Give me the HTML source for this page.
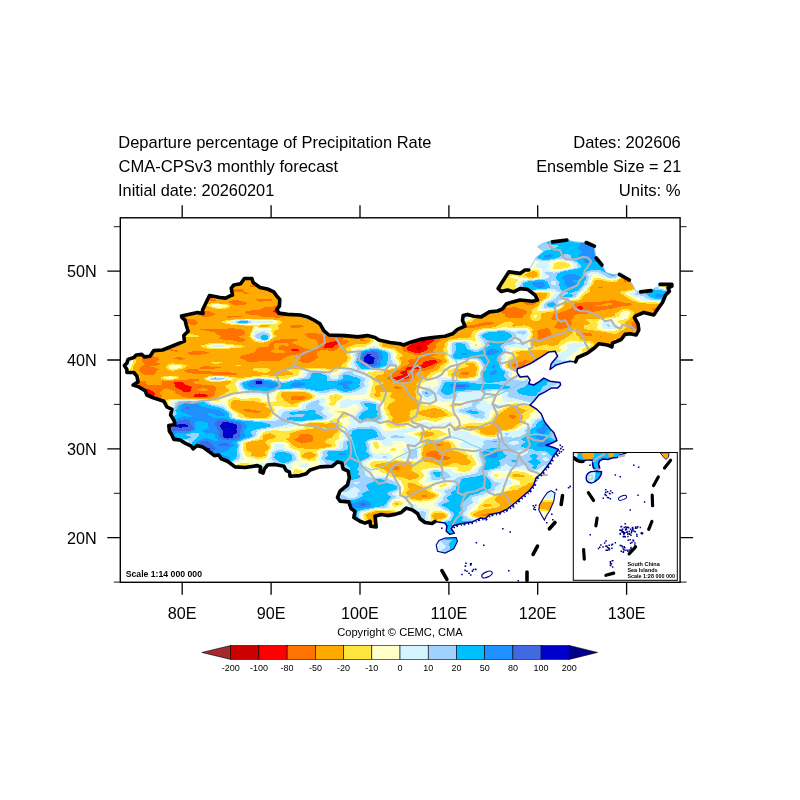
<!DOCTYPE html>
<html><head><meta charset="utf-8"><title>Departure percentage of Precipitation Rate</title>
<style>
html,body{margin:0;padding:0;background:#fff;}
svg{display:block;}
text{font-family:"Liberation Sans",sans-serif;fill:#000;}
.t{font-size:16.2px;}
.ax{font-size:16.2px;}
.cb{font-size:9px;}
.sm{font-size:8.7px;font-weight:bold;}
</style></head><body>
<svg width="800" height="800" viewBox="0 0 800 800">
<rect width="800" height="800" fill="#fff"/>
<text class="t" x="118.3" y="148" textLength="313.2" lengthAdjust="spacingAndGlyphs">Departure percentage of Precipitation Rate</text>
<text class="t" x="118.6" y="171.7" textLength="219.6" lengthAdjust="spacingAndGlyphs">CMA-CPSv3 monthly forecast</text>
<text class="t" x="118.0" y="195.5" textLength="156.3" lengthAdjust="spacingAndGlyphs">Initial date: 20260201</text>
<text class="t" x="573.2" y="148" textLength="107.6" lengthAdjust="spacingAndGlyphs">Dates: 202606</text>
<text class="t" x="536.2" y="171.7" textLength="145.0" lengthAdjust="spacingAndGlyphs">Ensemble Size = 21</text>
<text class="t" x="618.7" y="195.5" textLength="62.0" lengthAdjust="spacingAndGlyphs">Units: %</text>
<defs><clipPath id="cn"><path d="M435.0 521.5 432.0 523.5 425.0 522.5 420.0 518.8 417.5 513.5 412.5 510.0 406.2 508.1 401.2 512.5 395.0 514.4 387.5 515.6 381.2 514.4 375.0 516.2 375.6 521.2 376.2 526.9 370.6 526.2 370.0 521.2 365.0 523.1 360.0 521.2 353.8 517.5 355.0 511.2 351.2 508.8 348.8 501.9 340.0 501.2 337.5 497.5 340.0 491.2 347.5 485.0 349.4 477.5 348.1 471.2 343.1 468.8 341.9 463.1 337.5 461.9 332.5 466.2 320.0 466.9 310.0 470.0 306.2 473.8 300.0 475.6 290.0 476.2 289.4 471.9 286.2 470.6 283.8 466.2 275.0 464.4 267.5 465.0 264.4 468.8 263.1 473.1 260.0 471.9 260.6 466.9 257.5 465.6 245.0 467.5 235.0 466.9 227.5 461.2 221.2 458.8 218.8 455.0 214.4 455.6 209.4 451.9 202.5 446.9 196.9 445.6 193.1 448.8 191.2 446.2 185.0 443.1 180.0 440.0 173.8 439.4 171.9 435.0 169.4 431.2 168.8 425.6 175.0 424.4 173.8 420.0 170.6 415.0 171.9 409.4 166.9 406.9 163.8 401.2 152.5 397.5 146.9 395.0 145.0 390.6 138.8 386.9 133.1 385.0 138.1 381.9 136.9 376.2 133.8 372.5 126.9 372.5 126.9 369.4 124.4 365.6 126.9 363.1 128.1 359.4 133.8 357.5 136.2 355.0 141.9 354.4 144.4 356.9 150.0 356.2 153.8 350.6 162.5 350.0 175.0 345.0 184.4 341.2 183.8 335.6 188.1 331.2 186.2 325.0 185.0 320.0 182.0 317.5 181.5 316.0 197.5 312.5 203.0 313.5 202.5 310.0 209.5 295.5 220.0 297.5 225.6 298.1 230.6 295.6 232.5 295.0 231.2 288.1 233.8 285.0 240.6 283.8 244.4 278.5 251.9 278.5 253.1 282.5 260.0 287.5 267.5 289.0 273.8 291.9 276.9 296.2 279.8 299.4 279.4 306.2 276.9 309.4 278.8 313.1 287.5 314.4 300.0 315.0 307.5 316.9 313.8 320.0 320.0 323.8 323.8 330.6 328.8 335.0 345.0 335.6 357.5 336.9 367.5 335.6 375.0 337.5 378.8 340.0 390.0 342.5 400.0 343.8 403.8 345.0 411.2 341.9 420.0 339.4 432.5 337.5 445.0 336.2 452.5 333.8 457.5 329.4 465.0 326.2 462.5 320.5 463.1 315.6 467.5 314.4 473.8 316.2 481.2 316.9 489.4 311.9 497.5 311.0 502.5 308.8 506.2 304.0 512.5 301.9 520.0 300.0 532.5 301.2 537.5 300.0 535.0 295.0 527.5 289.4 520.0 288.6 513.8 291.9 507.5 290.0 501.2 291.5 498.1 288.5 508.8 271.9 520.0 273.4 525.0 270.0 528.8 270.0 536.2 257.5 543.8 251.2 537.5 246.9 541.9 243.8 551.2 240.6 566.9 240.0 575.0 241.9 585.0 242.5 594.4 246.2 595.0 252.5 596.2 258.0 601.9 265.0 606.2 272.5 612.5 274.4 619.4 274.4 629.4 280.0 631.2 282.5 636.2 291.2 640.6 291.9 651.2 290.6 655.0 288.0 660.0 286.0 660.0 284.4 671.9 284.4 671.9 286.2 668.0 288.0 669.4 291.2 665.6 295.0 662.5 302.5 658.8 307.5 653.8 315.0 643.8 312.5 636.2 315.6 634.4 317.5 638.0 323.8 638.8 330.0 636.2 335.0 630.0 333.8 625.0 334.4 621.2 339.5 612.5 343.1 611.9 346.9 607.5 345.0 598.8 343.8 595.0 347.5 587.5 353.1 577.5 357.5 575.6 361.9 570.0 361.2 562.5 363.1 556.2 365.0 550.0 369.4 551.2 363.8 557.5 356.2 555.0 351.2 548.8 351.9 542.5 356.2 536.2 360.0 530.0 363.8 520.0 368.1 517.5 368.5 517.0 372.0 518.5 375.0 520.0 376.9 527.5 376.2 530.0 380.0 528.8 383.8 533.8 385.0 540.0 381.2 543.8 378.1 550.0 381.2 560.0 382.5 560.6 385.0 557.5 388.1 551.2 388.1 545.0 391.9 538.8 395.0 533.8 401.2 530.0 405.0 536.2 408.8 541.2 413.8 543.8 420.0 545.0 422.5 550.0 428.8 553.8 432.5 557.0 440.5 551.0 443.5 546.0 445.3 553.0 447.3 558.5 449.5 553.5 456.0 550.0 462.5 546.2 467.5 541.2 473.8 536.2 477.5 533.8 485.0 528.8 491.2 521.2 497.5 515.0 503.0 507.5 508.8 500.0 512.5 490.0 514.4 485.0 518.8 480.0 518.1 472.5 521.9 461.2 523.8 453.8 525.6 451.2 528.8 454.4 533.1 450.0 534.4 446.2 531.2 446.9 526.2 445.0 523.1 Z M436.2 545.0 439.0 540.5 445.0 538.0 456.2 537.5 457.5 541.2 453.8 548.8 445.0 553.1 437.5 551.2 Z M551.2 490.6 555.0 493.1 553.8 501.2 550.0 510.0 546.2 516.2 544.4 520.0 542.5 516.9 538.8 510.0 539.4 505.0 543.8 497.5 547.5 492.5 Z"/></clipPath></defs>
<g clip-path="url(#cn)" shape-rendering="crispEdges" fill-rule="evenodd">
<rect x="120" y="220" width="560" height="360" fill="#ffffc8"/>
<path fill="#d4f5ff" d="M400.1 223.1 403.6 220.6 437.4 220.6 430.9 223.1 428 225.6 427.4 226.9 427.7 228.1 429.6 229.4 438.1 230.7 440.7 231.9 441.2 234.4 439.5 238.1 439.3 240.6 437.1 243.1 436.7 244.4 440.6 249.6 447.2 251.9 452.5 258.1 459.4 261.2 460.5 263.1 458.9 265.6 459.1 266.9 461.3 269.4 470.1 271.9 471.4 273.1 470.9 275.6 472.3 278.1 468.7 285.6 469.7 288.1 468.4 293.1 469.9 295.6 475.3 300.6 474.8 301.9 472.3 304.4 470.3 308.1 470.6 311.4 473 314.4 471.3 316.9 466.9 319.2 463.1 319.9 448.1 318.5 444.4 317.7 442.2 315.6 441.4 311.9 435.1 308.1 434.8 305.6 429.4 299.4 425.8 296.9 422.7 290.6 420.6 289.3 411.9 287.9 409.7 286.9 403 281.9 405.6 279.4 405.9 278.1 404.6 276.9 400.6 274.9 394.7 273.1 396.9 271.9 405.5 270.6 406.4 269.4 400.6 266.9 408.7 263.1 400.6 258.9 396.4 253.1 395.6 250.6 392.4 248.1 391.3 244.4 399.2 236.9 399.9 235.6 398 233.1 404.3 230.6 398.2 226.9 398.2 225.6ZM463.5 223.1 464.4 220.6 649.4 220.6 649.6 221.9 648.5 226.9 642.7 230.6 636.9 237.7 632.4 240.6 628.3 246.9 621.9 250.5 620.5 251.9 619.9 256.9 618.2 261.9 619.3 265.6 618.8 269.4 619.6 275.6 618.1 277.8 614.4 279.3 609.4 279.2 601.1 276.9 596.9 273.9 594.4 273.5 591.9 274.1 591.7 276.9 589 284.4 584.8 288.1 583.7 290.6 580.5 293.1 576.9 298.0 561.9 300.8 559.6 303.1 560 305.6 559.4 306.9 556.9 308.6 553.1 309.4 545.6 309.8 541.9 309.4 540.9 308.1 542.8 303.1 544.4 301.7 550.6 298.6 552.8 295.6 555.9 293.1 553.5 291.9 548.1 290.7 535.6 291.0 533.1 291.8 531.3 293.1 528.7 298.1 524.4 299.4 519.4 298.1 519 296.9 519.4 294.4 518 290.6 518.5 283.1 520.6 281.1 524.4 279.8 536.9 279.0 541 278.1 542.8 276.9 541.5 271.9 542.6 269.4 534.8 266.9 536.4 264.4 538.1 263.1 538.4 261.9 533.1 260.6 521.9 262.0 515.1 261.9 517.8 255.6 515.9 253.1 518.7 250.6 518.1 250.2 513.1 249.8 507.3 250.6 504.4 251.7 501.9 251.7 500.2 250.6 499.6 248.1 496.9 244.3 493.1 243.5 485.6 244.0 483.1 243.4 480.2 240.6 481.9 238.1 482 235.6 487.4 233.1 488.4 231.9 487.3 230.6 465.3 225.6 463.6 224.4ZM547.2 269.4 551.9 270.7 556.9 270.7 571.4 268.1 574.1 266.9 574.3 265.6 573.1 263.1 568.1 261.2 561.9 260.2 554.4 260.6 549.9 261.9 548.9 263.1 549.4 265.6 547.2 268.1ZM372.2 229.4 373.1 228.1 375.6 227.2 383.1 227.3 389.4 228.5 394.5 231.9 391.4 233.1 383.1 233.0 375.6 231.6 373.1 230.6ZM654.4 251.3 656.9 250.9 659.8 251.9 660.8 253.1 661.4 256.9 661.2 258.1 656.3 261.9 655.1 264.4 653 265.6 652.1 266.9 652.9 268.1 653 270.6 659.7 274.4 658.5 276.9 659.1 278.1 662.2 280.6 661.6 281.9 657.6 284.4 657 285.6 658 286.9 663.1 288.6 679.4 289.5 679.4 310.8 672.9 309.4 670.3 304.4 666.9 301.7 643.1 300.6 638.1 297.6 629.4 294.4 629.4 293.1 639.4 290.3 641.2 288.1 640.8 285.6 645.1 281.9 641.8 278.1 643.9 273.1 643.5 269.4 651 265.6 650.2 264.4 649.8 260.6 651.9 256.9 651.8 253.1ZM326.7 266.9 326.9 265.6 329.4 265.0 335.4 265.6 331.8 268.1 332.5 269.4 331.9 269.6 327.8 269.4 328 268.1ZM376.4 274.4 377.4 273.1 380.6 271.8 390.6 271.9 388 273.1 379.4 275.1 376.9 275.1ZM229.9 321.9 234.5 320.6 244.4 319.8 254.4 320.5 270.6 320.6 274.6 321.9 270.6 323.2 255.6 323.2 244.4 324.3 235.6 323.7ZM601.1 323.1 601.9 321.9 603.1 321.3 608.1 320.9 616.5 324.4 618.5 325.6 619.1 326.9 617.7 328.1 613.1 329.3 604.1 329.4 601.8 328.1 601.9 325.6ZM419.5 393.1 419.6 391.9 426.2 385.6 429.5 385.6 431.7 386.9 431.6 388.1 433.1 388.4 438.1 384.5 438.3 381.9 435.4 379.4 435.6 378.1 436.9 377.5 444.4 377.0 455.6 379.4 468.1 380.0 473.1 379.7 478.1 377.3 479.7 375.6 479.4 371.9 481.3 369.4 481.3 368.1 478.6 361.9 475.6 360.3 471.9 359.9 464.4 360.3 455.6 362.0 453.1 361.6 448.8 356.9 450.1 353.1 450 343.1 451.9 341.8 455.6 340.9 466.9 340.7 470.6 342.7 471.4 346.9 472.7 348.1 476.9 348.5 480.3 346.9 481.5 345.6 480.2 340.6 477.2 336.9 477.3 334.4 478.7 333.1 481.9 331.3 485.6 330.4 503.1 329.1 514.4 330.0 524.4 329.0 526.9 329.6 528.1 330.6 528.6 334.4 525.9 340.6 528 343.1 528.1 346.9 527.6 348.1 521.9 348.7 517.9 348.1 514.4 346.6 510.6 346.9 509.9 348.1 510.4 349.4 505.3 355.6 505.4 358.1 503.1 361.9 503.1 366.9 504.4 368.4 512.5 371.9 511.6 374.4 511.7 375.6 513.1 377.2 518.1 379.0 525.6 380.0 531.9 379.5 536.4 378.1 537.8 376.9 540.1 373.1 548.1 369.8 549.4 368.5 549.7 366.9 549.1 364.4 550 361.9 549.4 359.4 549.8 358.1 563.1 352.1 567.4 349.4 568 348.1 566.4 346.9 567.2 345.6 569.4 344.3 574.4 342.8 580.4 343.1 585.2 344.4 584.8 345.6 578.5 348.1 575.7 351.9 573.2 353.1 570.6 355.6 565.4 358.1 567 359.4 576.9 362.2 585.6 362.5 591.9 365.2 592.5 366.9 587.5 371.9 598.4 373.1 599.2 374.4 597.8 376.9 597.9 378.1 601.6 381.9 603.8 388.1 603.8 389.4 600.6 390.2 595.6 390.2 590.6 389.2 587.9 388.1 587.1 386.9 591.6 384.4 590.6 383.1 578 379.4 573.7 376.9 569.4 376.8 567 378.1 566.3 380.6 554.3 389.4 544.4 392.9 542.7 394.4 544.4 396.4 546.9 397.5 558.1 395.9 561.9 396.7 561.9 398.1 555.6 399.5 546.9 398.7 545.8 399.4 546.8 401.9 543.1 403.1 528.1 403.4 515.6 401.3 504.4 402.6 502.1 398.1 501.5 394.4 500.6 393.1 496.9 391.8 493 391.9 490.3 393.1 487.7 395.6 478.8 398.1 485.2 400.6 488.2 404.4 501.9 403.5 502.8 404.4 501.2 406.9 499.4 408.4 496.9 409.4 489.6 410.6 489.3 416.9 488.1 418.7 485.6 420.0 480.6 420.6 475.6 420.2 467.1 415.6 458.1 413.5 455 411.9 454.5 410.6 455.1 409.4 463.1 406.4 466.3 404.4 466.6 403.1 465.6 400.5 456.9 400.7 444.4 402.5 433.1 399.5 428.1 401.8 426.9 401.7 422.2 398.1ZM254.4 331.5 265.6 329.9 268.1 331.0 271.1 335.6 270.9 336.9 269.2 339.4 266.9 340.8 261.9 341.0 256.9 339.5 253.1 337.0 252.8 335.6ZM211.8 345.6 218.1 344.7 225.4 345.6 223.4 346.9 218.1 347.2 214.3 346.9ZM397 363.1 395.6 365.5 393.1 366.9 378.1 369.9 363.1 371.7 360.2 373.1 366.9 376.0 369.4 379.4 368 383.1 369 385.6 368.6 386.9 366 389.4 367.4 391.9 366.6 393.1 363.1 394.5 346.9 395.1 334.4 392.5 325.6 395.1 320.6 395.5 311.6 391.9 305.6 390.4 285.6 390.0 276.9 391.2 275.2 391.9 271.9 394.8 268.1 395.8 246.9 394.5 244.4 393.5 244.1 391.9 240.3 389.4 237.6 384.4 237.7 383.1 239 381.9 241.9 380.5 258.1 377.7 265.6 377.9 280.6 380.6 285.8 380.6 300.4 376.9 302.8 375.6 303.2 373.1 304.9 371.9 313.1 369.9 322.1 370.6 333.1 375.2 335.6 375.2 341.9 370.5 352.5 368.1 350.8 364.4 351.3 361.9 353.7 358.1 352.3 354.4 353.1 352.8 358.1 349.6 366.9 348.1 373.1 345.4 375.6 345.8 380.6 348.2 390.6 350.8 392 351.9 393.4 354.4 392.7 358.1 396.5 361.9ZM120.6 350.9 123.1 351.3 125.6 352.5 131.3 360.6 129 366.9 124.7 370.6 131.9 373.9 134.2 375.6 134 376.9 131.4 378.1 125.7 379.4 120.6 379.7ZM208.3 378.1 213.1 376.9 223.3 376.9 229.3 378.1 228.9 379.4 216.9 380.7 208.4 379.4ZM605.6 398.1 608.6 395.6 608.7 391.9 614.4 391.6 618 393.1 616.2 398.1 614.4 399.2 610.6 399.3ZM325.5 399.4 326 400.6 325.5 401.9 322.7 404.4 324.3 405.6 330.1 408.1 327.3 410.6 327.3 411.9 334.4 414.4 328.1 419.8 324.4 420.9 313.1 421.2 301.9 422.7 298.1 423.7 294.4 426.1 288.1 427.6 263.1 430.3 260.2 431.9 258.1 436.4 256.9 437.6 241.9 441.9 240.8 443.1 241.7 445.6 240.7 449.4 242.9 456.9 244.6 459.4 234.2 463.1 233.3 464.4 232 469.4 230.6 470.6 224.8 473.1 218 483.1 214.4 486.1 210.7 494.4 211.6 498.1 211.1 499.4 203.2 501.9 202.4 503.1 201.4 506.9 202 509.4 200.6 518.6 199.4 519.9 193.5 521.9 191.8 523.1 191.3 524.4 192.4 529.4 189.7 536.9 188.1 538.8 182.1 541.9 181.4 543.1 183.4 548.1 181.4 554.4 180.9 558.1 178.7 560.6 173.1 562.9 171.8 565.6 172.4 568.1 171.7 570.6 171.6 575.6 172.2 576.9 175.2 579.4 143.7 579.4 137.7 578.1 141.9 576.9 151.9 577.3 154.4 576.6 155.4 575.6 154.4 573.8 151.2 571.9 151 570.6 155.6 567.3 157.6 563.1 159.9 560.6 160.6 558.4 164.7 556.9 165.5 555.6 165 553.1 162.6 550.6 166.5 543.1 165.5 540.6 165.2 535.6 166.1 533.1 165.6 531.5 164.6 530.6 175.4 528.1 177 526.9 176.5 524.4 178.3 520.6 178.2 519.4 175.4 513.1 175.7 510.6 172.8 506.9 173.1 505.6 174.5 504.4 181.7 500.6 182.7 499.4 181.1 498.1 181 496.9 183.1 495.2 184.9 491.9 185.2 488.1 184.6 486.9 182.3 485.6 181.3 484.4 184.6 481.9 185 479.4 183.6 475.6 187.4 473.1 188.6 470.6 188.1 469.4 184.7 466.9 184.5 465.6 185.2 464.4 184.6 463.1 182.6 461.9 183.2 460.6 186.1 458.1 186.1 454.4 188 450.6 186.9 449.2 184.4 448.9 175.3 451.9 174.3 453.1 173.3 456.9 170.5 460.6 165.6 463.4 165.2 464.4 166.4 466.9 159 471.9 157.9 474.4 155.4 476.9 154.8 479.4 153.1 480.8 150.3 481.9 150.8 483.1 163.6 484.4 163.4 485.6 148.1 488.0 148 489.4 149.2 490.6 149.2 491.9 146.9 493.3 140.6 495.1 135.6 497.5 130.9 501.9 126.9 502.6 120.6 502.4 120.6 439.9 124.4 439.6 128.1 438.3 129.6 436.9 131.1 433.1 133.1 431.8 144.4 429.8 146.9 428.7 149.5 421.9 151.9 419.7 155.6 418.7 165.6 418.0 168.9 416.9 170.9 414.4 170.4 410.6 172.5 406.9 171.4 403.1 171.8 401.9 175.4 400.6 183.1 400.0 207.3 400.6 214.4 403.3 224.4 404.7 225.6 405.6 227 408.1 234.3 414.4 234.4 416.9 236.3 418.1 245.2 419.4 265.6 420.2 270.6 419.8 273.1 418.8 275.9 415.6 278.1 411.6 280.6 409.6 283.1 409.0 298.1 408.8 300.4 408.1 302.3 404.4 304.2 403.1 315.6 398.9 321.9 397.7ZM456.1 423.1 448.1 423.5 443.1 426.9 420.6 428.6 412.9 431.9 403.3 433.1 405.1 434.4 416.9 438.1 418.4 439.4 419.3 443.1 416.9 446.9 419.2 450.6 418.7 453.1 419.4 456.9 418.1 458.7 415.6 460.0 404.9 459.4 398.8 458.1 402.5 455.6 404.4 453.6 404.6 451.9 402.4 449.4 403.1 448.3 408 446.9 409.2 445.6 403.1 441.2 400.6 440.6 393.4 440.6 391.7 441.9 393.1 444.4 391.9 445.5 386.9 446.7 384.4 446.4 383.2 445.6 381.2 441.9 378.6 440.6 373.1 440.5 370.3 441.9 372.1 451.9 373.1 452.6 376.9 453.7 383.1 452.4 386.9 452.7 391.9 455.2 393.4 456.9 393.7 458.1 386.9 459.8 375.6 458.5 371.9 459.2 365.3 463.1 367.2 468.1 371.5 470.6 372.4 471.9 371 474.4 372.1 475.6 384.4 476.1 397.2 480.6 401 485.6 401.6 489.4 400.5 490.6 396.9 493.1 397.1 494.4 400.8 496.9 401.1 498.1 399.4 499.1 394.4 500.1 391 501.9 389.9 504.4 390.3 508.1 389.4 508.6 385.6 509.3 374.4 509.3 364 511.9 361.5 513.1 360.9 514.4 361.8 519.4 362.9 521.9 362.6 525.6 363.9 528.1 360.7 535.6 360.8 539.4 363.7 541.9 363.8 543.1 362 545.6 362 546.9 365 550.6 358.7 555.6 359.8 559.4 360.3 565.6 362.1 569.4 359.7 574.4 360.6 579.4 271.2 579.4 267.5 575.6 267.1 573.1 267.6 571.9 275.4 566.9 275.6 563.1 279 558.1 277.3 554.4 278.1 553.2 280.6 551.3 286.9 548.4 288.2 546.9 288.4 545.6 287.5 543.1 288.4 540.6 287.4 534.4 287.9 533.1 298 528.1 299.2 523.1 298.8 520.6 300.9 518.1 305 515.6 306 511.9 305.5 510.6 303.1 509.0 298.1 506.9 296.8 505.6 306.6 503.1 308.8 500.6 314.4 498.1 314.3 496.9 303.1 496.5 300.2 495.6 303.9 491.9 303.4 490.6 298.9 488.1 298.5 486.9 308.7 483.1 308.6 481.9 309.5 480.6 314.4 479.2 316.9 477.2 317.8 475.6 316.9 473.5 310.4 470.6 311.1 469.4 317.1 466.9 320 464.4 320.1 461.9 319 458.1 320.7 454.4 319.5 451.9 320.6 450.6 323.1 449.9 335.6 448.5 338.9 446.9 339.5 445.6 339.1 443.1 339.6 441.9 344.1 439.4 344.4 438.5 341.9 435.6 343.9 433.1 344.9 429.4 351.8 423.1 349.4 420.6 349.3 419.4 354.4 414.4 355.6 411.7 359.7 408.1 358.1 405.8 354.4 403.8 345.6 407.9 343.1 408.2 340.6 407.7 339.5 406.9 340.2 401.9 341.5 400.6 346.9 399.1 355.6 400.2 365.6 399.1 375.6 401.2 380.2 403.1 381.2 404.4 381.3 408.1 382.9 411.9 382.8 414.4 385.3 416.9 385.3 418.1 381.4 421.9 380.1 425.6 382.1 429.4 385.6 431.1 399.4 430.3 414.2 426.9 417.9 423.1 423.1 421.8 426.9 422.0 435.6 424.9 449.4 421.8 454.4 421.8ZM679.4 449.8 679.4 497.9 669.4 497.7 659.4 499.1 654.4 499.1 645.5 498.1 638.1 496.3 624.4 495.9 618.1 496.3 611.9 498.5 605.6 499.2 591.9 498.2 576.9 496.0 558.1 498.3 546.9 498.6 544.4 498.1 543.3 494.4 543.4 493.1 545.4 491.9 554.4 490.2 564.4 490.7 565.6 489.4 553.1 487.3 551.9 485.6 552.1 484.4 550.9 480.6 544.4 478.1 545.2 476.9 547.9 475.6 551.9 469.7 554.3 468.1 553.1 467.0 548.1 467.6 543.1 469.0 539.6 470.6 536.9 473.2 534.4 473.0 520.6 469.1 511.9 469.5 504.4 471.1 495.6 470.7 491.9 471.7 490.9 475.6 494.4 478.6 496.9 479.3 503.1 478.2 506.9 478.7 510.7 480.6 512.5 483.1 511 484.4 502.6 486.9 501.9 488.1 502.2 489.4 500.6 490.6 492.6 493.1 485.6 496.4 479.3 498.1 477.7 499.4 479.4 501.9 478.5 503.1 472.2 506.9 471.3 509.4 466.9 513.1 466.6 514.4 470.6 517.8 478.7 520.6 478.9 524.4 481.1 529.4 479.3 533.1 480.6 537.8 483.1 539.3 489.2 540.6 491.2 541.9 490.4 544.4 491.4 548.1 490.5 553.1 491 554.4 493.6 556.9 494.7 559.4 499.9 561.9 502.2 566.9 503.1 567.8 509.4 570.0 512 571.9 513.7 574.4 513.6 578.1 514.1 579.4 393.5 579.4 391.9 577.3 388.7 575.6 388.9 574.4 392.6 570.6 393.8 566.9 395.4 565.6 399.4 565.0 406.9 565.8 408.5 565.6 409.6 564.4 403.1 561.1 395.6 559.7 393.9 558.1 393.9 556.9 396.9 555.0 403.1 552.5 411.9 552.4 414.4 551.9 415 550.6 410.6 549.7 404.4 550.4 402.5 549.4 402.3 548.1 404.4 543.1 401.5 540.6 401.1 539.4 402.3 536.9 402.1 535.6 399.3 531.9 399.1 530.6 402.2 523.1 400.2 520.6 400.4 519.4 404 515.6 403.8 511.9 400.6 509.4 400.7 508.1 409.4 503.8 411.9 503.7 416.1 504.4 417.4 505.6 416.8 506.9 418 508.1 426.9 508.8 428.7 509.4 430 510.6 427.9 515.6 429.1 520.6 427.1 524.4 427 528.1 421.9 530.9 417.3 535.6 417.8 540.6 418.6 541.9 423.1 543.3 429.4 543.3 435.6 541.3 438.1 539.9 439.4 538.1 439.3 534.4 440.7 529.4 439 525.6 439 523.1 440.6 521.7 446.9 519.3 449.6 516.9 449.7 514.4 447.5 511.9 433.9 505.6 433.9 503.1 438.1 500.3 442.3 494.4 440.6 492.9 435 490.6 436.9 489.3 446.9 487.9 452.3 484.4 453 483.1 450.6 481.6 445.6 480.9 434.4 482.3 424.4 481.9 427.3 478.1 428 475.6 427.4 471.9 429.4 470.2 433.1 469.1 450.6 469.4 454.4 472.5 456.9 473.4 465.6 473.6 473.1 471.6 474.5 470.6 476 468.1 479.6 465.6 480 464.4 475 453.1 478 450.6 477.6 449.4 474.4 448.6 463.1 447.9 461.2 446.9 459.6 444.4 460.3 443.1 463.6 441.9 464.3 440.6 460.6 439.4 453.1 439.2 447.3 438.1 448.1 436.9 454.2 434.4 449.6 431.9 450.4 430.6 458.1 430.2 468.6 431.9 472.1 434.4 478.1 436.1 481.9 438.4 495.6 438.2 499.6 436.9 501.8 433.1 505.6 431.7 516.9 431.2 521.9 428.2 526.1 426.9 527.8 424.4 530.7 421.9 530.3 420.6 530.9 419.4 538.6 416.9 541.1 415.6 541.5 414.4 543.1 413.4 550.6 413.2 558.1 411.1 569.4 410.3 580.6 407.7 608.1 408.5 611.4 409.4 610 411.9 617.3 413.1 615.4 415.6 615.9 416.9 618.4 418.1 624.4 419.5 634.4 419.9 638.1 421.4 639.5 423.1 639.4 424.4 641.5 426.9 641.2 428.1 639.9 429.4 640.6 430.4 652.6 431.9 653.9 433.1 653.9 434.4 667.9 441.9 670.7 446.9 672 448.1 675.6 449.5ZM587.1 428.1 595.6 428.3 598.1 427.9 599.6 426.9 595.2 425.6 591.6 425.6 587.3 426.9ZM560.8 430.6 564.4 431.8 568.1 432.0 577.1 430.6 580.2 429.4 577.2 428.1 569.4 426.7 561.7 429.4ZM601.3 490.6 605.6 491.9 609.1 490.6 607.2 489.4 603.1 489.6ZM654.6 489.4 659.5 489.4 656.9 488.7ZM575.8 490.6 579.4 491.0 581.2 490.6ZM423.1 560.6 423.1 561.9 429.4 563.0 433.1 562.9 434.9 561.9 434.7 560.6 433.1 560.0ZM621.1 411.9 624.1 410.6 626.9 410.3 631.3 410.6 633.8 411.9 626.9 413.2 623.1 412.9ZM253.9 465.6 256.9 464.3 268.8 461.9 268.1 459.4 270 455.6 270.1 451.9 275 448.1 273.8 445.6 273.9 444.4 275.6 443.9 283.3 444.4 284.7 445.6 283.3 448.1 290.6 450.3 295.6 452.5 297.4 454.4 298.1 458.0 299.9 460.6 293.1 462.9 290.8 464.4 290.8 465.6 292.2 466.9 290.2 473.1 290.5 474.4 292.6 476.9 290.9 478.1 288.1 478.6 281.7 478.1 279.1 476.9 278.2 475.6 278.7 473.1 282.1 468.1 281.9 466.9 280.3 465.6 273.1 464.1 263.1 467.2 258.1 468.0 254.4 467.1ZM308.6 464.4 306.9 466.9 303.1 467.3 298.5 466.9 299.3 465.6 305.6 463.3 307.3 463.1ZM254.4 470.0 258.1 469.4 265.6 471.0 270.1 473.1 270.3 475.6 273 478.1 273.1 479.4 269.7 484.4 266.9 486.9 268.7 490.6 267.3 494.4 270.4 496.9 265.6 498.7 256.9 499.2 249.8 493.1 249.5 491.9 253.5 488.1 249.8 485.6 249.9 484.4 253.1 479.1 255.4 476.9 250 474.4 249.3 473.1ZM253.6 500.6 255.6 499.5 258.1 499.5 269.6 501.9 270.1 503.1 269.5 504.4 270.4 506.9 270.3 508.1 264.9 510.6 263.9 511.9 264.4 513.1 270.1 516.9 269.9 518.1 266.4 519.4 255.6 521.2 249.1 516.9 248.7 515.6 251.4 509.4 250.7 506.9 251.1 505.6 254.1 503.1ZM159.7 515.6 158.1 516.6 153.1 517.4 147.6 519.4 141.9 520.3 133.1 519.4 127.9 518.1 126.8 516.9 128.9 515.6 131.9 515.1 143.1 515.8 145.6 515.3 146.9 514.4 150.6 514.0 157.7 514.4ZM635.4 518.1 636.6 516.9 645.6 515.8 649.4 516.3 650.5 516.9 651.9 518.8 659.6 520.6 657.8 521.9 657.5 523.1 664.4 524.7 670.6 527.8 679.4 528.0 679.4 532.6 665.6 532.5 661.9 531.9 648.1 525.4 640.6 523.8 637 520.6ZM543.7 524.4 545.6 520.2 546.9 519.0 549.4 518.4 558.1 521.6 563.1 522.6 568.1 523.0 576.9 521.4 581.9 521.5 589.9 523.1 593.1 524.7 597.2 525.6 595.6 526.4 589.4 525.6 564.4 526.9 546.9 525.4ZM251.6 526.9 253.1 525.0 254.4 524.6 255.6 525.1 258.1 528.1 259.9 529.4 260.2 530.6 255.6 532.8 253 533.1 251.3 531.9 252 530.6ZM565 534.4 566.9 533.7 574.4 533.6 581.9 532.2 586.9 532.1 590.7 533.1 591.4 534.4 590.9 535.6 593.9 538.1 590.6 538.9 586.9 538.8 584 538.1 583.4 536.9 581.9 535.9 579.4 535.1 574.4 534.6 566.9 535.8ZM658.5 535.6 660.6 535.2 663 535.6ZM560.3 540.6 563.1 539.0 565.6 538.5 572.5 540.6 574.3 541.9 569.4 542.4ZM546.5 541.9 547.1 540.6 550.6 540.4 555.2 540.6 558.5 541.9 551.9 542.8ZM127.3 541.9 138.1 540.6 141.9 541.8 142.4 543.1 139.4 544.4 133.1 544.7 127.7 543.1ZM626 543.1 626.4 541.9 629.4 541.3 634.4 541.8 638.4 543.1 637.2 544.4 630.6 545.1 628.1 544.5ZM670.7 546.9 673 545.6 679.4 545.3 679.4 548.4 674.3 548.1ZM619.6 550.6 616.9 552.0 612 553.1 596.9 553.5 593.1 556.3 589.4 557.4 574.4 557.0 569.9 555.6 568.6 554.4 584.4 550.5 589.4 550.2 595.6 551.1 604.4 548.8 618.8 549.4ZM642 550.6 648.1 549.4 654.6 550.6 652.4 551.9 645.6 551.9ZM676.9 557.6 679.4 556.7 679.4 559.5 676.9 558.3ZM617.7 561.9 620.3 560.6 639.6 561.9 633.1 563.4ZM120.6 566.3 120.6 563.4 126.9 563.4 129.5 564.4 125.7 565.6ZM533.8 564.4 535.9 564.4 539.4 566.0 550.6 567.3 553.1 568.1 546.9 569.9 537.1 569.4 534.3 568.1 534.9 566.9ZM564.4 568.1 581.9 563.3 585.6 563.8 590.6 565.5 599.4 566.9 601.6 568.1 595.6 570.6 594.2 573.1 581.9 574.3 576.9 574.1 573.1 573.2 570 571.9ZM120.6 569.2 126.9 572.3 129.1 574.4 126.9 576.4 121.4 578.1 125.7 579.4 120.6 579.4ZM521.8 579.4 524.4 578.8 527.3 579.4Z"/>
<path fill="#a0d2ff" d="M408.2 220.6 432 220.6 424.3 225.6 423.1 226.9 422.3 229.4 436.9 231.8 438.6 233.1 438.7 234.4 436.4 240.6 433.1 242.0 426.5 243.1 426 244.4 433.5 246.9 437.3 250.6 443 251.9 445.8 253.1 449.4 258.6 455.3 263.1 454.1 265.6 458.2 269.4 467.8 273.1 467.9 275.6 469.6 278.1 467.2 281.9 465.6 287.5 463.4 290.6 463.7 293.1 468.7 296.9 471.4 300.6 471 301.9 466.5 306.9 468 311.9 469.7 314.4 469.5 315.6 468.2 316.9 464.4 318.2 460.6 318.5 448.1 316.9 445.6 316.1 444.5 314.4 445.2 311.9 438.7 308.1 438.9 305.6 434.4 302.2 428.2 295.6 425.7 291.9 425.8 289.4 414.4 286.7 408.4 283.1 408.2 281.9 410.2 279.4 410 278.1 406.1 274.4 406.5 273.1 413.3 269.4 413.1 268.1 411 266.9 411.3 265.6 417.8 263.1 409.1 260.6 404.2 258.1 403 256.9 402.8 254.4 400 250.6 397.4 244.4 399.6 241.9 401.2 238.1 404.1 234.4 412.9 231.9 414.5 230.6 405.6 228.8 402 226.9 401.9 225.6ZM430.3 286.9 430.8 288.1 436.9 288.8 444.1 288.1 445.4 286.9 438.1 285.9ZM467.3 221.9 467.7 220.6 485.9 220.6 485.5 223.1 486.9 223.7 494.4 224.4 500.7 223.1 494.3 220.6 648.2 220.6 648.1 224.4 646.9 226.9 641.9 229.9 635.9 236.9 630.2 240.6 628.6 244.4 626.6 246.9 621.5 249.4 619 251.9 618.5 256.9 616.6 261.9 617.7 265.6 617.3 269.4 618.1 273.1 617.1 276.9 614.4 278.2 610.1 278.1 606.6 276.9 605.3 275.6 599.4 272.6 595.6 271.6 591.9 271.9 587.8 273.1 587.4 274.4 588.4 275.6 588.8 278.1 586.8 284.4 582.4 288.1 581.1 290.6 577.6 293.1 575.5 296.9 572.3 298.1 561.9 299.2 559.4 300.0 557.9 301.9 558.2 305.6 557.3 306.9 554.4 308.1 549.4 308.5 545.6 308.3 544.4 307.6 543.9 305.6 544.8 303.1 553.4 299.4 555.3 298.1 555.9 296.9 560.5 294.4 561.4 293.1 560.1 291.9 554.4 289.0 534.4 290.3 531.9 291.2 529.5 293.1 526.9 297.5 525.6 298.2 523.1 298.2 521.4 296.9 521.3 294.4 519.7 290.6 520.9 283.1 522.2 281.9 525.6 280.7 548.1 278.3 549.4 276.9 549 275.6 544.8 273.1 545.6 271.9 554.4 272.6 575.9 268.1 577.7 266.9 576.4 263.1 574.4 261.8 564.4 258.7 555.6 259.4 544.4 261.5 534.4 259.1 524.4 258.8 523.4 258.1 523.5 256.9 521.5 253.1 526.1 249.4 525.5 248.1 521.9 247.1 508.1 248.7 503.1 248.1 501.6 246.9 500.8 244.4 499.3 243.1 489.4 241.0 487.4 239.4 488.7 235.6 493.3 233.1 493.7 231.9 488.1 229.1 470.6 225.3 468.1 224.0ZM528.5 223.1 535.6 223.1 531.9 222.3ZM551.7 280.6 550.7 283.1 551.5 284.4 554.4 285.2 555.6 284.6 556.5 281.9 554.4 280.7ZM377 229.4 383.4 229.4 381.9 230.4ZM645.6 278.1 647.9 274.4 653.1 274.3 654.3 275.6 653.7 276.9 657 279.4 657.5 280.6 655.6 281.4 651.9 281.2 646.4 279.4ZM634 294.4 635 293.1 641.9 291.1 645.6 286.1 648.1 285.2 661.9 289.4 679.4 290.5 679.4 309.7 676.4 309.4 674.4 308.1 672.9 304.4 668.2 300.6 650.6 299.7 646.9 298.4 643.1 296.2ZM234.2 321.9 238.6 320.6 244.4 320.2 249 320.6 251.6 321.9 249.4 323.3 244.4 323.8 238.1 323.5ZM606.3 324.4 608.8 324.4 610.6 325.6 610.4 326.9 608.1 326.8ZM436.9 393.1 436.8 391.9 440.8 384.4 441.9 381.0 443.1 379.5 474.4 381.4 476.9 380.9 481.3 375.6 481 371.9 483.2 369.4 483.3 368.1 480.6 361.6 478.1 359.8 474.4 359.0 456.9 360.3 453.1 359.4 450.6 356.9 452.5 350.6 452 344.4 452.4 343.1 455.5 341.9 465.2 341.9 468.1 343.6 469 346.9 470.6 348.8 474.4 350.2 478.1 349.7 485.1 345.6 483.3 340.6 479.7 336.9 479.3 335.6 479.8 334.4 483.1 332.4 486.9 331.4 501.9 330.1 509.4 330.9 515.5 333.1 516.4 335.6 516.4 336.9 512.3 339.4 512.1 340.6 516.9 342.8 524 343.1 524.1 344.4 523.1 345.0 516.9 343.4 505.2 345.6 503.9 346.9 506.5 350.6 501.3 355.6 501.6 359.4 500.9 363.1 501.9 368.0 508.8 371.9 507.8 374.4 508 375.6 510.6 378.2 514.4 380.0 526.9 381.4 538.2 379.4 541.1 376.9 541.8 374.4 543 373.1 550.7 370.6 551.8 368.1 551.3 364.4 553.1 360.0 554.4 359.1 556.9 359.2 566.2 361.9 566.3 363.1 567.6 364.4 573.1 366.7 581.9 364.3 585.6 364.4 588.8 365.6 588.9 366.9 585.2 369.4 573.5 371.9 564.4 375.6 562.5 378.1 562.4 380.6 561 381.9 555.6 384.9 550.4 386.9 545.7 390.6 540.8 393.1 539.9 394.4 540.2 396.9 539.1 399.4 539.2 400.6 536.9 401.7 526.9 401.6 516.9 398.8 510.6 397.8 508.3 396.9 507.4 395.6 508.5 391.9 495.6 390.0 491.9 390.2 485.6 391.7 475.6 391.3 460.6 392.1 457.2 393.1 456.7 394.4 457.7 396.9 453.8 398.1 446.9 399.1 442.6 398.1ZM515.9 333.1 517 331.9 520.6 330.6 524.4 330.6 526 331.9 525.6 333.7 523.1 334.9ZM255 335.6 255.8 334.4 259.4 332.6 264.4 332.2 268.1 333.6 269.6 335.6 269.8 336.9 268.4 339.4 264.4 340.8 256.9 337.9 255.3 336.9ZM353.8 361.9 355.8 358.1 355.2 354.4 355.7 353.1 357.5 351.9 361.9 350.1 374.4 347.4 386.6 350.6 389.2 351.9 390.5 354.4 390.5 358.1 393 363.1 392.7 364.4 391 365.6 379.4 368.8 357.4 370.6 357.1 368.1 355.1 365.6ZM120.6 352.8 123.1 353.2 124.8 354.4 125 356.9 129.2 360.6 126.8 366.9 124.4 368.3 120.6 368.8ZM365.5 379.4 363.4 383.1 365 385.6 364.7 386.9 355.6 391.5 348.1 393.5 343.1 393.1 334.4 390.5 331.9 390.7 325.6 393.1 323.1 393.3 305.6 389.6 285.6 389.3 274.4 390.6 268.1 393.6 263.1 393.6 251.9 392.4 244.4 389.8 241.9 388.1 239.7 384.4 239.9 383.1 243.1 381.2 258.1 378.3 268.1 379.0 281.9 381.6 286.9 381.4 293.1 379.6 304.4 377.5 306.9 375.7 307.6 373.1 310 371.9 314.4 371.0 320.6 371.7 326.9 374.2 329.4 375.6 330.7 378.1 331.9 379.1 334.4 379.6 336.9 379.3 339.2 378.1 339.3 375.6 344.4 372.1 348.1 371.2 353.1 371.4 353.9 371.9 352.9 373.1 354.2 374.4 362.8 376.9ZM129.6 375.6 128.1 377.0 120.6 378.1 120.6 374.6 126.8 374.4ZM210.5 379.4 210.5 378.1 214.4 377.4 224.6 378.1 224.2 379.4 214.4 380.0ZM421.4 393.1 421.9 391.7 425.6 390.2 429.4 390.7 434.6 393.1 430.6 396.0 426.9 397.0 424.4 396.4ZM320.6 400.6 320.3 401.9 318.7 403.1 318.4 404.4 324.2 408.1 321.7 410.6 321.4 411.9 322.1 413.1 326.9 415.9 326.9 418.1 325.3 419.4 291.9 422.5 289.4 423.1 286.9 424.7 277.6 426.9 261.6 429.4 258 430.6 256.4 431.9 256.1 435.6 255 436.9 239.8 441.9 239 443.1 240.1 445.6 238.8 449.4 239.9 455.6 239.6 458.1 238.8 459.4 232.8 461.9 231 464.4 230.6 468.1 229.7 469.4 223.1 472.1 219.8 478.1 213.2 484.4 211.7 486.9 209.5 493.1 209.4 498.1 207.7 499.4 202.8 500.6 200.6 501.9 199.6 506.9 200.3 509.4 198.7 518.1 197.3 519.4 190.6 522.2 189.6 524.4 190.7 529.4 188.9 535.6 186.9 538.0 179.9 541.9 179.5 543.1 181.4 546.9 181.5 549.4 178.2 558.1 176.4 559.4 171.8 560.6 170.1 561.9 170.7 568.1 169.9 571.9 170 575.6 172.9 579.4 155.7 579.4 158.1 575.6 156.5 571.9 156.5 570.6 159.3 564.4 164.4 559.7 168.1 558.2 168.9 556.9 168.1 553.1 166 549.4 169.1 543.1 168.2 540.6 168.6 534.4 170.9 530.6 178.4 528.1 179.3 526.9 179 524.4 180.3 520.6 178.2 513.1 178.5 509.4 176.9 506.9 176.8 505.6 179.5 503.1 185.2 500.6 186.4 499.4 185.5 496.9 188 488.1 186.7 484.4 187.4 475.6 190.7 471.9 190.9 470.6 188.2 466.9 188.5 463.1 187.4 460.6 188.8 458.1 188.6 454.4 190.8 450.6 189.4 448.1 186 445.6 188.1 444.3 189.3 441.9 188.4 440.6 185.6 440.3 181.3 441.9 181.5 443.1 185.4 445.6 180.6 448.6 171.8 451.9 171.5 454.4 170.1 456.9 162.2 463.1 162.6 466.9 161.9 468.1 155 471.9 154.2 474.4 151.8 476.9 151.4 479.4 144.6 481.9 143.3 483.1 145.2 485.6 143.2 488.1 143 490.6 133.1 492.9 134.1 495.6 128.1 500.2 120.6 500.8 120.6 441.0 125.6 440.5 128.1 439.5 130.9 436.9 132.3 433.1 134.4 432.1 144.4 430.5 147.8 429.4 148.9 428.1 150 423.1 151.9 420.6 156.2 419.4 166.9 418.6 170.6 417.3 173.2 414.4 172.6 410.6 174.4 408.1 175.1 403.1 176.1 401.9 179.4 401.0 199.4 400.7 208.2 401.9 211.5 404.4 220.6 405.9 223.1 407.0 230.7 413.1 231.6 414.4 231.7 416.9 233.1 418.2 241.9 419.8 269.4 421.4 276 420.6 279.2 419.4 283.4 411.9 288.1 410.9 303.8 409.4 306.3 408.1 306.1 405.6 311.6 401.9 316.9 400.3ZM354.3 419.4 354.6 418.1 358.3 413.1 363.2 408.1 359.8 403.1 360.2 401.9 364.4 401.1 369.4 401.4 375.6 402.7 378.6 404.4 379.2 409.4 380.5 411.9 380 414.4 382.4 416.9 382.3 418.1 380.6 419.5 376.9 421.4 373.1 422.2 359.4 421.3 356.3 420.6ZM459.1 410.6 460.6 409.4 470.8 406.9 472.5 405.6 472.1 403.1 473.1 401.9 475.6 401.1 478.1 401.2 479.9 401.9 479.8 403.1 475.5 405.6 475.8 406.9 478 409.4 484.4 412.2 485.2 413.1 484.3 414.4 484.5 415.6 485.7 416.9 485 418.1 483.1 418.6 476.9 418.3 470.6 415.1 459.6 411.9ZM679.4 450.9 679.4 486.1 665.6 483.7 654.4 483.8 641.9 481.9 631.9 482.6 616.9 481.9 598.1 485.7 588.1 483.4 574.4 483.7 567.4 480.6 567.2 479.4 567.9 478.1 566.9 476.5 564.4 475.4 557.7 474.4 555.6 473.4 555.1 471.9 556 470.6 560.2 468.1 560.4 466.9 558.1 465.2 553.1 464.3 545.6 464.7 543.3 465.6 540.8 468.1 538.5 469.4 533.1 470.6 527.8 469.4 526.8 468.1 527.5 466.9 527.5 465.6 524.4 465.2 518.1 467.2 513.1 467.4 510.4 466.9 506.9 464.4 505.6 464.2 499.4 468.6 490.2 470.6 488.2 471.9 488.4 475.6 492.7 480.6 495.6 482.1 502.2 483.1 494.9 486.9 495.2 489.4 494 490.6 488.1 492.2 483.1 494.5 473.3 496.9 471.9 497.9 471.3 499.4 472.9 501.9 472.4 503.1 466.4 506.9 466.9 509.4 462.8 513.1 463 514.4 468.1 518.6 475.3 520.6 476.6 521.9 479.4 529.4 477.8 533.1 478.8 538.1 480.6 539.8 488.4 541.9 488.3 544.4 489.3 548.1 488.3 554.4 490.5 556.9 490.7 559.4 497.5 561.9 498.8 563.1 500.4 568.1 507.1 570.6 508.9 571.9 510.6 575.6 510.9 579.4 438.5 579.4 442 576.9 442.7 575.6 439.8 574.4 434.4 573.6 431.9 573.8 422.6 578.1 423.1 579.4 397.5 579.4 396 575.6 397.8 574.4 401.9 573.9 411.9 574.4 418.2 573.1 416.9 572.3 406.9 570.6 420.6 568.0 421.8 569.4 420.6 571.9 429.4 572.3 431.9 571.6 437.7 568.1 440.1 565.6 440.8 564.4 440.8 560.6 443.3 558.1 442.9 553.1 440.6 550.6 444.9 548.1 445.8 546.9 445.5 545.6 441.3 541.9 440.9 540.6 441.2 534.4 442.7 529.4 440.5 524.4 441.9 522.4 449.2 519.4 451.7 515.6 450.9 513.1 449.8 511.9 438 505.6 437.8 504.4 438.8 503.1 443 500.6 442.7 498.1 446.4 494.4 444.2 491.9 444.6 490.6 450.6 488.7 457.2 483.1 456.9 481.9 454.7 479.4 456 478.1 460.6 476.5 473.1 474.2 478.2 471.9 479 468.1 482.4 465.6 482.7 464.4 478.8 455.6 478.6 453.1 481.2 450.6 482.6 445.6 484.5 444.4 483 441.9 484.5 440.6 498.1 438.9 505.6 436.3 513.1 437.7 519.4 436.9 525.6 433.1 525.9 431.9 524.5 430.6 525.2 429.4 531.7 426.9 532 424.4 535 421.9 535.1 420.6 536.9 419.3 543.1 418.1 554.6 418.1 555.8 416.9 555.9 415.6 557.3 414.4 561.9 412.9 573.1 412.5 594.4 409.6 599.6 410.6 599.3 411.9 599.9 413.1 602 414.4 604 416.9 613.1 419.4 614.8 420.6 634.4 421.9 637.6 426.9 636.4 428.1 618.1 429.8 613.1 429.0 604.4 425.5 598.1 424.3 590.6 423.9 580.6 425.3 573.1 423.6 566.9 423.8 558.9 425.6 555.1 428.1 553.2 433.1 554.8 436.9 559.4 437.9 579.4 436.7 584.4 437.5 589.8 439.4 594.4 439.6 596.6 439.4 598.7 438.1 598.9 435.6 600.6 435.0 610.6 436.1 618.1 434.0 623.1 433.8 629.4 435.2 635.6 435.2 644.4 436.8 655.6 437.7 665.9 441.9 667.4 443.1 669.4 447.2 671.9 449.5 674.4 450.4ZM504.9 443.1 514.4 445.4 519.4 443.2 519.5 441.9 515.6 440.7 511.9 440.6 505.8 441.9ZM513 453.1 520.6 456.5 527.8 453.1 528.6 451.9 526.9 450.5 520.6 450.0 514.3 451.9ZM540.6 453.1 541.5 454.4 544.4 455.3 546 454.4 545.5 453.1 544.4 452.8ZM542.4 459.4 544.4 460.6 546.9 461.1 548.4 460.6 549 459.4 548.1 458.1 545.6 457.0 542.5 458.1ZM376.9 427.9 380.4 431.9 382.3 435.6 387 438.1 384.4 439.5 371.9 439.7 369.4 440.6 368 441.9 369.5 448.1 369.2 451.9 373.1 455.6 372.6 456.9 363.1 461.6 361.9 462.8 362.4 466.9 361.9 468.1 362.4 469.4 365.5 471.9 365.2 474.4 368.1 477.0 371.9 477.7 381.9 477.6 392.5 480.6 398.8 485.6 399.5 488.1 399.2 489.4 397.7 490.6 391.9 493.1 392.1 494.4 396.3 496.9 395.2 498.1 391.9 499.7 389.1 501.9 386.9 506.9 384.4 507.9 374.4 508.4 360.6 511.7 359 513.1 359.7 519.4 360.9 521.9 360.1 525.6 360.8 528.1 360.5 531.9 358.7 535.6 358.3 539.4 360.7 541.9 360.9 543.1 359.9 545.6 362.3 550.6 356.6 555.6 356.3 556.9 359.1 568.1 357.8 574.4 358.6 579.4 276.8 579.4 271.9 577.4 270.1 575.6 270.3 573.1 271.9 571.4 276.9 568.7 278.3 566.9 277.9 563.1 280.9 558.1 280.2 554.4 281.9 552.9 288.1 550.2 290.7 546.9 290 543.1 290.5 540.6 289.9 538.1 290.6 533.1 300.6 528.1 301 525.6 302.3 523.1 302.2 520.6 303.2 519.4 309 515.6 308.6 511.9 305.8 508.1 305.7 506.9 310.2 504.4 311.9 501.9 313.8 500.6 332.1 496.9 333.4 495.6 331.9 494.9 307 494.4 309.4 492.7 319.4 492.4 320.6 491.2 322 488.1 320.4 485.6 323.1 483.7 326.2 483.1 320.4 480.6 320.4 478.1 322.8 473.1 322.3 471.9 318.7 470.6 317.7 469.4 325.1 464.4 325.7 463.1 321.7 459.4 321.4 458.1 323.4 454.4 322.1 451.9 325.6 450.4 339.4 449.7 341.9 448.8 343 446.9 342.6 443.1 343.5 441.9 348.3 439.4 348.4 438.1 345.6 435.6 347.6 433.1 348.3 430.6 350.6 428.8 355.6 427.6 371.9 426.4 374.4 426.6ZM352.7 483.1 354.4 483.8 356.9 483.7 359.2 483.1 361 481.9 355.8 481.9ZM359.8 490.6 356.9 487.7 354.4 486.8 353.1 487.2 346.9 491.7 336.2 493.1 334.3 494.4 343.1 495.1 345.6 495.9 348.8 498.1 353.1 498.3 357 496.9 358.1 495.6 357.3 493.1ZM504.9 434.4 505.7 433.1 510.1 433.1 506.9 434.9ZM577.6 433.1 581.2 433.1 579.4 433.6ZM390.2 436.9 393.1 435.4 396.9 435.2 404.5 436.9 404.7 438.1 392.4 438.1ZM409.7 449.4 411.9 448.6 414.4 448.6 416.9 450.4 416.7 453.1 417.5 456.9 416.2 458.1 413.1 458.8 408.2 458.1 408.1 456.9 409.9 453.1ZM271.2 458.1 272.6 451.9 276.9 450.2 281.9 450.1 288.1 451.1 294.4 454.4 295.2 455.6 295.9 459.4 294.9 460.6 288.1 463.8 284.4 464.8 277.8 463.1 273.1 460.4ZM381.6 456.9 384.4 456.0 387.4 456.9 386.6 458.1 385.6 458.2 383.4 458.1ZM285.6 470.0 287.3 470.6 287.2 474.4 288 476.9 284.4 477.0 282.5 475.6 282.2 474.4 283.1 471.9ZM430.1 473.1 430.4 471.9 433.1 470.5 436.9 470.2 441.9 470.8 446.9 472.1 451.1 476.9 449.7 478.1 436.9 480.0 433.1 479.9 432 479.4 431.2 478.1ZM252.6 473.1 254.4 471.9 258.1 471.3 262.7 471.9 265.3 473.1 264.1 474.4 260.6 474.9 254.9 474.4ZM268 479.4 266 483.1 263.1 484.5 256.9 485.2 254.4 484.5 253.7 483.1 256 480.6 264.4 477.6 267.4 478.1ZM615.6 489.4 620.6 488.0 628.1 488.6 629.9 489.4 629 490.6 629.1 491.9 632.8 493.1 629.4 494.4 620.6 494.3 617.8 493.1 615.8 490.6ZM265.3 490.6 264.4 492.2 260.6 493.1 255.6 493.0 253.6 491.9 254.6 490.6 259.4 489.2 263.1 489.4ZM679.4 488.4 679.4 494.7 669.4 494.8 660.6 495.9 658.4 495.6 660.6 495.0 663.1 491.9 666.3 490.6ZM572.7 494.4 565.6 495.7 560 495.6 562.2 494.4 568.1 493.2 570.6 493.2ZM587.7 494.4 593.1 493.4 597.1 494.4 591.9 495.3ZM255.8 506.9 259.4 505.7 265.7 506.9 264.9 508.1 261.9 508.5 258.6 508.1ZM252.2 515.6 253.1 513.1 254.4 512.1 256.9 511.6 264.6 516.9 262.8 518.1 258.1 518.5 254.4 517.4ZM425.9 511.9 426.1 513.1 425.2 515.6 425.6 520.6 424.4 521.4 411.9 521.2 408.1 520.6 414.4 520.0 416.2 518.1 415.7 516.9 409.5 514.4 410.2 513.1 421.9 511.1ZM409.4 524.2 414.5 525.6 415.2 526.9 418.6 529.4 418.6 530.6 416.9 533.1 413.5 535.6 413.6 538.1 412.9 539.4 410.6 540.9 408.1 541.2 405.6 540.6 404.9 539.4 406.2 536.9 401.9 533.3 400.9 531.9 401 530.6 404.3 525.6ZM408.3 545.6 409.4 544.4 411.9 543.7 417.1 544.4 419.9 545.6 418.1 546.6 410.6 546.5ZM421.4 549.4 422.3 548.1 424.4 547.9 428.5 548.1 428.8 549.4 424.4 550.6ZM427.8 554.4 425.6 556.9 423.1 557.5 415.9 555.6 415.2 554.4 423.4 551.9 424.4 551.0 424.9 551.9 426.9 552.5ZM580.9 570.6 583.7 570.6 583.1 571.2Z"/>
<path fill="#00bfff" d="M406.4 226.9 407.1 225.6 409.9 224.4 412.5 221.9 414.4 221.0 427.2 220.6 424.9 223.1 417.3 225.6 416.6 226.9 414.4 228.0 410.3 228.1ZM470.8 221.9 471.4 220.6 479.1 220.6 479 223.1 478.1 224.0 475.6 224.5 471.9 223.5ZM514 235.6 518.4 234.4 519.8 233.1 515.3 229.4 516.6 228.1 526.8 225.6 540.6 225.1 542.9 225.6 538.2 229.4 538.1 230.6 539.4 232.3 541.9 233.6 551.9 230.2 561 228.1 560 226.9 556.9 225.5 546.9 224.0 545.6 223.4 544.5 221.9 537.5 220.6 646.8 220.6 647.1 221.9 645.6 225.9 640.6 229.2 638.1 233.1 628.1 240.6 626 245.6 617.9 250.6 617.1 253.1 616.9 257.3 614.5 261.9 615.6 265.9 615.5 269.4 616.3 273.1 615.1 275.6 613.1 276.4 611.9 276.1 599.4 269.5 593.1 269.7 585.6 271.8 583.2 273.1 583.6 274.4 585.6 276.2 586.4 278.1 586.2 279.4 584 281.9 584.1 284.4 580.6 287.4 578.2 290.6 570.6 292.8 568.1 292.7 563.1 290.9 560.8 289.4 559.1 285.6 559.6 281.9 555.7 278.1 557 274.4 558.4 273.1 561.5 271.9 580.4 268.1 581.2 266.9 580.8 265.6 578.1 262.1 572 259.4 571 255.6 568.1 254.3 564.4 254.5 557.2 258.1 548.1 259.9 543.1 259.8 537.6 258.1 536.5 256.9 539.4 251.9 550.6 249.5 557.1 246.9 558.7 245.6 549.4 244.6 541.9 241.1 530.6 240.2 514.4 236.9ZM544.7 236.9 543.1 235.2 540.6 234.2 536.4 235.6 535.5 236.9 540.6 238.1 543.1 237.8ZM492.5 228.1 494.4 227.4 506.9 226.0 512.3 226.9 513.5 228.1 509.5 229.4 501.9 230.0 496.9 229.6ZM436.2 234.4 434 239.4 430.6 240.4 424.4 240.4 416.9 237.9 407.1 238.1 408.4 235.6 410.7 234.4 421.9 231.7 431.7 231.9 435.6 233.0ZM493.6 238.1 495.6 237.9 500.6 239.2 511.9 240.4 517.7 241.9 518.2 243.1 511.6 246.9 505.6 246.9 504.4 245.6 504.6 244.4 503.5 243.1 493.8 239.4ZM401.5 244.4 404.4 242.5 409.4 242.4 415.6 244.1 425.6 249.4 422.9 250.6 421.9 253.2 418.9 253.1 414.4 251.2 405.6 250.9 403.5 249.4 403.3 248.1 401.5 245.6ZM438.4 258.1 443.1 257.7 444.5 259.4 443.1 260.1ZM452.3 269.4 451.9 270.5 445.6 270.2 440.5 271.9 426.4 274.4 423.5 275.6 422.9 276.9 423.3 278.1 421.9 279.1 418.1 279.2 415.6 278.5 410 274.4 410.5 273.1 413.1 271.8 431.9 266.9 444.4 267.3 450.3 268.1ZM466.3 278.1 465.5 279.4 461.9 280.6 461.8 281.9 463.1 283.1 462.9 284.4 459.4 285.9 455.6 285.8 445.6 283.6 419.4 285.7 414.4 284.6 412.4 283.1 415.6 281.3 421.2 280.6 423.1 279.6 434.4 278.0 438.3 278.1 439 279.4 440.8 280.6 446.9 281.9 455.6 281.5 460.4 280.6 456.1 278.1 450.6 276.9 449.4 275.9 448.8 273.1 451.9 270.7 453.1 270.5 461.1 273.1 462.9 275.6ZM521.5 290.6 523.5 283.1 526.9 281.6 535.6 280.4 543.1 280.1 545.7 280.6 547.7 281.9 548.5 284.4 550.3 286.9 548.8 288.1 546.9 288.6 531.9 289.8 525.6 294.2 523.1 293.4ZM645.5 293.1 648.1 289.9 651.9 289.0 665.6 291.0 679.4 291.5 679.4 303.9 675.6 303.3 671.9 300.4 668.1 299.1 656.9 299.0 651.9 298.2 649.3 296.9ZM430.1 291.9 434.4 290.8 443.1 290.8 446.1 293.1 453.1 295.2 461 295.6 465.6 297.1 468.1 300.6 466.9 302.1 463.1 302.9 439.4 301.5 435.1 299.4 434.2 298.1 435 295.6ZM447.2 298.1 449.4 299.6 451.9 299.9 455.1 299.4 457.7 298.1 455.6 296.0 453.1 295.8 447.4 296.9ZM562.8 296.9 563.5 295.6 568.1 293.4 571.9 294.0 572.8 295.6 571 296.9 569.4 297.2ZM546.8 304.4 548.1 303.1 553.1 302.0 554.4 302.4 555.6 304.0 555.9 305.6 553.7 306.9 549.4 306.9 547 305.6ZM236.7 321.9 243.1 320.6 249.5 321.9 247.4 323.1 244.4 323.4 239 323.1ZM507.5 331.9 511.3 334.4 512.1 335.6 511.7 336.9 508.1 339.4 506.7 341.9 500.4 345.6 500 346.9 503.5 350.6 498.6 355.6 498.2 356.9 500.1 368.1 505.2 371.9 503.7 375.6 504.1 376.9 507.4 379.4 506.2 380.6 491.9 382.7 486.9 382.7 483.1 381.5 481.8 380.6 481.2 379.4 483.1 375.6 482.6 373.1 483 371.9 485.9 369.4 484.6 364.4 481.9 359.8 479.4 358.6 474.4 357.8 455.6 358.9 453.7 358.1 452.6 356.9 454 353.1 456.3 350.6 456.1 345.6 455.3 344.4 456.4 343.1 460.6 343.0 464.7 344.4 466.5 348.1 468.1 349.4 474.4 352.0 478.1 352.1 489.6 345.6 488.1 343.1 488 340.6 482.3 336.9 481.8 335.6 482.6 334.4 485.6 333.0 493.1 331.7 503.1 331.2ZM260.5 336.9 261.9 335.4 264.4 334.7 266.9 334.9 268.6 336.9 267.4 339.4 264.4 339.9 261.9 339.4ZM356.1 361.9 357.5 358.1 358.2 353.1 363.3 350.6 371.9 348.8 376.9 348.9 385.6 351.6 387.6 353.1 388.4 359.4 387.1 361.9 387.3 364.4 385.9 365.6 378.7 368.1 367.6 369.4 361.9 369.0 358.9 366.9ZM126.3 360.6 123.7 364.4 124.4 365.6 123.6 366.9 120.6 367.4 120.6 359.3 124.4 359.6ZM554.3 364.4 555.6 363.6 558.1 363.8 565.1 366.9 565.3 368.1 563.1 369.5 556.9 369.9 554.4 367.9ZM360.7 380.6 359.4 384.4 360.1 385.6 359.9 386.9 351.9 390.8 345.6 392.0 341.9 391.3 334.4 388.4 323.8 390.6 319.4 390.9 315.6 390.6 305.6 388.4 280.6 388.6 271.9 390.1 265.7 391.9 254.4 391.1 247.2 389.4 244.5 388.1 241.7 384.4 241.9 383.1 244.1 381.9 258.1 378.8 270.6 380.2 280.6 382.5 286.9 382.5 294.4 380.3 305.6 379.2 309.4 378.3 310.6 376.9 311 374.4 311.9 373.4 315.6 372.4 319.4 373.0 325.9 375.6 326.9 376.9 327.4 380.6 329.4 381.4 335.6 381.1 341.5 379.4 343 378.1 342.6 375.6 345.6 374.4 358.1 377.8 360.4 379.4ZM558.9 375.6 558.2 380.6 554.4 381.8 547.5 381.9 547.4 384.4 542.2 386.9 541.2 390.6 537.6 393.1 535.6 396.0 534.4 396.5 523.1 394.9 519.4 393.7 516.8 391.9 516.8 390.6 518.1 389.4 524.4 386.9 529.1 383.1 542.3 380.6 546.5 375.6 548.1 374.6 554.4 373.9 556.9 374.4ZM213.9 379.4 215.6 378.1 218.4 379.4ZM441 390.6 444.1 383.1 445.6 382.2 449.4 381.5 469.4 382.5 478.1 383.8 493.1 383.6 506.9 385.7 510.9 386.9 510.1 388.1 504.8 389.4 491.9 388.5 484.4 389.6 475.6 389.6 456.9 391.2 453.8 391.9 450.6 394.4 448.1 395.0 445.6 394.6 443.1 393.4 441.4 391.9ZM424.1 393.1 425.6 392.0 428.9 393.1 426.9 394.3ZM270.2 424.4 271.3 425.6 269.7 426.9 258.1 428.8 252.4 430.6 250.6 431.9 250.8 433.1 252.6 435.6 251.5 436.9 241.9 439.9 237.6 441.9 237.1 443.1 238.5 445.6 236.6 449.4 237.2 451.9 236.5 454.4 236.9 457.0 235.6 458.6 230.5 461.9 229 464.4 228.1 468.5 220.7 471.9 218.9 476.9 212.6 481.9 209.8 486.9 207.5 494.4 207.6 496.9 207 498.1 200.6 500.1 198.3 501.9 197.6 506.9 198.5 509.4 197 516.9 195.6 518.5 190.6 520.3 188.3 521.9 187.6 524.4 188.9 529.4 186.9 536.2 185.6 537.3 180.3 539.4 177.4 541.9 177.3 543.1 179.2 545.6 180 549.4 178 554.4 175.6 556.9 173.1 557.0 171.1 555.6 169.9 551.9 168.2 549.4 171.6 543.1 170.7 540.6 170.4 535.6 173.3 531.9 179.4 529.1 181.5 526.9 181.3 524.4 182.5 520.6 180.4 513.1 181.4 509.4 179.4 505.6 180.1 504.4 182 503.1 188.6 500.6 189.2 499.4 188.1 496.9 190 488.1 189.1 480.6 189.4 477.2 190.6 474.4 193.1 471.9 193.3 470.6 190.9 466.9 191.3 463.1 190.1 460.6 191 458.1 190.6 454.4 193.3 450.6 190.7 445.6 192.2 441.9 199.2 435.6 199.4 434.2 198.1 433.0 195.6 432.5 186.1 434.4 187.4 435.6 190.6 436.9 191.3 438.1 184.4 439.0 180.6 440.3 178.6 441.9 181.3 445.6 180.7 446.9 178.1 448.4 170.1 450.6 169.2 451.9 169.3 454.4 168.5 455.6 163.1 458.9 159.9 463.1 160 466.9 159.3 468.1 152.4 471.9 151.8 474.4 149.2 476.9 148.3 479.4 141.4 481.9 140.5 483.1 141.2 485.6 139.9 489.4 138.1 490.3 131.3 491.9 130.1 493.1 131.4 495.6 130.7 496.9 128.1 498.5 120.6 499.6 120.6 442.4 125.6 441.9 129.4 440.3 132.3 436.9 132.6 434.4 134.4 432.8 145.6 431.2 149.4 429.5 150.2 428.1 150.6 424.0 151.7 421.9 153.6 420.6 165.6 419.7 171.9 418.1 176.6 414.4 176.7 413.1 175.1 410.6 176.9 408.1 177.2 405.6 178.4 403.1 179.8 401.9 186.9 401.4 203.8 401.9 208.1 404.8 219.4 407.5 224.1 409.4 228.6 413.1 229.5 414.4 229.4 416.9 231.9 418.8 236.9 420.1 261.9 422.3ZM358.3 418.1 361.9 412.4 368.1 409.4 368.6 408.1 365.1 405.6 364.2 404.4 364.5 403.1 370.6 403.0 375.6 404.5 376.4 405.6 375.5 408.1 375.9 409.4 378 411.9 376.9 414.4 379.8 416.9 379.6 418.1 375.6 420.0 368.1 420.2 359.3 419.4ZM323.4 416.9 323.3 418.1 320.6 419.1 301.9 420.9 290.6 420.4 286.9 419.4 286.7 418.1 289.4 417.3 302.9 416.9 305.6 414.4 301.9 413.9 291.9 414.8 290 414.4 288.8 413.1 290.6 412.3 313.1 410.0 315.8 410.6 315.3 413.1 316.9 414.2ZM465.9 411.9 467.3 410.6 471.9 410.4 478.4 411.9 479.8 413.1 475.6 414.3 469.3 413.1ZM520.7 439.4 530.3 433.1 530.5 431.9 530 430.6 530.6 429.4 535.6 426.9 536 424.4 540.6 420.5 544.4 419.7 558.1 420.2 560.4 419.4 563 415.6 565.6 414.8 584.4 412.7 593.1 412.6 598.1 415.6 600.6 420.6 596.9 421.8 584.4 418.5 578.1 417.9 575.6 418.4 572.8 420.6 555.6 424.3 552 426.9 550.2 433.1 551.4 436.9 552.4 438.1 556.9 439.3 578.1 438.4 581.9 439.0 586.9 440.9 593.1 441.4 599.4 441.0 609.4 438.7 618.1 437.7 625.6 438.5 651.9 439.4 663 441.9 665.5 443.1 668.2 448.1 672.5 451.9 671.3 453.1 667.7 454.4 666.2 455.6 667.2 456.9 671.9 457.3 679.4 455.4 679.4 479.3 666.9 481.1 660.6 481.4 651.9 481.0 640.6 479.2 628.1 478.8 619.4 479.2 603.1 481.2 590.6 479.9 580.6 480.9 575.6 480.5 572.8 479.4 572 476.9 568.1 473.1 563.1 471.8 562.1 470.6 563.8 469.4 564.4 468.1 563.9 465.6 556.5 461.9 554.2 458.1 550.6 455.6 548.1 452.3 544.4 451.0 535.6 450.9 532.6 449.4 521.4 446.9 520.8 445.6 525.5 441.9ZM619 456.9 620.3 458.1 620.6 459.7 621.9 460.5 629.4 460.9 632.9 460.6 633.6 459.4 638.1 456.9 632.2 455.6 625.6 455.4 620.8 455.6ZM614.5 425.6 620 423.1 626.9 422.8 629.4 423.1 631.3 426.9 620.6 428.1 615.9 426.9ZM376.7 431.9 378.1 436.9 369.4 439.1 365.2 441.9 366.9 448.1 366.1 451.9 369.4 454.4 370 455.6 369.1 456.9 360.6 461.0 358.7 463.1 359 465.6 357.2 469.4 359.5 471.9 357.7 474.4 359.7 475.6 360.3 476.9 359.2 478.1 353.1 479.9 349.4 480.1 346.2 479.4 346.3 478.1 350.1 475.6 350.6 474.4 346.6 473.1 345.1 471.9 350.1 469.4 350.4 468.1 346.9 465.5 341.9 464.9 340.6 465.5 338.8 468.1 334.4 469.3 325.6 470.0 322.3 469.4 322.7 468.1 325.6 466.8 338.1 463.1 337.2 461.9 325.3 459.4 324.7 458.1 327.6 455.6 327.7 454.4 326.2 451.9 330.6 451.1 343.1 450.9 347.7 449.4 348.6 446.9 346.7 443.1 347.8 441.9 351.9 439.4 352.1 438.1 350.1 435.6 352.2 433.1 352.5 430.6 356.9 429.0 369.4 428.8 373.1 429.4ZM491.1 441.9 495.6 440.8 497.9 441.9 494.4 442.5ZM503.1 449.4 502.9 451.9 503.5 453.1 506.8 455.6 506.3 456.9 498.8 460.6 500.3 464.4 499.6 465.6 495.8 468.1 484.4 470.5 481.6 469.4 481.8 468.1 485 465.6 485.4 464.4 483.7 459.4 481.2 455.6 481.1 453.1 482.4 451.9 486.9 449.1 493.1 447.8 498.1 447.8ZM274.2 456.9 275.6 452.9 279.4 451.9 284.4 452.0 291 454.4 292.2 455.6 292.2 459.4 291.2 460.6 288.1 462.2 283.1 463.1 279.7 461.9 274.5 458.1ZM533.1 454.2 535.6 454.4 538.5 455.6 538.3 456.9 536.2 458.1 536.9 459.4 540.8 461.9 540.5 463.1 536.9 465.6 537.5 466.9 537 468.1 534.4 468.9 531.1 468.1 534.1 465.6 528.1 461.9 529.3 460.6 532 459.4 532.5 458.1 529.8 456.9 529.5 455.6ZM511.2 460.6 513.1 459.9 517.6 460.6 518.7 461.9 515.6 462.8 512.8 461.9ZM432.8 473.1 434.4 471.7 438.1 471.5 442.8 473.1 442.9 474.4 442.1 475.6 440.6 476.4 436.9 476.9 434.4 475.3ZM463.1 478.3 475.6 476.7 483.1 474.8 488.2 478.1 491.4 483.1 491.7 484.4 490.3 488.1 488.9 489.4 483.1 490.9 479.1 493.1 470.6 495.4 468.1 496.9 459.8 505.6 462.2 509.4 458.6 513.1 458.8 514.4 463 516.9 463.2 518.1 461.8 519.4 462.4 520.6 469.4 521.1 473.1 522.2 477.3 529.4 475.9 533.1 476.9 536.9 476.1 539.4 476.3 540.6 483.4 541.9 485.8 543.1 487.1 548.1 486 551.9 484.2 554.4 487.3 556.9 487.3 559.4 489.4 560.9 493.8 561.9 496.4 563.1 497.2 568.1 505.6 572.2 508.1 575.6 508.3 579.4 473.8 579.4 473.5 578.1 474.8 575.6 468.1 574.2 463.1 572.3 458.1 572.0 446.9 574.0 441.3 573.1 438.5 571.9 439.4 570.4 446.9 566.2 451.9 566.1 463.1 568.7 466.9 568.0 470 565.6 469.3 564.4 465.6 562.0 461.9 561.0 455.6 560.9 449.4 562.5 446.5 561.9 447.3 560.6 451.3 559.4 453.1 558.1 453.4 556.9 452.5 554.4 449.8 550.6 450.1 546.9 448.8 544.4 449.4 542.7 453.1 540.6 444.4 539.4 443.1 535.6 445.5 529.4 442.5 525.6 442.2 524.4 444.4 522.6 451 520.6 454.2 514.4 453.6 513.1 447.5 508.1 441.7 505.6 441.5 504.4 448.6 501.9 449.1 500.6 446.9 498.1 447.7 496.9 452.5 494.4 451 493.1 451.1 491.9 456 489.4 456 486.9 460.4 483.1 461.1 479.4ZM466.7 545.6 470.5 545.6 469.4 545.2ZM396.9 486.8 397.2 488.1 396.5 489.4 388.6 491.9 387.2 493.1 387.9 494.4 391.2 496.9 390.9 498.1 387.1 501.9 384.4 505.6 360.6 510.1 358.1 511.1 356.4 513.1 357.6 516.9 357.3 519.4 358.8 521.9 357.6 525.6 358.7 531.9 355 538.1 355 539.4 358 541.9 357.8 545.6 360.1 550.6 353.9 555.6 353.1 556.9 353.3 561.9 355.8 564.4 356.6 566.9 355.6 568.9 353.2 570.6 355.1 573.1 355.2 575.6 356.2 578.1 355.9 579.4 297.4 579.4 295.7 578.1 293.1 577.6 276.9 577.5 274.4 576.9 272.8 575.6 273.6 573.1 278.1 570.5 280.4 568.1 280.9 566.9 279.9 563.1 280.2 561.9 282.5 559.4 282.9 558.1 282.4 555.6 283.1 554.4 290.4 551.9 293.5 546.9 292.4 543.1 292.7 540.6 292 538.1 293.1 535.6 293.2 533.1 303.8 528.1 305.6 524.9 309.2 523.1 309 521.9 307.8 520.6 307.8 519.4 312.8 515.6 309 508.1 309.9 506.9 315.6 504.4 318.4 501.9 328.6 499.4 339.4 498.5 350.6 500.3 354.4 499.8 361.6 496.9 362.7 495.6 361.9 493.1 368.8 490.6 367.8 489.4 367.4 486.9 365.6 485.6 366.8 484.4 373.9 481.9 374.1 480.6 375.4 479.4 382 479.4 384.8 480.6 385.1 481.9 387.1 483.1 394.4 484.8ZM334.5 544.4 338.1 545.2 343 544.4 342.2 543.1 339.4 542.8ZM309.4 554.4 309.3 555.6 316.9 556.4 320.7 555.6 320.3 554.4 316.9 553.7ZM326.9 560.6 327.5 561.9 333.1 562.6 337.7 561.9 338.1 560.6 333.1 559.7ZM333.1 489.4 334 488.1 333.5 486.9 335.5 485.6 344.4 484.5 346.9 485.6 345.2 488.1 343.4 489.4 338.1 489.8ZM402.8 531.9 404.4 530.0 408.1 529.3 415 530.6 415.2 531.9 411.9 533.8 408.1 534.3 404.4 533.5ZM163.1 563.3 165.6 562.8 166.9 563.1 167.9 564.4 169.1 568.1 168.3 571.9 168.4 575.6 171.1 579.4 158.4 579.4 160.2 575.6 159.2 571.9 159.6 568.1 161.7 564.4ZM402.5 579.4 404.4 577.3 406.9 576.9 411.9 577.5 416.2 579.4ZM444.4 579.4 447 578.1 450.6 577.6 454.3 578.1 456.4 579.4Z"/>
<path fill="#1e90ff" d="M550.3 234.4 555.6 233.3 570.6 234.6 575.6 234.2 577 233.1 577.4 231.9 576.4 228.1 568.8 225.6 566.3 224.4 565.5 223.1 566.9 222.4 575.5 221.9 577.3 220.6 643.6 220.6 643.8 221.9 643.1 223.1 640.6 223.9 634.4 223.8 626.9 221.9 624.4 222.1 622.1 223.1 624.6 224.4 630.6 225.4 634.4 227.4 636.1 229.4 635.9 231.9 633.1 233.3 620.9 234.4 619.6 235.6 621.9 238.5 622.5 240.6 620.6 243.1 621.1 245.6 620.2 246.9 613.3 250.6 612.3 256.9 609.4 258.4 598.3 259.4 599.6 260.6 598.8 261.9 586 263.1 584 261.9 584.5 260.6 583.9 259.4 579.4 257.7 578.6 255.6 583.1 251.9 578.4 249.4 577.4 248.1 581.7 243.1 580.6 241.7 575.6 240.0 565.6 240.3 560.6 239.6 553.1 237.3 550.5 235.6ZM591.2 239.4 593.6 241.9 595.6 242.0 600 240.6 600.3 239.4 599.6 238.1 596.9 237.9 594 238.1ZM552.9 255.6 552.3 256.9 548.1 258.0 545.6 257.9 543.4 256.9 544.4 255.5 548.1 254.4 550.6 254.4ZM561.9 276.9 565.6 274.7 571.9 273.8 578.1 275.4 580.8 276.9 581.4 278.1 578.1 279.9 572.6 280.6 573.4 281.9 576.4 283.1 577.4 284.4 574.4 286.6 570.6 287.1 566.9 286.4 563.8 284.4 565.5 280.6 561.6 278.1ZM532 283.1 535.6 281.5 541.9 281.5 544.2 283.1 545.4 286.9 540.6 288.1 536.9 287.5 533.1 285.6 532.1 284.4ZM655.1 295.6 655.9 294.4 658.1 293.7 661.5 294.4 663.7 295.6 662.2 296.9 659.4 297.1 656.8 296.9ZM499 335.6 503.1 335.2 505.5 335.6 501.9 336.3ZM485.2 354.4 487.9 350.6 490.6 349.4 495.6 349.2 498.6 350.6 498.6 351.9 497.2 353.1 493.1 355.0 489.4 355.3ZM361.4 353.1 364.4 351.5 370.6 350.3 376.9 350.3 380.6 351.7 382.3 353.1 382.3 355.6 383.8 358.1 380.6 361.3 381.1 364.4 379.4 365.9 374.4 367.4 365.6 367.4 362.3 365.6 359.4 361.9 360.4 355.6ZM461.1 354.4 461.4 353.1 463.1 352.6 467.4 353.1 465.6 354.6 463.1 354.9ZM491.9 365.3 493.1 364.7 494.8 365.6 495.3 366.9 494.4 369.0 491.1 366.9ZM497.6 371.9 496.9 373.1 493.1 375.1 490.6 375.2 489.9 374.4 490 373.1 494.4 369.9 495.6 370.0ZM246.3 384.4 247 383.1 255.6 379.8 259.4 379.3 275.2 383.1 278.3 384.4 278.5 385.6 276.9 386.9 271.9 387.6 261.9 387.4 253.1 388.2 249.6 386.9ZM305.1 384.4 303 385.6 296.9 387.2 291.9 387.0 289.4 385.6 292.1 383.1 296.9 381.9 304.9 383.1ZM337.8 384.4 338.4 383.1 344.4 381.2 349.4 380.8 353.2 381.9 352 383.1 346.8 385.6 350.1 386.9 350.8 388.1 347.7 389.4 344.4 389.2 343.1 388.1 343.4 386.9 342.2 385.6ZM449.3 385.6 449.6 384.4 455.6 383.4 466.9 383.9 470.4 385.6 470.2 386.9 468.1 388.3 460.6 389.1 453.1 388.2ZM247.7 426.9 244.4 429.8 243.5 431.9 243.7 433.1 245.6 435.6 245.3 436.9 239.4 439.6 232.1 441.9 232.3 443.1 234.9 445.6 229.6 448.1 227.9 450.6 219.7 453.1 220.1 454.4 228.7 456.9 230 458.1 223.5 465.6 223.1 466.9 216.9 470.6 216.2 471.9 215.6 475.7 214.4 476.9 210.1 478.1 208.6 479.4 208.4 481.9 207.5 484.4 205.6 486.9 205 490.6 203.4 493.1 202.3 496.9 199.4 498.2 195.6 498.8 193.4 498.1 192.4 496.9 192.5 493.1 194.8 486.9 194.4 484.4 192.5 480.6 192.7 479.4 195 474.4 201 471.9 198.2 468.1 199.6 464.4 195.2 460.6 195.8 458.1 194.2 455.6 194.4 454.4 197 451.9 197.4 450.6 196.3 446.9 196.2 443.1 197 441.9 199.4 440.4 205.6 438.1 208.1 438.4 214.4 441.2 218.2 440.6 217.8 439.4 214.6 436.9 214.5 434.4 213.1 433.2 206.9 433.6 203.5 431.9 203.1 430.6 209.1 428.1 207.6 425.6 207.7 423.1 205.6 421.8 199.4 421.1 195.6 421.9 194 423.1 195.6 426.9 195.2 429.4 194 430.6 188.1 432.5 179.4 432.7 172.6 434.4 172.9 435.6 176.9 436.8 178.1 438.1 176.7 439.4 171.9 441.0 161.2 443.1 158.4 444.4 161 445.6 161.8 446.9 156.4 449.4 163.1 452.3 164.3 453.1 163.8 454.4 155 456.9 154.4 458.1 157.3 460.6 155.3 463.1 154.4 466.2 150.6 468.2 149.4 469.8 147.7 474.4 144.4 475.8 130.6 478.9 124.5 479.4 135.6 480.2 136.2 481.9 135.8 486.9 134.6 488.1 126.2 491.9 125.7 493.1 127.5 495.6 126.4 496.9 120.6 497.8 120.6 472.4 124.3 471.9 120.6 471.2 120.6 465.4 123.2 464.4 120.6 464.1 120.6 448.2 124.1 448.1 120.6 448.0 120.6 444.3 130.6 443.8 134.9 443.1 137.5 441.9 135.6 440.9 135.1 439.4 135.9 436.9 135.7 434.4 139.4 433.1 146.9 432.6 150.6 431.5 152.6 429.4 152.1 425.6 153 423.1 155.6 421.3 173.1 419.9 183.1 416.3 192 416.9 191.1 415.6 181.9 412.1 180.3 410.6 181.6 405.6 183.9 403.1 188.1 402.6 195.6 403.0 201.9 406.5 220.5 410.6 224.7 414.4 223.1 416.1 216.9 415.8 209.4 412.9 207.7 413.1 207.3 414.4 208.7 415.6 214.2 418.1 223.1 417.6 230.6 419.9 242.3 421.9 244.7 423.1ZM139.4 441.9 140.6 442.7 143.5 441.9ZM135.1 465.6 138.1 467.0 146.9 466.9 144 464.4 141.9 463.8 135.9 464.4ZM545.6 423.6 547 424.4 546.3 426.9 547.6 429.4 547.4 430.6 543.6 434.4 547.5 439.4 551.2 441.9 551.4 443.1 545.6 446.9 538.7 446.9 535.8 445.6 540.6 441.9 540.5 440.6 535.4 436.9 540.6 434.4 536 430.6 536.7 429.4 542 426.9 543.1 424.4ZM559.3 443.1 561.4 441.9 568.1 441.4 588.1 444.2 618.1 441.0 655.4 443.1 658.4 444.4 644.4 448.1 646.8 450.6 644.1 451.9 639.4 451.6 634.4 448.4 628.1 447.9 623.1 448.8 615.6 451.4 598.1 453.9 592.6 453.1 591.9 452.2 593.3 450.6 597.8 448.1 593.9 446.9 588.1 445.7 584.4 445.8 570.6 449.2 569.4 449.1 568.4 448.1 568.2 446.9 566.5 445.6ZM166.1 445.6 169.4 444.0 171.9 443.6 175.5 444.4 176.5 445.6 174.9 446.9 171.9 447.2 167.2 446.9ZM486.1 453.1 489.4 451.6 494.4 451.4 496.9 452.3 497.8 453.1 498 454.4 496.9 456.9 494.4 458.0 491.9 458.1 487.8 456.9 485.9 454.4ZM554.5 451.9 558.1 450.8 563.1 451.4 570.4 454.4 574.2 456.9 573.1 457.6 570.6 457.5 564.4 455.4 557.4 454.4 554.7 453.1ZM337.9 453.1 344.5 453.1 346.5 454.4 340.6 454.9 338.1 454.4ZM650.1 455.6 651.9 455.0 655.9 455.6 655.8 456.9 651.9 457.0ZM596 460.6 596.2 459.4 598.1 459.2 599.7 459.4 600.8 460.6 598.1 461.1ZM673.3 463.1 676.1 461.9 679.4 461.4 679.4 465.2 675.1 464.4ZM597.2 466.9 595.9 468.1 579.4 469.8 575.6 469.4 574.1 468.1 575.6 466.8 583.1 464.7 588.1 464.1 594.4 464.6 596.4 465.6ZM655.4 470.6 660.6 469.2 668.2 469.4 674.4 471.5 679.4 472.1 679.4 475.6 670.6 476.3 665.6 475.9 655.9 471.9ZM371.5 504.4 371.3 505.6 369 506.9 363.1 507.7 351.9 507.7 349.1 506.9 348.4 505.6 352.4 503.1 363.1 500.2 368.1 501.1ZM315.6 509.4 318.5 509.4 316.9 509.8ZM193.1 512.9 191.9 514.5 189.4 515.6 186.9 515.1 185.7 513.1 190.6 511.4 192.5 511.9ZM322.3 519.4 324.1 518.1 331.9 516.2 348.3 516.9 346.4 518.1 341 519.4 328.1 521.2 323.1 520.8ZM448 525.6 450.6 524.8 457.4 526.9 453.1 527.3ZM346 533.1 346.5 531.9 349.4 531.1 351.9 531.0 353.9 531.9 353.2 533.1 350.6 533.9ZM175.3 535.6 177 534.4 181.9 533.6 183.1 534.4 183 535.6 179.4 536.7 176.9 536.6ZM467.3 535.6 469.4 535.0 471.9 535.6 469.4 536.4ZM317.9 540.6 320.6 539.1 325.6 537.6 329.4 537.8 331.8 539.4 331.4 540.6 329.2 541.9 325.6 542.6 318.5 541.9ZM174.4 546.8 175.6 547.2 176.7 549.4 174.4 550.7 172 549.4 173.1 547.4ZM346.4 549.4 346.7 548.1 351.9 547.1 354.4 547.9 355.5 549.4 354.7 550.6 351.9 551.3ZM284.3 563.1 285.6 561.8 293.1 561.3 298 559.4 301.9 558.8 310.6 558.8 313.5 559.4 314.2 560.6 310.2 564.4 305.6 565.3 286.9 565.0 285.1 564.4ZM478.4 569.4 480.6 567.7 484.4 567.5 485.6 568.1 486.9 570.6 493.1 573.7 500.1 575.6 501.3 576.9 500.6 579.4 480.8 579.4 481.3 578.1 485.9 575.6 485.4 574.4 478.7 571.9ZM311.8 573.1 315.9 573.1 314.4 574.1ZM162.2 579.4 164.4 577.7 165.6 577.8 167.8 579.4Z"/>
<path fill="#4169e1" d="M582.7 220.6 595.2 220.6 590.4 223.1 591.4 224.4 591.4 225.6 589.2 226.9 588.7 228.1 593.6 230.6 595.1 234.4 592.7 235.6 586.9 236.9 583.1 236.8 581.2 235.6 581.7 233.1 581.4 230.6 582.7 228.1 579.4 225.6 580.1 224.4 583.5 223.1ZM604.8 221.9 605.3 220.6 617.7 220.6 615.6 222.0 610.6 223.1 608.1 223.0ZM618.4 226.9 624.5 226.9 626.1 228.1 621.8 228.1ZM592.9 245.6 600.6 244.0 606.9 243.5 614.4 245.4 615.7 246.9 606.8 250.6 606.8 251.9 606 253.1 603.1 253.4 599.4 251.9 599.1 250.6 597.1 248.1ZM584.6 255.6 590.4 255.6 588.1 256.7ZM362.8 354.4 363.8 353.1 368.1 351.7 373.1 351.4 376.9 352.1 378.2 353.1 378.3 355.6 379.8 358.1 377.3 360.6 376.9 361.9 377.5 364.4 375 365.6 370.6 366.1 366.9 365.7 364.4 364.5 361.9 362.3 361.3 360.6ZM253.1 383.1 253.8 381.9 255.6 380.6 259.4 379.9 262.5 380.6 265 383.1 263.1 384.6 259.4 385.4 255.6 384.9ZM454.5 385.6 459.4 384.7 465.5 385.6 465.2 386.9 460.6 387.6 456.1 386.9ZM186.3 406.9 188.1 406.4 189.4 406.9 189.5 408.1 188.1 409.4 185.8 409.4ZM192.7 429.4 191.2 430.6 188.1 431.3 168.1 431.1 156.9 429.9 154.4 427.4 153.8 425.6 155.1 423.1 158.1 422.0 174.4 421.3 185.6 419.2 190.3 420.6 190.3 423.1 193 426.9ZM215.3 421.9 217.3 420.6 224.4 419.7 239.8 423.1 241 424.4 241.7 426.9 239.7 434.4 240 436.9 239.1 438.1 236 439.4 229.4 440.4 224.4 440.2 220.6 438.4 219 436.9 219.4 433.1 218.8 430.6 215.2 425.6ZM200.4 441.9 204.4 440.5 206.9 440.8 209.1 441.9 215.9 448.1 212.9 453.1 214 454.4 216.9 456.3 224.7 458.1 225.3 459.4 221.9 461.7 215.6 463.4 209 463.1 201.4 460.6 200.1 458.1 197.5 455.6 197.7 454.4 200.1 451.9 199.6 448.1 200.4 445.6 199.8 443.1ZM210.4 460.6 213.1 461.2 215.4 460.6 214.4 459.6ZM218.1 444.4 220.3 443.1 224.4 442.5 229.4 444.4 229.3 445.6 224.4 446.3 219.5 445.6ZM635.5 444.4 642.6 444.4 639.4 445.2ZM120.6 458.1 120.6 449.8 128.1 450.5 130.6 451.9 127.5 454.4 125.6 457.3ZM127 460.6 130.6 459.4 138.1 460.6 131.9 461.5ZM135.2 470.6 138.1 469.8 141.9 470.0 143.9 470.6 144.2 471.9 143.1 473.2 139.4 473.2 136.9 472.2ZM360.3 504.4 361.7 503.1 363.1 503.0 364.7 503.1 366 504.4 364.5 505.6 361.9 505.6Z"/>
<path fill="#0000cd" d="M367.2 354.4 370.6 354.3 370.2 355.6 374.6 358.1 373.9 363.1 373.1 363.9 369.4 364.3 364.4 361.9 363.6 360.6 363.9 358.1ZM255.6 381.9 258.1 380.6 259.7 380.6 262.4 381.9 262.5 383.1 260.6 384.2 258.1 384.3 255.6 383.1ZM222.9 421.9 226.9 421.9 235.9 424.4 236.8 425.6 237 428.1 236.4 429.4 237.2 431.9 236.7 433.1 232.7 435.6 232.5 438.1 226.9 438.6 222.6 436.9 222.9 430.6 220.6 427.3 220.3 425.6ZM157.1 425.6 157.7 424.4 159.4 423.8 163.6 424.4 161.2 426.9 158.9 426.9ZM174.7 425.6 178.3 424.4 184.4 423.8 188.3 425.6 188.4 426.9 180.6 427.7 175.6 426.9ZM203.1 448.0 205.6 447.0 209.4 448.1 210.1 449.4 207.9 451.9 207.7 453.1 210.6 455.6 209.9 456.9 205.6 457.6 203.1 457.0 201.2 455.6 201.4 454.4 204.2 451.9 202.6 449.4ZM120.6 452.8 120.6 451.3 123.8 451.9Z"/>
<path fill="#00008b" d="M368.5 360.6 370.6 359.6 371.9 360.0 372.6 361.9 371.9 363.2 369.7 363.1 368.4 361.9Z"/>
<path fill="#ffe63c" d="M120.6 220.6 373.9 220.6 376.9 223.1 370.6 227.5 369.3 229.4 369.8 230.6 373.5 233.1 371.3 235.6 371.3 236.9 374.4 238.4 382.2 240.6 380.6 241.5 373.6 241.9 371 243.1 374.4 244.8 381.9 244.9 383.4 245.6 384 246.9 375.1 249.4 374.4 250.6 382.1 253.1 375.6 254.5 373.8 255.6 374.5 256.9 378.1 258.3 392.6 260.6 395.7 263.1 377.5 265.6 377 266.9 379.7 268.1 378.8 269.4 374.4 272.3 372.2 275.6 374.4 279.4 376.9 281.5 379.4 282.4 393.1 282.0 398.1 282.9 404.2 285.6 404.3 286.9 403.3 288.1 404.4 290.3 413.1 289.3 419.4 290.2 422.3 293.1 423.5 296.9 428.6 300.6 432 304.4 433.1 308.6 439.4 312.5 440.2 315.6 441.9 318.2 445.6 319.5 463.1 321.5 469.4 320.1 477.2 314.4 473.9 311.9 472.8 309.4 476.1 304.4 480.3 300.6 479.5 299.4 474.1 296.9 471.6 294.4 471.8 291.9 473.8 289.4 473.7 288.1 471.2 285.6 473.1 281.1 476.1 278.1 474.8 275.6 478.4 271.9 483 270.6 483.3 269.4 479.5 269.4 475.6 271.0 465.6 269.5 462.8 268.1 462.1 266.9 462.6 265.6 465.9 263.1 465.4 259.4 455.6 256.9 449.4 251.2 442.5 248.1 440.4 244.4 441.8 240.6 441.7 238.1 445.6 232.5 454.4 231.2 461.9 228.7 466.9 228.1 478.9 230.6 481.5 231.9 470.9 234.4 468 239.4 468 240.6 477.1 243.1 478.1 244.4 476.9 246.6 474.4 247.7 464.4 248.1 463.9 249.4 480.6 249.6 490.6 246.3 493.1 246.1 495.2 246.9 496.1 248.1 495.1 249.4 488.8 251.9 487.5 253.1 489.6 255.6 493.1 256.6 500.6 255.6 506.9 255.6 510.7 256.9 509 258.1 501.7 259.4 498.6 260.6 500.1 264.4 500.4 266.9 497.4 269.4 497.5 270.6 499.7 271.9 504.4 272.4 516.9 270.1 524.4 270.8 535.6 269.5 538.8 270.6 540.4 275.6 540 276.9 537.4 278.1 533.1 278.7 528.1 278.5 513.1 275.4 510.9 275.6 510.3 276.9 511.9 278.1 518.2 279.4 517.8 280.6 514.8 283.1 516 285.6 515.8 289.4 517.4 294.4 516.1 298.1 518.8 299.4 524.4 300.1 528.9 299.4 530.6 298.1 533.3 293.1 535.7 291.9 545.6 291.5 550.4 293.1 550.4 294.4 548.5 298.1 542 301.9 540 305.6 537 309.4 537.1 310.6 538.1 311.2 540.6 311.3 556.9 309.7 559.4 308.6 561.2 306.9 561.7 305.6 561.5 303.1 562.7 301.9 566.9 300.6 578.1 299.2 582 294.4 586.6 290.6 587.2 288.1 591.1 284.4 592.1 280.6 594.4 278.2 598.1 277.9 611.9 280.6 615.6 280.2 619.7 278.1 620.9 276.9 621.2 275.6 620.1 269.4 620.8 265.6 619.6 261.9 621.3 256.9 621.3 253.1 623.1 251.0 629.4 247.3 633.3 241.9 638.1 238.2 643.1 231.9 649.9 226.9 650.9 223.1 650.6 220.6 679.4 220.6 679.4 226.2 669.4 226.3 666.6 226.9 666.3 228.1 669.4 229.1 679.4 227.2 679.4 234.0 674.4 234.4 679.4 234.7 679.4 255.1 669.4 256.4 665.6 255.8 664.3 254.4 663.6 251.9 659.4 247.4 658.3 244.4 656.9 243.1 654.4 242.9 651.3 244.4 651.9 245.6 654.2 248.1 653.8 249.4 649.8 253.1 649.7 256.9 648.9 258.1 644.7 261.9 645.1 265.6 641.1 269.4 641.5 273.1 639.3 276.9 639.2 278.1 641.5 281.9 637.4 285.6 638.1 288.4 637.5 289.4 635.6 290.2 626.7 291.9 624.8 293.1 625.9 294.4 637.1 300.6 640.6 301.7 665.6 302.9 667.7 304.4 670.6 309.4 674.4 311.2 679.4 311.8 679.4 448.9 675.6 448.5 672.4 446.9 670.5 443.1 668.1 440.1 660 435.6 656.9 431.3 646.4 428.1 643.3 424.4 642.6 421.9 638.1 419.0 634.4 417.8 623.1 416.9 623.5 415.6 635.4 413.1 638 411.9 638.1 410.5 625.6 407.5 610.6 406.0 605.6 405.9 600.8 406.9 596.7 406.9 596.8 405.6 605.6 405.3 609.1 404.4 605.8 403.1 592 400.6 593.1 400.1 607.5 400.6 616.7 401.9 619.7 403.1 624.4 403.9 629.4 403.1 631 401.9 620.9 399.4 619.7 398.1 619.5 396.9 621 393.1 620 391.9 610.9 389.4 609 388.1 607.7 383.1 602.6 376.9 603.4 373.1 597.3 370.6 595.7 369.4 596.1 365.6 591.7 361.9 592.5 360.6 596.7 358.1 595.8 356.9 585.6 355.0 582.1 353.1 581.6 351.9 582.2 349.4 583.9 348.1 590.3 345.6 590.9 344.4 589.4 343.2 574.4 340.9 570.6 341.0 566.9 342.1 559.2 346.9 558.6 348.1 560.9 349.4 561 350.6 559 351.9 551.9 354.0 550.3 355.6 545.6 358.1 547.6 360.6 546.7 364.4 547.6 366.9 546.9 368.3 540.6 371.1 534.4 375.9 530.2 378.1 525.6 378.6 520.6 378.1 517.5 376.9 516.9 375.6 517.4 373.1 516.9 371.9 506.3 368.1 505.1 366.9 505 363.1 512.3 355.6 510.9 353.1 513.1 350.9 516.9 350.0 526.9 349.8 531.5 348.1 530.2 345.6 530.2 343.1 528.9 340.6 530.9 334.4 529.9 329.4 525.6 327.7 513.1 328.5 504.4 327.1 496.9 328.6 483.7 329.4 479.2 330.6 474.5 334.4 474.6 338.1 476.5 340.6 475.6 341.4 468.1 339.5 459.4 339.6 451.9 340.7 449.4 341.7 447.8 343.1 447.2 349.4 448.3 353.1 448.2 354.4 446.7 356.9 449.5 360.6 449.4 363.2 444 366.9 443.6 368.1 445.2 370.6 434.4 374.0 430.1 378.1 428.8 380.6 421.5 383.1 420.8 386.9 417.6 391.9 419.3 398.1 423.1 404.6 425.6 405.6 434.4 405.2 446.9 409.6 455.6 415.6 443.5 418.1 436.9 421.7 434.4 421.9 426.9 420.1 423.1 420.2 409.9 423.1 407 424.4 404.7 426.9 395.6 428.1 389.4 427.4 386.2 424.4 385.7 423.1 386.6 420.6 388.8 418.1 388.5 416.9 386.3 414.4 385.8 411.9 383.7 408.1 384.3 404.4 383.8 403.1 378.1 399.8 371.9 398.0 368.9 395.6 371.3 391.9 370.8 389.4 373.3 383.1 370.8 375.6 366.7 373.1 368.9 371.9 378.1 371.0 394.4 367.8 398.1 365.7 399.5 363.1 398.2 360.6 395.4 358.1 395.8 356.9 397.3 355.6 397.5 354.4 394 350.6 391 349.4 383.1 348.1 380.1 346.9 378.9 345.6 379.1 341.9 380 340.6 390.2 335.6 389.3 334.4 381.1 331.9 385.3 329.4 385.1 328.1 381.9 327.8 376.9 329.0 375.1 330.6 372.4 338.1 373.6 340.6 373.5 341.9 364.4 347.2 354.4 347.5 351.4 348.1 351.2 349.4 351.9 350.6 349.6 353.1 349.5 354.4 351.3 358.1 346.8 364.4 347 366.9 339.8 369.4 335.6 372.3 333.1 372.7 328.9 370.6 324.4 369.7 311.9 368.9 299.4 370.8 298.4 371.9 299.4 374.4 298.4 375.6 290.6 377.1 285.6 379.4 279.4 379.4 264.4 376.8 255.6 377.2 244.4 378.8 238.1 380.5 235 383.1 234.6 384.4 236.8 386.9 237.9 391.9 234.4 393.6 221.2 396.9 220.2 398.1 220.3 399.4 218.1 401.0 215.6 401.2 204.4 399.8 174.4 399.7 169.6 400.6 167.6 401.9 167.8 403.1 170.3 406.9 168.3 410.6 168.8 413.1 168.1 415.6 165.6 416.9 155.6 417.9 150.6 419.3 148.9 420.6 145.6 428.3 142.8 429.4 135.6 430.5 131.9 431.7 129.9 433.1 128.3 436.9 126.9 437.9 120.6 439.0 120.6 380.9 132.4 379.4 136.4 378.1 137.6 376.9 136.9 375.3 130.2 370.6 129.7 369.4 133.3 361.9 133.4 360.6 130.6 356.9 126.6 349.4 123.7 348.1 120.6 347.9ZM339.2 224.4 343.1 226.6 348.1 227.2 353.1 225.7 355.3 223.1 353.1 221.5 346.9 220.8 340.1 223.1ZM344.7 234.4 346.9 235.5 354.4 236.5 356.9 235.9 357.8 234.4 356.9 232.8 353.1 231.7 345.6 233.1ZM350.6 238.5 349.4 237.5 345.6 236.6 343.1 237.3 337 241.9 338.1 244.4 335.6 246.9 337.4 248.1 340.6 248.5 344.4 248.3 348.1 246.9 350.8 243.1 351.2 240.6ZM347.7 256.9 344.6 254.4 344.4 253.1 341.9 252.0 333.1 252.3 325.6 253.8 321.9 255.6 320.7 256.9 321.9 259.1 326.1 261.9 322.6 264.4 321.1 268.1 313 270.6 310.7 271.9 310.5 273.1 314.4 275.8 318.1 276.8 321.9 275.8 324.9 273.1 336.9 271.4 338.3 270.6 338.4 268.1 341.8 265.6 336.9 263.3 329.5 261.9 329.6 260.6 333.1 259.4 345.6 257.8ZM305.3 281.9 308.1 283.0 316.9 283.7 321.9 285.2 325.6 285.5 328.1 285.0 331.6 283.1 332.7 281.9 332.9 280.6 330.6 278.9 319.4 278.1 318.1 277.2 316.6 278.1 306.9 280.6ZM489.5 280.6 489.8 281.9 490.6 282.0 502.7 281.9 498.1 281.5 494.4 280.4ZM302.1 289.4 302.7 290.6 306.6 293.1 306.4 295.6 308.1 296.7 322.4 294.4 325.6 292.0 325.8 290.6 324.4 287.8 315.6 286.2 306.9 286.9 303.4 288.1ZM406.7 293.1 405.6 291.4 403.1 290.3 394.4 292.2 392.4 293.1 392.1 294.4 395.6 296.0 401.9 296.1 405.6 295.0 406.5 294.4ZM376.9 296.9 384 298.1 389.7 298.1 389.1 296.9 379.4 296.0ZM210.9 305.6 213.1 306.9 219.4 307.8 226.8 306.9 227.1 305.6 221.9 304.4 216.9 304.1 212.4 304.4ZM396.5 304.4 393.1 303.5 378.1 305.6 379.7 308.1 378.3 309.4 378 310.6 381.9 311.2 386.9 310.6 390 309.4 388.1 308.1 389.1 306.9 394.4 306.2 395.8 305.6ZM306.5 308.1 311.9 308.6 313.5 308.1 314.5 306.9 313.1 305.8 311.9 305.7 307.5 306.9ZM311.9 313.1 315.4 313.1 315.1 311.9 314.4 311.8 312.5 311.9ZM630.7 313.1 629.9 311.9 628.1 311.1 624.4 310.8 619.7 313.1 619.8 315.6 618.1 317.2 603.1 319.4 598.5 320.6 597.3 321.9 598 325.6 596.6 328.1 598.2 329.4 604.4 330.7 613.1 331.1 618.1 330.1 621.9 328.1 623.1 326.9 622.8 325.6 617.6 321.9 619 320.6 625.6 319.2 627.1 318.1ZM376.3 318.1 376.7 319.4 378.1 319.6 379.1 319.4 379.5 316.9 392.7 315.6 391.7 314.4 389.4 313.8 381.9 313.5 379.6 314.4 377.9 316.9ZM533.4 315.6 533.4 316.9 534.4 317.7 535.6 318.0 537.2 316.9 536.9 315.4 535.6 314.8ZM225.7 321.9 228.8 323.1 234.4 324.2 246.9 325.0 274.4 324.0 277.4 323.1 278.4 321.9 276.5 320.6 271.9 320.0 246.9 319.4 231.9 320.2ZM383 324.4 387.7 324.4 386.9 323.4 383.3 323.1ZM251 335.6 251.1 336.9 252.3 338.1 256.9 340.9 263.1 341.7 266.9 341.3 270.2 339.4 272.5 336.9 272.8 335.6 270.9 330.6 272.1 329.4 270.8 328.1 259.4 328.5 256.9 326.5 255.6 326.3 253.9 328.1ZM206.2 345.6 207 346.9 215.6 348.4 223.1 348.3 234.9 346.9 233.8 345.6 220.6 343.8 211.9 344.1ZM168.8 366.9 170.6 368.6 173.1 369.1 179.4 368.2 182.5 366.9 181.9 365.6 174.4 364.8 169.6 365.6ZM163.2 378.1 170.6 379.3 176.3 378.1 175.6 376.9 170.6 376.4 165.1 376.9ZM206.3 378.1 206.5 379.4 208.1 380.2 213.1 381.2 221.9 381.0 233.1 379.4 232.7 378.1 223.1 376.4 211.9 376.5ZM430.9 226.9 431.9 224.4 433.9 223.1 444.4 220.6 460.4 220.6 457.8 224.4 457.1 226.9 454.4 228.4 444.4 229.8 431.9 228.1ZM661.1 260.6 666.9 258.3 679.4 258.7 679.4 288.2 665.6 287.7 661.9 286.9 660.8 285.6 663.1 283.9 669.4 282.8 671 281.9 670.5 280.6 662.5 278.1 662 276.9 664.4 274.4 664.2 273.1 658.4 270.6 657.4 269.4 657.4 266.9 659.2 264.4 659.8 261.9ZM552.1 268.1 554.3 265.6 553.9 263.1 556.9 262.0 563.1 261.9 568.9 263.1 570.4 265.6 570.2 266.9 566.4 268.1 555.6 269.4 553.1 268.9ZM526 265.6 521.9 266.6 519.5 265.6 524.4 264.3 525.8 264.4ZM389.9 278.1 391.8 276.9 393.1 276.8 394.9 276.9 397.2 278.1 393.1 278.8ZM474.7 345.6 475.6 343.9 477.2 344.4 477.5 345.6 475.6 346.3ZM574 358.1 581.9 356.5 584.4 357.0 585.8 358.1 582.9 359.4 579.4 359.6 575.7 359.4ZM479.4 368.1 479.4 369.4 477.7 371.9 478 375.6 474.4 377.8 468.1 378.8 458.1 378.6 450.6 376.9 448.1 375.6 448 373.1 446.9 370.8 446.2 370.6 458.1 366.9 458.7 365.6 458.1 364.4 459.3 363.1 462.5 361.9 468.1 361.0 473.1 361.1 475.9 361.9 477.3 363.1ZM562.2 404.4 566.9 400.8 567.8 399.4 567.4 396.9 568 395.6 578.2 394.4 577.6 393.1 570.2 390.6 570.7 388.1 565 385.6 565.3 384.4 568.1 382.8 573.1 382.2 580.6 383.4 582.2 384.4 581.1 386.9 582.1 388.1 595.4 394.4 595.7 395.6 593.1 397.7 585.6 398.9 581.4 400.6 571.9 402.7 569.4 404.7 565.6 405.0ZM315.4 396.9 311.6 399.4 300.2 403.1 296.9 406.9 295.6 407.3 291.9 407.5 278.1 405.9 274.4 406.1 272 406.9 275.2 409.4 275.3 410.6 271.4 416.9 269.4 418.4 265.6 419.2 254.4 419.2 240.6 418.0 238.3 416.9 238.1 414.4 229 408.1 227.7 403.1 228.1 400.6 229.2 399.4 233.1 397.4 235.6 397.1 243.3 399.4 253.1 397.8 257.8 398.1 261.2 399.4 260.5 400.6 263.1 402.0 274.4 401.6 277.1 400.6 275.8 398.1 278.1 392.4 280.6 391.3 284.4 390.7 306.9 391.5 311.6 393.1 314.9 395.6ZM547.4 394.4 548.7 393.1 554.4 391.7 558.1 391.4 562 391.9 561.6 393.1 551.9 394.6ZM343.3 396.9 336.1 401.9 335.6 404.4 334.4 405.3 331.7 405.6 328.6 404.4 330.8 401.9 328.2 396.9 329.3 395.6 335.6 394.1 339.4 394.9ZM491.4 398.1 492.6 396.9 494.4 396.2 496.2 396.9 496.1 398.1 494.4 399.0ZM538.5 406.9 535.1 410.6 530.5 413.1 529.6 414.4 530.5 415.6 530 416.9 526.2 419.4 526.3 421.9 514.4 429.9 501.9 431.3 495.6 436.9 490.6 437.4 486.9 436.9 479.3 434.4 473.1 430.5 451.7 428.1 451.8 426.9 468.1 423.5 486.9 422.3 490.6 419.6 492.7 416.9 493.7 414.4 496.1 411.9 502 409.4 508.1 405.3 513.1 403.5 518.1 403.3 525.6 405.5 536.9 405.6ZM449.1 405.6 450.4 404.4 454.4 403.4 458.1 403.4 460.5 404.4 459.4 405.6 454.4 407.1 450.6 407.0ZM549.7 406.9 550.3 405.6 553.1 405.0 556.9 404.8 559.7 405.6 558.8 406.9 555.6 407.8ZM349.4 413.1 349.7 414.4 346.9 416.9 340.6 418.4 339.1 419.4 339.4 420.6 342 423.1 342.4 426.9 341.1 429.4 341.2 431.9 338.3 435.6 339.7 438.1 338.3 439.4 335.3 440.6 334.3 441.9 336.1 444.4 336.2 445.6 333.1 447.4 321.9 449.1 317.4 450.6 316.8 451.9 318.4 454.4 318.2 455.6 316.4 458.1 315.6 460.9 313.1 461.3 308.1 460.7 301.9 458.9 300 456.9 300 451.9 299.4 451.1 290.7 448.1 287.7 443.1 284.4 441.9 274.4 442.0 270.7 443.1 270.3 444.4 271.5 448.1 267.9 451.9 267.9 455.6 265.6 457.6 261.9 459.0 256.9 458.8 247.6 456.9 245.8 455.6 242.8 449.4 243.6 445.6 243.1 442.9 244.4 441.9 258.1 438.8 259.4 438.1 261.9 433.9 264.4 431.7 269.2 430.6 275.6 430.2 285.6 431.0 290.4 430.6 305.1 428.1 304.8 426.9 302.3 425.6 302 424.4 304.7 423.1 313.1 421.8 324.4 422.1 329.4 421.4 335.6 418.4 339.4 417.7 341.9 415.6 342.3 414.4 341.4 413.1 335.1 411.9 333.6 410.6 340.6 410.6ZM439.4 430.3 447.4 434.4 439.7 436.9 437.8 438.1 439.2 439.4 449.4 440.6 452.9 441.9 457.2 448.1 465.6 450.6 465.3 451.9 466.2 453.1 471.8 455.6 475.2 460.6 476.3 464.4 475.1 465.6 472.5 466.9 471.2 469.4 469.6 470.6 465.6 471.7 461.9 471.7 458.4 470.6 458.1 468.0 456.9 467.0 454.4 466.6 444.4 467.5 431.9 467.6 423.2 469.4 420.4 470.6 424.3 474.4 424.5 475.6 422.7 478.1 418.5 480.6 417.8 481.9 423.1 485.5 432.2 486.9 432.5 488.1 430.9 489.4 430.7 490.6 438.9 494.4 438.9 495.6 434.4 499.4 425.6 501.3 419.4 501.7 413.1 500.9 406.9 498.6 401.7 494.4 401.1 493.1 404.4 489.4 403.5 485.6 400.6 480.2 398.1 478.9 390.5 476.9 386.9 474.2 381.9 472.6 378.1 470.2 372.4 468.1 370.1 465.6 369.8 464.4 370.6 463.1 374.2 460.6 384.4 461.2 398.1 460.0 415.6 461.7 418.1 461.2 421 456.9 420.4 453.1 421.2 450.6 420.1 446.9 421.7 444.4 422 439.4 421.2 438.1 413.9 434.4 415.3 433.1 423.1 430.3 433.1 429.7ZM373.6 441.9 376.9 441.8 378.1 443.1 379.2 446.9 378.1 448.5 375.6 448.5 374.4 447.2 372.9 443.1ZM396.1 449.4 395.6 450.6 393.1 451.1 391 450.6 389.7 449.4 393.1 448.1 394.4 448.2ZM248.5 463.1 249.4 464.2 249.3 465.6 250.9 469.4 246 473.1 245.8 474.4 247.9 475.6 248.6 476.9 247.3 478.1 249.7 480.6 249.4 481.9 246.9 483.9 241.8 485.6 248.8 488.1 249.2 489.4 245.6 491.9 245.5 493.1 247.7 495.6 249.5 499.4 249.4 503.1 247.1 505.6 247.5 509.4 246.9 513.1 245.6 514.9 243.1 516.4 234.4 516.9 244.4 517.5 248.5 519.4 250.2 521.9 246.7 526.9 246.6 528.1 247.7 529.4 247.3 530.6 241.9 533.1 250 535.6 250.7 545.6 244.8 549.4 244.1 550.6 255.6 549.0 256.8 548.1 256.8 546.9 257.9 545.6 262.1 543.1 263 541.9 262.4 539.4 264.4 538.8 266.2 539.4 267.5 541.9 270.7 543.1 281.9 543.9 285.4 545.6 284.4 547.3 275 551.9 271.6 554.4 276.7 558.1 276.2 559.4 271.9 563.0 268.7 564.4 267.7 565.6 270 566.9 269.3 568.1 261.9 571.0 257.2 571.9 255.4 573.1 261.9 574.8 265.6 576.9 267.7 579.4 180 579.4 174.4 577.1 173.4 575.6 174 573.1 173.7 570.6 174.5 568.1 173.9 565.6 175.6 564.0 183.6 563.1 185.9 561.9 183.7 560.6 184.2 556.9 183.4 554.4 186.5 546.9 184.1 544.4 183.7 543.1 189.4 539.9 190.9 538.1 193 531.9 194.6 529.4 194.8 528.1 193.1 524.4 194.1 523.1 201.9 520.6 203 519.4 202.7 514.4 203.9 510.6 203.5 506.9 205.9 503.1 215.2 500.6 215.2 499.4 213.1 496.6 212.4 494.4 215.1 490.6 215.7 488.1 218.1 485.9 222.2 484.4 222.9 483.1 222 481.9 221.9 480.6 227.7 474.4 233.7 470.6 235.5 468.1 236.9 464.7 241.9 463.0ZM228.3 551.9 231.9 553.0 235.6 551.9ZM228.4 574.4 231.9 575.0 235.8 574.4 234.4 573.3ZM267.4 469.4 267.6 468.1 273.1 466.1 276.9 466.3 278.2 466.9 279 468.1 278.1 470.6 275.6 471.9 271.9 471.5ZM167.2 471.9 169.4 470.4 179.4 468.7 184.4 469.4 185.6 470.6 185.3 471.9 183.3 473.1 179.4 473.7 170.6 473.6 168.6 473.1ZM312 475.6 310.9 476.9 301.9 479.0 301.3 483.1 299.4 484.4 291.4 486.9 299.7 490.6 300.4 491.9 298.1 493.8 293.1 495.3 276.9 495.4 271.9 494.4 271.3 493.1 271.9 487.8 275.6 483.8 280 480.6 290.6 479.6 297.5 478.1 299.6 476.9 294.4 474.8 293.1 473.2 294.3 470.6 295.6 469.4 300.6 469.6 302 470.6 303.1 473.4 304.4 474.6ZM469.6 514.4 470.6 512.9 477.1 509.4 478.3 508.1 478.4 505.6 484.2 501.9 484.2 500.6 485.6 499.6 489.4 498.1 494.7 494.4 508.9 489.4 509.7 486.9 520 484.4 520.6 483.0 519.4 481.1 509.4 477.4 507.3 475.6 507.5 474.4 509.4 472.7 515.6 471.1 524.4 472.2 531.9 475.6 534.4 478.2 545.6 480.4 548.1 481.8 548.5 483.1 547.8 485.6 549.1 488.1 548.7 489.4 540.6 491.7 539.2 493.1 539.3 498.1 541.1 499.4 544.4 500.2 554.4 500.5 574.4 497.5 588.1 499.6 608.1 500.4 614.4 499.8 620.6 497.6 625.6 497.1 631.9 497.6 640.6 500.8 644.4 501.4 670.6 500.2 679.4 500.5 679.4 513.5 661.9 511.2 648.1 511.6 634.4 510.6 630.9 513.1 628.1 513.7 609.4 513.5 603.5 514.4 602.4 515.6 602.9 516.9 602.7 519.4 599.6 520.6 580.4 519.4 579 518.1 591.9 518.4 595.6 517.7 597.3 515.6 595.6 513.1 597.5 511.9 597.9 510.6 594.4 509.8 586.9 510.0 579.4 512.1 570.6 512.8 561.9 514.6 560.2 514.4 558.1 513.0 552.6 511.9 534.4 509.9 529.4 510.5 533.4 513.1 533.3 514.4 526.9 518.1 526.6 519.4 525.3 520.6 519.3 524.4 519.2 525.6 524.1 528.1 521 530.6 520.6 533.1 526 535.6 524.6 538.1 525.3 539.4 525.1 540.6 520.8 543.1 519.5 544.4 519.7 545.6 523.1 547.0 534.4 546.7 538.1 547.2 540.9 549.4 540.6 550.6 538.7 551.9 538.7 553.1 543.1 554.4 544.7 555.6 543.4 556.9 540.6 557.5 533.1 557.7 531 556.9 528.1 553.7 526.9 553.3 519.8 555.6 524.4 558.1 529.4 559.3 532.1 560.6 526.9 563.1 526.4 564.4 527.7 566.9 527.4 569.4 529.4 570.2 540.7 571.9 540.6 573.3 534.4 576.3 530.3 575.6 526.9 572.5 524.4 571.4 516.9 571.1 505.2 566.9 502.3 561.9 499.6 559.4 499.2 558.1 501.9 557.1 513.3 555.6 508.1 554.2 496.9 555.1 494.4 554.3 493.1 553.2 493 551.9 494.2 548.1 492.7 544.4 494.5 541.9 493.1 540.5 484.4 538.6 481.9 537.1 480.7 533.1 483 529.4 480.6 524.4 481.4 520.6 480.6 519.4 472.2 516.9ZM494.2 475.6 495.6 474.1 496.9 474.1 498.7 475.6 496.9 476.7ZM181.1 479.4 180.6 480.7 176.9 481.9 166.9 481.9 161.8 480.6 164.4 479.6 176.9 478.1 179.4 478.3ZM439 485.6 444.4 483.3 445.6 483.3 447.4 484.4 446.2 485.6 443.1 486.6 440.6 486.6ZM156.4 489.4 160.1 488.1 173.1 488.0 179.4 489.9 180.2 490.6 180.4 491.9 177.6 494.4 173.1 494.8 165.6 491.2ZM120.6 504.7 129.9 505.6 131.4 508.1 133.1 508.4 142.2 508.1 143.9 506.9 143.4 505.6 137.2 503.1 139.2 499.4 141.9 498.0 149.4 497.4 152.1 498.1 150.9 500.6 153.1 501.9 163.9 504.4 161.9 505.8 151.4 508.1 152 509.4 155.6 510.1 164.4 509.9 168.1 510.6 167.8 511.9 155.6 511.2 133.1 512.6 120.6 515.2ZM299.1 499.4 298.7 500.6 297.1 501.9 289.8 505.6 289.6 506.9 299.5 509.4 302 510.6 302.5 511.9 300.6 513.8 295.8 516.9 296 518.1 294.8 520.6 295.9 523.1 295.3 528.1 284.1 533.1 283.5 534.4 285.4 539.4 284.7 540.6 283.1 541.0 280.6 540.6 273.5 538.1 264.4 536.2 260.8 534.4 261.1 533.1 269.5 530.6 268.2 529.4 263.1 528.2 261.1 526.9 260.1 524.4 260.4 523.1 262.1 521.9 276.9 518.1 276.2 516.9 268.2 513.1 267.8 511.9 273.8 508.1 273.8 504.4 275.2 501.9 271.7 499.4 275.6 498.3 285.6 498.9 294.4 498.1ZM170.2 501.9 171.1 500.6 173.1 500.1 177.2 500.6 173.1 502.3ZM391.8 504.4 391.9 503.1 393.1 502.0 395.6 501.1 399.4 501.2 401.4 501.9 402.7 503.1 402.4 504.4 400.4 505.6 395.6 507.0 393.1 506.3ZM373.1 510.5 378.1 509.9 394.4 510.3 398.1 511.5 400 513.1 399.9 515.6 397 519.4 396.8 520.6 398.7 523.1 398.8 524.4 396.9 529.4 397.5 531.9 399.9 535.6 398.2 539.4 398.6 540.6 401.4 543.1 401.2 544.4 398.1 548.6 394.3 550.6 393.5 551.9 393.1 554.4 390.7 556.9 393.4 563.1 390.8 566.9 390 569.4 386.5 571.9 383.5 575.6 389 579.4 362.6 579.4 361.4 575.6 362.1 573.1 366.2 569.4 362.2 565.6 362.3 559.4 360.7 555.6 361.9 554.3 367.8 551.9 369.1 550.6 365.1 548.1 364.3 546.9 365.6 545.0 369 543.1 368.8 541.9 363.6 539.4 363.1 534.7 365.6 530.8 370.4 528.1 365.6 525.0 365.4 521.9 364.2 519.4 363.2 514.4 364.6 513.1ZM446.9 513.3 448.4 515.6 448 516.9 445.6 518.7 437.4 521.9 436.5 523.1 438.6 529.4 437.4 534.4 437.8 536.9 436.9 538.7 433.1 540.2 426.9 540.9 423.1 540.6 421 539.4 419.9 536.9 420.5 534.4 423.1 532.4 429.4 529.7 430.5 528.1 430.7 524.4 431.9 521.9 430 515.6 431.9 512.8 434.4 511.2 436.9 510.8 443.1 511.6ZM165.7 519.4 168.1 517.8 171.9 517.1 174.7 518.1 175.7 519.4 175.7 520.6 173.1 522.6 170.6 523.1 166.9 521.5 165.8 520.6ZM632.6 525.6 630.6 527.2 625.6 528.2 614 526.9 610 525.6 611.9 524.1 623.2 523.1 626.3 521.9 622.1 519.4 622.7 518.1 628.1 518.0 630.6 519.4 631.4 520.6 630.6 523.1ZM669.2 520.6 673.1 519.4 679.4 520.4 671.9 521.4ZM149 524.4 150.1 523.1 153.1 522.6 155.8 523.1 156.9 524.4 153.1 525.3ZM173 526.9 165.6 527.5 162.5 526.9 161.9 525.6 169.4 524.1 171.9 524.9ZM673.2 525.6 674.4 524.3 679.4 523.8 679.4 526.6ZM566.8 529.4 583.1 527.6 588.5 528.1 589.2 529.4 571.9 531.1 566.9 530.6ZM140.5 530.6 141.1 529.4 144.4 528.8 147 529.4 146.9 530.6 145.6 530.9ZM643.2 529.4 648.1 528.9 650.2 529.4 651.8 530.6 650.6 531.9 646.9 532.3 643.5 530.6ZM598 533.1 598.5 531.9 609.4 530.2 615.6 531.1 617.3 531.9 617.7 533.1 613.1 535.6 606.9 536.1 600.7 535.6ZM539 534.4 541.9 532.8 546.9 532.5 556.9 533.8 559.6 535.6 559.3 536.9 556.8 538.1 549.4 538.6 541.9 537.2 539.6 535.6ZM140.2 536.9 136.6 538.1 129.5 539.4 120.6 539.7 120.6 536.5 134.4 535.6ZM631 538.1 634.4 536.1 640.6 534.9 644.4 535.1 651.9 538.1 656.9 538.7 668.1 537.9 675.6 535.5 679.4 535.1 679.4 538.9 676.9 539.3 675.6 540.3 675.6 542.1 671.9 543.0 644.4 542.0 633 539.4ZM148.3 539.4 150 538.1 156.9 537.0 159.4 537.5 160.8 539.4 159.4 540.9 155.6 541.3 149.4 540.6ZM594.4 541.9 601.9 540.6 609.4 540.7 614.7 541.9 622.4 545.6 621.3 546.9 619.4 547.4 611.9 547.4 595.6 544.4ZM120.6 557.5 120.6 544.3 130.6 546.6 144.4 546.1 156.9 547.2 158.6 548.1 156.9 549.5 148.9 551.9 146.8 554.4 130.6 557.9ZM546.4 545.6 559.4 545.5 569.4 547.0 579.4 546.1 583.1 546.9 581.9 548.1 569.4 551.7 561.9 552.6 559 551.9 558.2 550.6 558.2 549.4 556.9 548.5 550.6 547.3 548.1 545.8ZM639.3 546.9 645.5 546.9 641.9 547.3ZM634.6 551.9 633.6 553.1 628.5 554.4 626.9 555.4 626.9 556.9 608.1 559.8 601.9 559.3 599.1 558.1 598.2 556.9 599.4 555.6 601.9 555.0 618.1 553.9 628.1 550.7 632.1 550.6ZM669.6 550.6 679.4 550.2 679.4 551.5 673.1 551.5ZM629.5 558.1 645.6 554.5 657 554.4 659.1 555.6 659.4 557.0 665.7 559.4 663.1 560.7 656.9 561.2ZM553 558.1 553.6 556.9 555.6 555.6 558.1 555.1 561.9 555.3 572.1 559.4 570.7 561.9 572 563.1 569.4 564.4 563.7 564.4 563.6 563.1 561.9 562.3 553.7 560.6ZM156 560.6 155.1 561.9 152 563.1 153.1 565.7 144.4 568.7 143.3 570.6 143.9 573.1 143.1 573.7 140.6 574.2 136.9 573.9 133.1 572.4 130.9 570.6 130.5 569.4 130.9 568.1 138.1 565.9 141.9 563.9 148.1 562.5 149.4 560.6 153.1 559.8ZM679.4 565.6 679.4 575.8 668.1 574.3 664.4 573.1 664.7 571.9 665.6 571.1 674.4 569.1 676.6 568.1 676.9 566.8ZM651.1 568.1 655.6 567.6 657.2 568.1 657.3 569.4 651.9 569.5ZM605.4 575.6 606.5 574.4 609.4 573.7 614.2 574.4 616 575.6 608.1 577.2 606.4 576.9ZM563.7 579.4 533.3 579.4 535.6 577.3 543.1 577.0 549.4 575.4 554.4 574.8 560.6 575.7 562.7 576.9ZM584.7 579.4 586.9 577.7 590.6 576.9 597.2 578.1 600 579.4ZM656.1 579.4 659.4 577.7 664.4 577.2 668.1 577.6 673.8 579.4ZM607 579.4 611.9 578.9 617.7 579.4Z"/>
<path fill="#ffaa00" d="M120.6 438.2 120.6 395.8 122 395.6 120.6 395.0 120.6 382.6 126.9 382.0 136.9 379.7 140 378.1 140.6 376.9 132.7 369.4 133.7 365.6 136 361.9 135.9 360.6 130.2 353.1 130 350.6 130.5 349.4 129.9 348.1 120.6 346.6 120.6 239.6 122.2 239.4 120.6 239.2 120.6 230.0 129.7 229.4 127.1 228.1 120.6 227.0 120.6 224.6 126.7 223.1 126.9 221.9 124.3 220.6 311.7 220.6 315.6 222.4 320.6 223.0 323.1 222.6 325.4 220.6 339.5 220.6 334.3 224.4 341.3 228.1 342.3 229.4 342.3 230.6 336.4 236.9 330.4 239.4 329.9 240.6 330.5 244.4 328.7 246.9 329.5 248.1 328.9 249.4 319.2 251.9 316.9 256.9 317.6 259.4 317.2 264.4 318 266.9 316.7 268.1 309.4 270.4 307 271.9 307 273.1 311.3 276.9 310.3 278.1 303.1 280.4 300.9 281.9 300.6 283.1 301.8 284.4 302.1 285.6 297.4 289.4 297.7 290.6 301.3 293.1 301.2 298.1 298.9 300.6 298.6 301.9 303.1 304.4 302.9 305.6 300.3 308.1 302.4 310.6 302.7 314.4 300.4 316.9 301.9 318.2 314.4 319.9 319.4 319.4 320.5 318.1 320.5 315.6 321.9 314.7 329 313.1 323.1 311.0 320.4 309.4 319.8 305.6 317.8 303.1 319.3 301.9 323.3 300.6 322.6 299.4 320.4 298.1 322 296.9 325.6 295.9 327.9 294.4 331.6 286.9 337.7 281.9 339 278.1 337.2 274.4 338.3 273.1 342.7 270.6 342.3 269.4 342.8 268.1 353.1 265.6 353.7 264.4 350.6 263.4 343.1 263.1 339.9 261.9 339.1 260.6 341.9 259.9 350.6 259.6 353.5 258.1 353.1 256.9 350.7 254.4 350.7 251.9 349.4 249.4 355.1 243.1 354.9 240.6 355.6 240.0 364.4 236.9 366.9 237.3 371.2 239.4 370.7 240.6 366.2 243.1 370.8 246.9 369.9 250.6 371.4 253.1 370.2 255.6 373.1 259.4 371.8 261.9 372.1 266.9 373.2 269.4 370 275.6 371.1 279.4 374.4 283.6 375.6 284.3 391.9 284.3 394.9 285.6 390.6 289.0 386.9 290.1 376.9 288.5 374.4 288.5 372.1 289.4 371.6 290.6 372.9 294.4 372.4 296.9 373.7 303.1 373.2 305.6 373.9 308.1 372.5 310.6 373.5 313.1 373.2 314.4 371 318.1 375.9 325.6 375.6 326.9 371.5 330.6 369.9 338.1 370.7 340.6 370.4 341.9 365.6 344.0 355.6 344.4 347.6 346.9 345.6 348.1 347.1 350.6 345.7 353.1 348.3 358.1 345.5 361.9 341.9 364.4 340.7 366.9 334.4 369.1 313.1 367.6 303.1 368.7 288.5 369.4 286.9 370.6 293.4 373.1 293.5 374.4 276.9 376.7 265.6 374.9 239.4 378.1 225.6 375.9 211.9 375.9 206.9 376.6 204.2 378.1 204.5 379.4 208.1 381.4 215.6 381.8 229.4 381.2 232.3 381.9 225.6 385.6 224.8 386.9 228.6 389.4 228.7 390.6 225.8 393.1 218.1 396.8 215.9 399.4 214.4 399.7 174.4 398.6 169.4 399.1 164.5 400.6 163.1 401.9 163.5 403.1 166.9 405.3 168.1 406.9 165.8 410.6 166.3 413.1 165.6 414.9 164.4 415.7 153.1 417.5 149.4 418.8 147.5 420.6 146.9 422.9 143.5 428.1 134.4 429.9 130.6 431.3 128.7 433.1 126.9 436.9ZM324 225.6 320.6 224.2 309.4 225.6 304.5 226.9 305.7 228.1 313.1 230.1 318.1 230.5 320.6 229.7 321.1 228.1ZM192.7 235.6 199.4 237.1 203.1 236.7 205.1 235.6 204.1 234.4 198.1 233.9 193.1 234.4ZM288.2 236.9 298.1 237.4 301.4 236.9 303.2 235.6 299.4 234.9 289.8 235.6ZM272.1 244.4 277.9 244.4 275.6 243.8ZM297.5 260.6 298.8 263.1 300.6 264.4 309.4 264.7 311.9 264.4 313.8 263.1 311.7 261.9 299.4 259.6ZM207.1 304.4 207.4 305.6 209.4 306.9 216.9 308.9 225.6 308.5 230.3 306.9 230.1 305.6 225.6 303.7 211.9 303.3ZM220.3 321.9 223.2 323.1 233.1 325.0 251.9 325.9 253 326.9 249.1 336.9 254.4 341.6 258.1 342.5 263.1 342.6 268.1 341.5 275.4 336.9 276.3 335.6 274.4 334.5 273.1 331.9 274.4 330.7 278.3 329.4 278.8 328.1 278.1 325.6 281.4 323.1 281.9 321.9 280.6 320.6 275.6 319.6 246.9 318.5 226.9 320.0ZM183.2 334.4 183.3 335.6 188.1 337.1 195.6 337.4 199.4 336.9 198 335.6 193.1 334.3 186.9 333.7ZM200.8 345.6 201.1 346.9 205.6 348.3 215.6 349.4 239.4 347.9 245.5 346.9 241.9 345.4 219.4 342.9 208.1 343.5ZM209.7 363.1 215.6 363.8 222.6 363.1 221.2 361.9 215.6 361.6 211.9 361.9ZM165.8 366.9 168.1 369.9 173.1 370.9 183.1 368.4 186.2 366.9 187 365.6 181.9 364.1 171.9 363.3 168.1 364.2ZM236.4 365.6 239.4 366.2 241.8 365.6 236.9 364.5ZM252.6 369.4 253.1 370.6 264.4 372.8 268.1 372.4 270.5 370.6 270 369.4 268.1 368.6 261.9 367.6 255.6 367.8ZM160.3 378.1 164.4 379.6 171.9 379.9 178.1 378.5 179.2 376.9 175.6 376.0 168.1 375.8 163.1 376.3ZM358 220.6 370 220.6 371.2 223.1 371.2 224.4 365.2 229.4 365.7 230.6 368.6 233.1 367.7 234.4 365.6 235.4 364.4 235.4 363.1 234.5 361.4 229.4 358.4 225.6 359 221.9ZM676.9 221.9 676.4 223.1 665.6 225.1 663.1 226.5 662.9 228.1 664.4 230.6 662.7 233.1 662.8 234.4 664.3 236.9 666.9 237.5 679.4 236.6 679.4 251.9 673.1 251.6 669.8 250.6 668.9 249.4 672.1 246.9 663.1 246.0 659.4 241.9 654.4 241.4 649.7 243.1 648.7 244.4 651 248.1 650.9 249.4 648 253.1 647.6 256.9 641.9 261.3 642.5 265.6 639 269.4 639.6 273.1 636.4 276.9 636.5 278.1 638.6 280.6 638.9 281.9 633 285.6 634.4 288.1 632.8 289.4 618.7 291.9 629.3 299.4 636.9 302.3 643.1 303.4 663.1 304.3 665.6 305.9 670.6 311.3 674.4 312.8 679.4 313.7 679.4 364.0 675.6 364.4 671.9 365.6 668.9 368.1 669.9 369.4 671.9 369.4 679.4 367.9 679.4 428.8 669.5 429.4 669.5 430.6 674.4 432.5 679.4 433.0 679.4 447.7 675.6 447.3 673.1 445.6 669.8 438.1 664.4 436.0 661.9 434.4 661.2 433.1 661.5 430.6 651.8 428.1 650 426.9 648.2 424.4 648 421.9 641.2 418.1 635 415.6 635.8 414.4 641.1 411.9 642 410.6 642 409.4 639.4 407.9 633.1 406.9 632.1 405.6 637.6 403.1 638.9 401.9 636 400.6 623 398.1 622.2 396.9 623.9 393.1 623.4 391.9 620.6 390.4 613.1 388.3 611.9 387.3 611.2 384.4 609.8 381.9 609.9 379.4 607.2 376.9 606.9 375.6 607.9 373.1 607.1 371.9 601.3 369.4 600.2 365.6 597.8 363.1 597.9 361.9 600.6 358.1 600.3 356.9 595.6 353.2 589.4 351.9 587.2 350.6 587.4 349.4 594.3 345.6 594.4 343.8 590.6 341.2 583.1 340.4 580.1 339.4 579.2 336.9 576.1 334.4 575.4 333.1 577.8 330.6 575.9 329.4 574.2 329.4 571.9 330.4 573 333.1 568.5 335.6 565.8 338.1 560.5 340.6 558.2 344.4 554.4 345.9 549.4 345.6 546.9 344.4 536.9 346.9 533.1 346.0 532.3 344.4 532.5 343.1 531.3 340.6 533.1 334.4 532.2 331.9 532.8 329.4 532.1 328.1 528.1 326.1 524.4 325.4 513.1 326.7 511.5 325.6 513.5 324.4 513.8 323.1 509.4 321.4 504.4 322.1 494.4 327.3 484.4 328.0 474.1 330.6 471.7 333.1 470.5 336.9 469.4 337.5 453.1 338.8 449.4 339.8 445.1 343.1 444.6 344.4 444.8 346.9 443.4 349.4 443.4 350.6 446.1 353.1 446.1 354.4 443.5 356.9 446.4 359.4 447.2 360.6 446.8 361.9 440.8 365.6 438.1 369.9 430 373.1 426.6 376.9 417 383.1 416.3 384.4 417.1 385.6 415.2 391.9 416.4 395.6 415.9 398.1 418.6 401.9 419 406.9 416.9 408.4 411.1 410.6 409.9 411.9 409.4 416.2 411.1 419.4 409.2 420.6 396.9 424.0 392 423.1 390.9 421.9 393.3 418.1 390.2 414.4 389.4 411.9 387 408.1 389.4 403.9 395.2 400.6 394.6 399.4 389.8 396.9 389.8 395.6 392.2 393.1 389.4 391.7 383.1 391.6 381.1 391.9 379.2 393.1 381.4 395.6 380.6 396.4 376.9 396.9 373.5 395.6 373.8 394.4 376 393.1 376.7 391.9 375.1 389.4 374.9 386.9 376.9 385.4 384.3 383.1 376.8 380.6 375.1 378.1 375.6 376.8 378.1 374.9 383.6 374.4 384.3 373.1 383.9 371.9 385.7 370.6 396.9 368.4 401.4 364.4 401.5 361.9 398.9 358.1 403.1 355.6 402.4 354.4 398.4 351.9 395.6 348.6 383.1 346.9 381.7 345.6 383 341.9 384.4 340.5 386.9 339.2 395.8 336.9 397.2 335.6 397.2 334.4 395.6 333.4 389 331.9 389.3 330.6 393.3 328.1 393.7 326.9 397.3 323.1 395.1 319.4 397.9 315.6 396 313.1 396.1 311.9 400 305.6 400.3 304.4 399.1 300.6 399.7 299.4 407.7 295.6 410.6 291.2 415.6 290.4 419.4 291.9 421.2 294.4 421.7 296.9 430.2 304.4 430.9 305.6 430.8 308.1 431.6 309.4 437.7 313.1 438.7 316.9 440.6 319.5 443.1 320.4 451.9 321.3 461.9 323.3 471.2 321.9 478.1 316.8 482.8 314.4 482.2 313.1 476.6 310.6 476.3 309.4 479.9 304.4 485.6 301.3 499.4 301.6 514.4 300.0 525.6 301.1 531.3 299.4 536.2 293.1 540.6 292.4 546.4 293.1 547 294.4 545.6 298.0 540.6 301.2 538.1 305.6 532.2 309.4 532.2 313.1 529.8 315.6 530.4 318.1 531.9 320.1 534.4 321.0 538.1 320.9 540.5 319.4 541.3 314.4 542.5 313.1 555.6 311.1 559.4 310.0 563.4 306.9 563.9 305.6 563.8 303.1 566.1 301.9 578.1 300.8 581.5 299.4 582.7 296.9 584.4 295.0 590.5 291.9 589.4 289.4 589.8 288.1 593.5 284.4 594.7 280.6 595.6 280.0 599.4 279.6 606.9 281.6 613.1 282.2 616.9 281.5 622.9 276.9 623 275.6 621.5 270.6 622.3 265.6 621 261.9 622.7 256.9 622.9 253.1 629.4 248.9 639.4 238.6 644.8 231.9 651.4 226.9 652.2 223.1 652.1 220.6 675.7 220.6ZM633.9 311.9 629.4 309.5 623.1 309.1 615.5 313.1 614.8 315.6 611.9 316.6 598.1 318.9 586.4 319.4 586.4 320.6 590.3 323.1 588.4 324.4 584.1 325.6 583.8 328.1 586 329.4 608.1 332.6 613.1 333.8 616.9 333.5 623.1 330.0 626.5 326.9 626.7 325.6 624.7 323.1 625.6 321.9 630.9 318.1 634.2 313.1ZM613.6 339.4 615.6 339.8 617 339.4ZM640.6 390.6 642.5 391.9 648.1 391.8 650.5 390.6 645.6 389.5ZM436.2 225.6 436.3 224.4 443.1 223.6 445.9 224.4 440.6 225.9ZM679.4 229.2 679.4 232.0 676.9 231.7 674.6 230.6ZM444.5 238.1 446.9 236.6 451.9 236.1 460.6 236.4 462.1 236.9 462.7 238.1 461.9 239.4 459.4 240.7 448.1 242.4 445.6 240.6ZM444.2 245.6 444.5 244.4 445.6 243.6 448.1 243.3 457.2 246.9 455.6 248.4 453.1 249.2 446.9 247.9 445 246.9ZM453.4 251.9 454.4 250.1 468.1 252.9 468.7 253.1 468.5 254.4 465.6 255.2 458.1 254.7 454.4 253.3ZM660.4 266.9 662.9 261.9 664.9 260.6 669.4 259.9 679.4 259.9 679.4 270.8 664.4 270.7 661 269.4 660.3 268.1ZM495.9 265.6 494.8 266.9 490.6 267.5 479.4 267.2 470.6 267.7 467.6 266.9 476.9 263.9 485.6 262.8 493.1 263.4 495.2 264.4ZM525.4 275.6 525.5 274.4 530.6 271.7 534.4 271.2 536.9 272.4 538.3 275.6 536.9 277.1 533.1 277.7 528.1 277.0ZM669.5 276.9 670.3 275.6 672.1 274.4 679.4 273.2 679.4 278.7 674 278.1ZM494.5 275.6 500 275.6 502.1 276.9 496.9 276.9ZM474.5 285.6 474.7 284.4 475.6 283.7 479.4 282.9 499.6 285.6 502.6 286.9 500.6 288.5 489.4 288.7 489.1 289.4 489.7 290.6 487.4 293.1 491.5 295.6 491.8 296.9 489.4 298.8 486.9 299.1 476.9 295.6 476.3 294.4 477.5 291.9 488.8 288.1 478.1 286.9ZM501.7 289.4 503.1 288.9 510.6 289.3 512.8 290.6 514.8 294.4 514.1 295.6 511.9 296.2 506.7 295.6 505.2 294.4 505.4 293.1ZM258.8 325.6 264.4 325.1 270.9 325.6 267 326.9 260.6 327.2 259.6 326.9ZM551.1 351.9 547.6 353.1 545.6 355.6 537.1 358.1 544.4 360.4 544.8 361.9 540.5 364.4 543.1 365.6 543.4 366.9 539.4 368.3 536.5 371.9 533.1 373.8 526.9 374.9 524.4 374.6 519.2 370.6 509.4 368.2 507.6 366.9 507.3 364.4 507.8 363.1 518.8 355.6 518.2 354.4 516.1 353.1 516.4 351.9 535.6 349.7 550.6 350.8ZM477.1 368.1 477.3 369.4 475.7 371.9 475.8 375.6 472.8 376.9 466.9 377.6 459.4 377.5 452 375.6 451.4 374.4 452.9 371.9 455 370.6 463.1 367.8 468.2 366.9 469 365.6 465.7 364.4 466.5 363.1 470.6 362.7 473.5 363.1 474.7 364.4 474.8 365.6ZM280.8 393.1 282.5 391.9 285.6 391.5 303.4 391.9 308.4 393.1 311.9 395.6 312.4 396.9 311.5 398.1 309.1 399.4 300.6 401.5 291.9 404.8 290.1 404.4 289.8 403.1 284.3 400.6 280.8 395.6ZM333.7 396.9 335.6 396.5 336.7 396.9 335.6 397.6ZM231.5 401.9 233.1 400.3 235.6 399.9 243.1 400.9 253.1 401.0 267.4 404.4 265 406.9 271.6 409.4 272.4 410.6 268 416.9 264.8 418.1 254.4 418.3 244.7 416.9 244.4 415.6 242.8 414.4 233.1 409.8 231.1 408.1ZM527.2 410.6 522.5 413.1 521.9 414.3 523.4 416.9 522.1 419.4 521.8 421.9 517.3 424.4 513.7 428.1 509.3 429.4 500.6 430.1 499.2 430.6 495.6 434.2 493.1 435.2 486.9 435.0 480.7 433.1 479.8 430.6 478.1 429.2 465.7 428.1 463.3 426.9 471.9 425.5 485.6 426.6 489.4 426.2 493.2 423.1 500.2 413.1 509.4 407.2 513.1 405.6 516.3 405.6 519.4 408.1ZM416.5 413.1 417.5 411.9 419.4 411.1 434.4 407.8 440.5 409.4 447.7 414.4 446.7 415.6 434.4 418.3 430.6 417.8 418.2 414.4ZM285.7 439.4 289.8 436.9 290.3 433.1 300.6 430.4 315.6 428.1 307 425.6 306 424.4 308.7 423.1 318.1 422.6 325.6 423.8 334.4 422.8 336.9 423.5 338.8 425.6 338.9 426.9 337.3 429.4 337.8 431.9 333.8 434.4 333 436.9 327.1 439.4 324.5 441.9 324.6 443.1 331.2 444.4 332.2 445.6 329.7 446.9 313.1 449.5 298.1 447.8 293.1 445.9 289.9 441.9ZM315.7 428.1 324.4 429.5 325.9 429.4 327.3 428.1 323.1 427.4ZM419.1 434.4 420 433.1 421.9 432.3 426.9 431.4 431.7 431.9 433.7 433.1 434.2 434.4 432.3 435.6 426.9 437.3 421.9 436.1ZM275.6 435.6 275.8 436.9 274.4 438.1 269.3 439.4 265 441.9 265.5 443.1 268.1 445.2 269.1 446.9 268.3 449.4 264.7 451.9 264.7 453.1 265.8 454.4 265.5 455.6 264.4 456.2 258.1 457.3 250.7 455.6 250.6 454.4 252.3 453.1 247 450.6 245.6 449.4 246.3 445.6 245.8 443.1 251.9 441.2 261.9 440.1 262.8 439.4 263.2 435.6 265.6 433.8 270.6 433.3ZM425.3 441.9 426.9 440.2 429.4 439.9 448.1 441.9 450.2 443.1 450.8 444.4 451.1 449.4 453.1 450.5 458.1 451.7 466.9 455.6 467.5 456.9 466.9 458.1 470.6 460.6 471.3 461.9 470.9 463.1 468.1 464.7 464.4 465.4 459.4 464.4 456.9 462.9 454.4 462.7 446.9 465.6 441.9 465.9 438.1 465.3 433.1 463.1 423.1 461.4 422.1 460.6 421.8 459.4 422.7 456.9 422 453.1 423.3 450.6 423.3 446.9 425 444.4ZM302.2 455.6 303.1 453.7 306.9 452.2 311.9 452.3 315.6 454.4 315.5 455.6 314.4 456.8 310.6 458.8 304.4 458.3 302.4 456.9ZM374.4 465.6 376.9 464.1 394.4 461.4 409.2 461.9 412.1 463.1 412.5 464.4 411.5 466.9 412 469.4 411.4 470.6 418.3 474.4 419.4 475.6 418.9 476.9 417.2 478.1 410.6 479.8 408.1 479.5 403.1 477.4 395.6 476.8 392.5 475.6 390.4 473.1 383.1 469.2 375.8 466.9ZM246.8 469.4 245.8 470.6 242.6 471.9 239.4 472.3 238.1 471.9 240.6 468.5 243.1 467.2 245.6 467.8ZM511.9 475.6 513.1 474.1 516.9 473.8 524.4 475.5 525.9 476.9 521.9 477.5 513.9 476.9ZM225.1 480.6 228.1 478.6 230.6 478.2 244.4 480.0 246.4 480.6 246.7 481.9 241.9 483.5 233.1 483.6 225.7 481.9ZM472.6 514.4 474.4 512.9 485.6 509.0 494.4 508.2 498.9 506.9 500.3 505.6 499.8 504.4 494.9 500.6 494.8 499.4 496.2 496.9 498.7 494.4 506.9 491.5 518.5 489.4 519.3 488.1 525.5 485.6 528.3 483.1 536.9 481.6 543.1 481.9 544.4 483.1 541.8 485.6 544.4 488.1 542.4 489.4 534.4 490.9 525.6 490.5 527.8 491.9 528.1 493.1 526.6 494.4 526.5 495.6 531.9 496.8 535.3 499.4 545.6 502.4 558.1 502.5 574.4 500.7 595.6 501.9 616.9 501.0 623.1 499.1 626.9 498.7 630.6 499.3 638.1 502.3 641.9 503.0 669.4 502.1 679.4 502.7 679.4 510.1 666.9 508.6 650.6 509.2 635.6 508.5 626.2 509.4 626 511.9 621.9 512.7 611.7 511.9 611.1 510.6 617 509.4 611.2 508.1 588.1 508.6 576.9 509.9 566.9 509.2 554.4 510.6 528.1 507.3 524.4 507.6 521.9 509.4 522.2 510.6 524.9 513.1 524.6 514.4 516.2 518.1 517.9 519.4 517.1 520.6 513.1 520.9 505.6 519.5 492.5 519.4 491.9 520.3 493.4 521.9 492.3 524.4 493.8 525.6 501.2 526.9 504.3 528.1 499.7 530.6 494.9 534.4 495.6 535.6 498.1 536.6 501.9 536.7 514.4 535.2 516.8 535.6 518.2 536.9 519 540.6 516.9 541.9 500.6 544.7 498.4 544.4 501.9 542.4 503 539.4 499.4 538.4 488.1 538.1 483.7 536.9 482.7 535.6 482.3 533.1 486.1 529.4 483.4 526.9 482.6 523.1 485.4 520.6 485.8 519.4 473.2 515.6ZM407.3 484.4 408.1 483.2 409.4 482.8 414.4 483.5 424.4 488.4 429.4 492.2 434.9 494.4 435.8 495.6 433.1 497.7 429.4 498.9 418.1 499.8 411.9 498.8 409.4 497.3 405.8 493.1 406.2 491.9 409.8 489.4 407.8 486.9ZM214.6 494.4 215.6 493.0 219.5 490.6 220 488.1 221.9 486.9 226.9 486.0 233.1 486.3 244.5 489.4 239.7 491.9 239.8 493.1 241.2 494.4 241.9 496.9 245.4 499.4 245.7 500.6 245.1 501.9 243.1 502.7 228.1 502.6 226.1 501.9 225.3 500.6 223.2 499.4 216.9 497.1 215.1 495.6ZM275.7 489.4 277.4 488.1 281.9 487.4 294.4 490.2 296.8 491.9 295.3 493.1 291.9 493.7 279.4 493.5 276.4 493.1 275.3 491.9ZM279.8 504.4 280.8 503.1 284.4 502.0 286.9 502.1 288.2 503.1 281.9 505.5 280.6 505.4ZM394.8 503.1 396.9 502.7 398.5 503.1 398.2 504.4 396.9 504.7 394.9 504.4ZM482.3 505.6 484.1 504.4 488.1 503.8 491.3 504.4 491.6 505.6 486.9 507.5 484.4 507.1ZM207.1 506.9 210.6 506.0 219.4 505.7 239.4 507.4 241.5 508.1 242.4 509.4 242.5 513.1 238.1 514.3 226.2 513.1 224.8 510.6 220.6 510.1 209.4 511.1 206.9 508.1ZM285.4 509.4 280.4 510.6 279.7 513.1 278.1 513.8 273.1 513.2 272 511.9 278.1 509.4 280.6 506.8 283.1 507.4ZM288.5 510.6 291.9 510.1 296.2 510.6 295.8 511.9 293.1 512.1 291 511.9ZM375.6 511.2 390.6 511.5 393.2 511.9 395.7 513.1 395.5 516.9 392.9 520.6 395.8 524.4 393.8 529.4 397.3 534.4 397.5 535.6 396.7 536.9 392.6 539.4 398.1 542.9 398.3 544.4 396.5 546.9 394.5 548.1 385.7 550.6 389.4 553.2 389.7 554.4 387.4 556.9 389 559.4 390 563.1 386.9 568.8 382.9 571.9 380.5 575.6 383.9 579.4 365.2 579.4 363.8 576.9 363.8 574.4 365.6 572.4 371.1 569.4 371.2 568.1 366.6 566.9 364.6 565.6 364.4 563.9 366.8 560.6 362.9 555.6 364.4 554.4 375.2 551.9 376.7 550.6 369.8 548.1 369.9 546.9 381.8 545.6 380.5 544.4 375.7 543.1 373.2 540.6 368.1 538.7 366.4 535.6 367 533.1 368.3 531.9 378.2 528.1 377.8 526.9 370.1 524.4 365.6 515.6 366.9 514.0ZM188.1 543.1 191.3 541.9 192.7 540.6 193.3 536.9 195.4 531.9 198.1 529.9 201.9 529.2 209.4 530.8 210.4 531.9 210.5 533.1 213.1 533.5 215.3 533.1 211.4 530.6 212.8 528.1 209.4 527.1 200.6 527.8 198.1 527.1 195.8 525.6 195.6 524.4 198.1 523.1 210.6 522.7 214.6 521.9 213.1 520.6 209.2 519.4 209.3 518.1 205.8 515.6 205.6 513.8 208.1 512.0 217.6 514.4 216.1 515.6 211.5 516.9 210.8 518.1 215.6 520.3 226.9 519.2 240.6 519.7 245.3 520.6 246 521.9 243.1 524.5 234.4 525.1 229.4 526.9 228.2 528.1 237.8 530.6 234.5 534.4 230.8 536.9 230.1 538.1 236.9 539.9 244.4 540.5 246.6 541.9 245.8 544.4 244.4 544.7 236.9 542.7 227.5 543.1 226.7 544.4 228.1 546.1 230.6 547.3 235.8 548.1 231.9 548.6 218.1 547.5 217 546.9 216.5 544.4 213.1 543.5 200.6 543.5 191.9 544.8 188.6 544.4ZM432.1 515.6 434.4 513.4 438.1 512.7 443.1 513.2 446.4 515.6 446.1 516.9 444.1 518.1 435.6 520.0 433.1 518.8ZM265 524.4 266.9 523.0 274.4 522.5 281.8 524.4 288.1 524.8 292.2 526.9 291.9 528.1 286.6 530.6 280.6 531.3 278.2 530.6 273.1 527.6 265.7 525.6ZM434.6 530.6 434.5 534.4 435.5 536.9 434.8 538.1 428.1 539.5 425.6 539.3 423 538.1 422.4 535.6 423.5 534.4ZM548 535.6 550.6 535.0 554.5 535.6 553.5 536.9 551.9 537.0 549.7 536.9ZM275.4 546.9 273.1 549.4 259.7 554.4 257.8 555.6 256.9 558.1 258.1 559.9 259.9 560.6 259.4 561.0 246.1 563.1 242.7 564.4 242.4 565.6 244 566.9 257.2 568.1 257.4 569.4 252.5 570.6 245.6 570.6 240.6 568.5 231.9 567.8 223.1 564.9 213.1 565.6 205.9 564.4 206 563.1 204.7 561.9 201.4 560.6 199.9 559.4 206.9 557.4 211.9 554.0 214.4 553.5 220.6 553.6 231.9 556.4 236.9 556.6 244.4 553.5 261.5 549.4 261 546.9 262.4 545.6 264.4 545.0 268.1 545.0ZM227.7 560.6 228.1 561.4 229.4 561.6 232.8 560.6ZM191.4 549.4 194.9 548.1 209.4 548.2 211.9 549.4 208.9 551.9 204.4 552.4 194.4 551.1ZM506.3 561.9 506.7 560.6 508.1 560.4 518.9 561.9 521.2 563.1 522.1 565.6 521.2 566.9 519.4 567.6 513.1 567.6 508.5 565.6 507.2 564.4ZM176.1 575.6 179.1 573.1 177.5 571.9 177.2 570.6 180.1 568.1 177.9 566.9 178 565.6 179.4 565.4 200.2 565.6 193.2 568.1 194.9 569.4 208.2 573.1 207.3 574.4 199.4 575.1 194.4 577.1 189.4 577.9 179.4 577.5 177.1 576.9ZM217.3 571.9 218.9 570.6 220.6 570.4 227.2 570.6 227.2 571.9 219.4 572.5ZM239.2 576.9 242.4 575.6 245.6 575.3 250.2 575.6 251.2 576.9 243.1 578.1 240.6 577.9ZM219.1 578.1 220.6 577.5 224.4 577.4 229.6 578.1 231.3 579.4 219.2 579.4Z"/>
<path fill="#ff7300" d="M144.3 220.6 162 220.6 161.4 221.9 157 223.1 149.4 224.0 145.7 223.1ZM295.7 220.6 303.5 220.6 301.9 222.1 299.4 222.4 296.8 221.9ZM658.1 222.8 658.4 224.4 656.9 225.5 656.3 224.4 656.7 223.1ZM173.8 225.6 176.9 224.5 186 225.6 184.4 227.5 180.6 227.9 176.9 227.6ZM248.1 228.1 251.9 226.9 256.9 226.7 264.4 227.1 267.9 228.1 264.4 230.0 260.6 230.4 249.7 229.4ZM275.2 226.9 279.4 226.2 283.4 226.9 279.4 227.5ZM659.4 229.3 659.4 230.6 654.1 234.4 653.4 235.6 654.7 236.9 654.9 238.1 652.9 239.4 645.6 241.9 643.1 241.9 642.2 240.6 642.3 239.4 644 236.9 648.3 234.4 649 231.9 654.4 227.5 656.9 226.9ZM161.5 233.1 163 229.4 165.6 229.1 175.6 229.3 183.1 228.5 191.2 229.4 196.2 230.6 179.4 232.8 173.1 230.7 169.5 231.9 169.4 233.1 164.4 233.8ZM120.6 232.6 127.4 233.1 130.1 234.4 129.8 235.6 128.1 236.2 120.6 236.9ZM128.9 244.4 129.4 242.8 136.9 241.2 137.9 240.6 138.3 238.1 143.1 236.6 153.1 236.1 157.4 236.9 158.9 238.1 149.4 243.5 141.9 244.1 131.9 246.0ZM209.2 241.9 210.6 240.6 214.4 240.3 216.2 240.6 217.2 241.9 213.1 242.8ZM289.4 243.1 290 241.9 293.1 241.3 309.9 241.9 312.6 243.1 313.4 245.6 317.7 248.1 314.4 249.6 304 250.6 302.8 249.4 304.5 246.9 303.1 246.1 290.3 244.4ZM643.1 245.9 644.6 246.9 645.6 249.4 643.8 251.9 642.8 255.6 637.9 258.1 637.2 259.4 636.6 261.9 638.9 265.6 638.1 266.9 634.6 269.4 634.6 270.6 636 273.1 634.4 274.4 631.9 274.9 626.7 274.4 625.3 273.1 624.7 269.4 625.8 265.6 624 261.9 624.4 260.3 626.7 256.9 626.4 254.4 627.2 253.1 634.4 250.6 634.3 248.1 635.6 246.8 640.6 245.3ZM128.9 249.4 131.4 249.4 130.6 250.2 129.4 250.1ZM156.6 250.6 157 249.4 159.4 249.1 162.3 249.4 165.3 250.6 161.9 251.6ZM186.8 251.9 186.8 250.6 190.6 250.1 192 250.6 191.7 251.9 190.6 252.2ZM256.5 250.6 258.1 250.1 263.1 250.6 274 254.4 273.3 255.6 270.6 255.9 260.6 255.5 257.3 254.4ZM120.6 250.9 131.9 250.8 141.7 254.4 145.9 258.1 146.4 259.4 143.1 260.8 129.4 263.1 128.1 264.4 132.2 266.9 140.6 270.7 156.9 273.9 160.1 275.6 154.4 277.2 143.1 277.5 139.4 276.6 135.6 273.7 130.6 272.7 128.1 272.9 123.1 275.1 120.6 275.5 120.6 271.2 124.2 270.6 120.6 270.3ZM295.2 253.1 294.4 254.4 288.1 256.3 284.4 256.5 279.9 255.6 282.3 254.4 289.4 252.7 293.1 252.5ZM244.3 255.6 243.4 256.9 241.9 257.2 229 256.9 233.1 256.4 236.4 254.4 239.4 253.8 243.1 254.2ZM164.1 258.1 169.1 258.1 168.1 259.0 166.9 259.1ZM364.4 258.1 365.4 259.4 364.8 260.6 366 263.1 366.2 265.6 368.6 269.4 368.8 271.9 368.1 273.5 365.6 276.1 363.1 277.4 356.9 276.0 354.2 274.4 354.3 273.1 356.5 270.6 357.1 268.1 361.9 265.6 361.3 263.1 361.8 261.9 363.5 260.6ZM671.7 265.6 675.1 263.1 679.4 262.6 679.4 266.8 673.1 266.6ZM265.5 265.6 281.9 265.6 290.6 267.8 300.6 268.3 302.9 269.4 291.9 272.3 289.1 271.9 285.6 270.2 278.1 269.5ZM189.9 270.6 191.2 269.4 198.1 266.7 205.6 266.7 209.2 268.1 199.8 269.4 198.2 270.6 197.7 271.9 198.7 273.1 194.4 272.9ZM232.6 276.9 235.6 275.6 240.6 275.6 247.9 276.9 247.9 278.1 238.1 278.6 234.6 278.1ZM304.2 276.9 294.4 280.0 293.1 280.0 292.9 279.4 299.4 275.9 301.9 276.0ZM623.6 280.6 624.5 279.4 628.1 278.7 631.6 279.4 633.6 280.6 632.8 281.9 628.1 282.6 624.4 281.9ZM266.2 281.9 266.9 280.4 270.6 279.6 274.4 280.3 277.2 281.9 275.6 283.0 273.1 283.2ZM368.3 283.1 367.3 286.9 365.6 288.3 363.1 289.3 344.5 289.4 344.6 288.1 346.1 286.9 357.2 285.6 358.4 284.4 358.3 281.9 361.9 280.1 365.6 280.2 367.9 281.9ZM249.3 285.6 254.4 285.2 258 285.6 255.6 286.6 250.6 286.7ZM281 286.9 281.9 285.5 288.2 285.6 285 286.9ZM596.9 288.1 599.4 286.6 605 286.9 600.6 288.5ZM139.1 289.4 141.9 288.3 145.6 287.8 157.7 289.4 157.2 290.6 146.9 292.2 139.4 290.7ZM120.6 288.2 125.2 289.4 125.6 291.9 133 294.4 134.6 295.6 130.6 296.5 120.6 296.7ZM192.3 290.6 192.3 289.4 194.4 288.9 201.8 289.4 200.2 290.6 196.9 291.4ZM225.3 290.6 229.4 289.2 240.6 288.7 242.9 289.4 244.3 291.9 250.4 293.1 246.9 294.3 244.4 293.6 243.1 292.2 228.8 291.9ZM366.9 294.4 367.9 298.1 368.7 306.9 367.6 309.4 368.4 311.9 367.9 314.4 366.7 315.6 364.4 316.6 355.6 316.7 348.7 319.4 353.1 320.6 364.4 319.4 366.9 320.0 369.2 321.9 369.8 326.9 366.4 331.9 366.1 335.6 363.5 339.4 364.9 340.6 361.9 341.1 360.3 340.6 359.8 339.4 350.6 337.4 346.9 337.3 343.1 338.0 343 339.4 347.7 340.6 349.4 341.9 340.5 345.6 338.8 346.9 337.6 349.4 335.6 350.4 333.1 350.9 324.4 350.2 318.1 350.6 317 351.9 317.3 355.6 318.1 356.9 317.3 358.1 311.5 361.9 306.9 363.4 303.1 362.7 299.4 360.6 300.7 358.1 300.5 356.9 299.4 355.3 296.9 354.4 291.9 354.8 283.1 358.1 281.9 359.9 279.2 360.6 273.1 361.3 261.9 360.9 251.9 362.6 247.3 361.9 245.6 360.0 240.4 358.1 239.6 356.9 243.1 355.1 253.1 352.8 254.7 351.9 257.5 348.1 260 346.9 263.1 346.7 268.1 347.4 270.1 343.1 274.4 340.6 280.6 339.4 298.6 339.4 296.5 340.6 292.7 341.9 291.3 343.1 299.5 345.6 305.6 348.8 310.6 349.4 314.4 349.0 318.4 345.6 318.5 344.4 316.9 341.9 317.2 340.6 315.6 339.6 308.6 338.1 306.4 335.6 304 334.4 307.7 333.1 315.6 333.3 321.7 334.4 325.6 336.4 328.1 336.5 331.8 334.4 331.8 331.9 333.4 330.6 347.4 328.1 350.7 326.9 343.1 325.2 338.4 321.9 340.3 319.4 337.8 316.9 338.5 315.6 343.2 313.1 343.2 311.9 340.3 310.6 340.6 309.4 347.3 306.9 349.2 303.1 348.8 299.4 348.1 298.1 348.6 296.9 363.1 292.4 365.6 293.1ZM270.8 351.9 276.9 353.3 284.4 352.8 285.9 351.9 283.9 350.6 278.9 349.4 278.2 348.1 278.9 346.9 281.9 344.8 283.1 344.9 285.6 346.4 288.4 345.6 289.3 344.4 288.1 343.3 275.6 343.1 274.5 344.4 274.3 349.4 271.6 350.6ZM416.2 293.1 417.8 294.4 418.6 296.9 421.3 300.6 427 304.4 427.8 305.6 427.3 308.1 428 309.4 433.8 314.4 434.6 316.9 434.3 320.6 436.4 323.1 436.7 324.4 439.3 326.9 437.2 331.9 432.6 334.4 433.5 335.6 439.8 339.4 440.6 340.6 435.7 344.4 436.3 346.9 433 350.6 433.7 351.9 436.9 353.1 437.6 354.4 430.2 356.9 439.9 359.4 442.1 360.6 441.7 361.9 435.5 365.6 433.3 368.1 431 369.4 418.8 371.9 415.4 373.1 414.9 374.4 415.1 376.9 413.3 379.4 410.6 381.1 406.9 381.9 401.9 382.1 390.6 380.4 387.5 379.4 387.2 378.1 392.5 374.4 392.1 371.9 399.4 369.6 404.4 366.0 408.5 364.4 409.5 363.1 407.8 360.6 410.5 359.4 425 356.9 426.2 355.6 415.6 355.0 404.4 351.5 403.2 350.6 402.1 346.9 403.6 344.4 399.9 340.6 400.9 339.4 405 336.9 404.1 334.4 404.2 331.9 402.9 330.6 403 323.1 401.4 319.4 401.6 318.1 403.7 315.6 401.5 313.1 401.5 311.9 406.4 306.9 405.4 303.1 406 300.6 414.4 293.1ZM295.7 296.9 294.4 298.3 290.6 299.5 286.9 300.1 285.8 299.4 287.3 296.9 290.6 295.8 293.8 295.6ZM201.5 298.1 211.9 298.1 215 299.4 216.2 300.6 210.3 300.6 203.1 299.4ZM165 300.6 168.8 299.4 173.1 298.9 180.5 299.4 178.1 301.0 173.1 302.1 167.5 301.9ZM255.6 299.4 259.4 298.6 265.6 298.6 271.6 299.4 272.1 300.6 260.6 301.7 257 300.6ZM227.9 301.9 233.1 300.0 235.6 299.8 245.1 301.9 247.8 303.1 245.9 304.4 236.9 305.7 233.1 304.7ZM632.5 304.4 629.4 305.6 623.1 305.9 615.4 308.1 595.6 311.2 588.1 313.6 575.6 314.5 573.9 315.6 574 318.1 570.6 320.6 572.1 323.1 569.7 326.9 564.4 328.4 560.6 328.8 554.6 328.1 554.4 326.9 557.9 321.9 557.6 320.6 551.2 319.4 551.3 318.1 552.8 316.9 552.5 314.4 560.6 312.3 571.9 308.2 572.1 304.4 574.4 303.6 588.1 301.8 601.9 301.5 613.1 300.1 616.9 300.6 621.9 302.4 629.6 303.1ZM612.2 304.4 611.2 303.1 608.1 302.9 600.6 304.9 594.3 305.6 598.1 306.5 606.9 305.9ZM536 301.9 535.6 303.7 533.1 304.9 524.2 304.4 524.4 303.1 534.4 301.1ZM120.6 302.8 130.6 303.6 133.9 304.4 134.6 305.6 129.4 307.0 120.6 307.0ZM295.4 305.6 289 308.1 287.5 309.4 289.4 311.3 294.4 313.0 293.3 314.4 279.4 317.7 264.4 317.1 258.1 315.2 246.9 314.3 244.9 311.9 246.9 310.7 258.1 310.2 264.4 307.4 274.4 306.3 284.4 302.2 288.1 302.4 294.4 304.2ZM328 304.4 330.6 303.7 334.2 304.4ZM486.7 305.6 488.4 304.4 490.6 304.2 492.5 304.4 493.9 305.6 490.6 306.6 488.1 306.4ZM496.7 309.4 515.6 307.1 524.4 309.9 527.4 311.9 527.1 313.1 522.8 315.6 523.2 316.9 522.1 318.1 509.4 317.8 505.2 316.9 504.9 314.4 496.8 310.6ZM651.7 309.4 653.3 308.1 656.9 307.9 660.6 308.1 662.9 309.4 661.5 310.6 658.1 311.1 654.6 310.6ZM197.5 314.4 198.2 313.1 200.6 311.5 204.4 310.5 209.4 311.4 214.1 313.1 215.7 314.4 211.9 316.1 205.6 317.4 200.6 316.3ZM124.5 313.1 125.1 311.9 133.1 311.2 137.1 311.9 137 313.1 134.4 313.8ZM242.3 315.6 241.9 316.9 228.1 317.7 225.4 316.9 226.9 316.4 234.4 316.5ZM120.6 318.6 139.4 320.4 143.8 321.9 143.1 323.1 139.4 324.1 120.6 323.7ZM167.5 323.1 168.3 321.9 171.9 320.0 175.6 318.9 179.4 318.5 193.1 319.0 196.5 320.6 197.8 321.9 197.9 323.1 196.4 324.4 193.1 325.3 190.6 324.9 186.9 323.3 174.4 324.3ZM668.4 319.4 666.9 320.6 661.9 321.8 651.9 322.7 650.2 324.4 651.9 326.9 651.9 328.1 649.4 329.2 635.6 330.7 631.9 329.6 631 328.1 632 325.6 631.3 323.1 634.4 321.1 650.6 320.3 658.1 318.9ZM494.6 323.1 491.4 324.4 473.1 327.8 466.9 328.0 463.8 326.9 485.6 322.1 491.9 321.9ZM288.9 326.9 291.9 325.1 296.9 324.5 303 325.6 303.9 326.9 295.6 328.2 291.9 328.0ZM199.3 329.4 203.1 328.7 219.4 329.1 233.1 328.2 243.1 329.7 245.5 333.1 244.9 334.4 240.6 336.3 236.4 336.9 243.1 338.2 245.3 339.4 245.2 340.6 243.1 341.6 239.4 342.0 230.6 340.0 220.8 339.4 218.8 338.1 221.4 336.9 220.8 335.6 217 334.4 214.4 332.4ZM536.5 331.9 538.1 330.3 541.9 328.6 548.1 328.4 550.1 329.4 550.2 331.9 552.9 335.6 550.6 337.9 548.1 338.9 541.9 339.7 538.1 339.5 537.5 338.1 538.2 334.4ZM655.4 334.4 656.7 330.6 659.4 329.6 664.4 329.6 679.4 331.6 679.4 333.2 661.9 334.7ZM120.6 332.2 126.9 332.7 142.1 335.6 141.7 336.9 136.2 338.1 120.6 338.3ZM582.8 334.4 583.4 333.1 586.9 332.6 590.5 333.1 592.4 334.4 591.7 335.6 588.1 335.8 585.3 335.6ZM598.6 336.9 600.6 336.3 603.2 336.9ZM120.6 343.1 124.9 344.4 120.6 344.7ZM601.6 345.6 603.1 343.7 605.6 343.2 608.6 344.4 608.8 345.6 604.4 347.1 602.7 346.9ZM134.1 353.1 134.2 351.9 135.6 350.7 139.4 349.5 156.9 350.6 148.1 353.6 140.6 354.9 136.9 354.8ZM167.4 349.4 171.9 349.3 178.9 350.6 178.1 351.5 175.6 351.7 170 350.6ZM187 353.1 189.1 351.9 198.1 350.8 208.2 351.9 209.2 353.1 195.6 355.3 190.6 354.8ZM662.4 355.6 669.4 352.4 679.4 352.4 679.4 361.8 674.4 361.2 671.5 359.4 662.2 356.9ZM159.1 358.1 159.2 359.4 156 361.9 160.1 364.4 156.9 365.5 149.8 365.6 151.5 366.9 155.6 367.7 158.8 369.4 155.9 371.9 154.9 374.4 148.1 375.5 144.4 375.0 141.9 373.6 139.4 370.6 139.1 369.4 140.6 366.6 145.3 364.4 143.1 362.7 141.9 360.8 141.7 359.4 142.6 358.1 153.1 356.3 155.6 356.7ZM172.5 358.1 179.4 356.9 185.4 358.1 183.5 359.4 180.6 359.8 176.6 359.4ZM626.3 358.1 629.4 357.3 630.9 358.1ZM529.8 361.9 525.6 362.8 524 365.6 520.9 366.9 514.4 367.0 512.4 365.6 512.9 364.4 514.4 363.5 521.9 362.0 524.4 360.4 529.5 360.6ZM198.7 368.1 200.6 366.9 205.6 366.1 220.6 367.5 221.9 368.1 205.6 369.1 199.4 368.8ZM649.6 368.1 650.1 366.9 656.9 366.3 659.1 366.9 655.9 368.1ZM184.1 370.6 188.1 369.1 195.6 369.0 198 369.4 199.4 370.7 213.1 371.7 226.9 371.8 234.7 373.1 237.3 374.4 233.1 375.3 193.1 373.8 184.7 371.9ZM626.3 369.4 626.9 368.5 628.1 368.1 637.3 369.4 635.4 370.6 633.1 370.9 629.7 370.6ZM459.6 374.4 459.8 373.1 464.4 371.5 468.1 371.8 469.1 373.1 468.5 374.4 466.9 374.7ZM651.7 374.4 656.9 373.1 659.8 373.1 660.6 374.4 654.4 375.3ZM669.6 374.4 679.4 373.3 679.4 381.9 674.4 381.6 671.5 380.6 670.5 379.4 671.3 376.9 671 375.6ZM215.5 386.9 216 390.6 215.1 391.9 215.3 394.4 211.9 397.3 206.9 398.2 191.9 398.1 183.1 397.0 180.6 395.2 175.2 393.1 175.3 391.9 173.4 390.6 166.9 388.4 163.1 389.1 160.6 391.6 160.1 393.1 162.7 396.9 157.4 399.4 156.5 403.1 160.8 406.9 153.3 409.4 153.7 410.6 155.6 411.9 155.4 413.1 151.7 415.6 145.6 418.3 144.5 419.4 144.3 423.1 140.6 426.4 130.6 430.1 126.1 433.1 125.1 435.6 120.6 436.9 120.6 404.3 124.4 403.5 130.3 400.6 128.4 398.1 137.6 393.1 137.8 391.9 133.1 389.9 120.6 389.5 120.6 387.7 130.6 387.9 132.2 386.9 131.5 385.6 132.3 384.4 143.9 380.6 145.6 380.9 146.2 381.9 145.5 383.1 146.2 384.4 149.4 385.2 154.4 385.4 162.6 384.4 161.3 381.9 163.1 381.1 186.9 379.6 194.4 378.5 198.9 379.4 198.7 380.6 193.7 381.9 192.4 383.1 204.4 385.1 213.1 385.4ZM196.6 389.4 199.4 390.6 203.1 390.9 206.7 390.6 208.2 389.4 203.1 388.0ZM616.2 381.9 617 380.6 620.6 379.7 623.1 379.7 625.7 380.6 624.5 381.9 620.6 382.9 618.1 382.8ZM392 386.9 396.9 386.3 403.3 388.1 400.6 389.2 398.1 389.1 393.1 388.1ZM631.4 395.6 635.4 394.4 641.9 394.2 647.2 394.4 650.2 395.6 635.6 396.6ZM290.6 399.4 290.6 398.1 291.9 396.6 294.4 395.7 303.1 396.2 305.5 396.9 306.1 398.1 303.1 399.6 296.9 400.5 293.1 400.4ZM668.6 403.1 679.4 402.3 679.4 408.0 673.2 406.9 671.8 404.4ZM648.5 411.9 653.1 407.9 656.9 407.4 660.2 408.1 658.6 409.4 656.9 412.1 650.6 413.0 649.4 412.8ZM242.9 409.4 249.4 409.3 263.3 411.9 256.9 412.8 246.7 411.9 244.1 410.6ZM431.9 413.1 434.4 412.9 436.1 414.4 434.4 414.4ZM509 416.9 509.1 415.6 511.9 414.8 514.4 415.1 516.3 416.9 515.3 418.1 513.1 418.7 510.6 418.1ZM671.2 424.4 679.4 423.7 679.4 425.3ZM294.3 439.4 298.7 436.9 298.8 435.6 300.2 434.4 305.6 433.7 309.8 434.4 312.5 435.6 313.3 440.6 311.9 442.0 301.9 443.1 298.1 442.1 295.2 440.6ZM435.1 444.4 439.4 443.7 443.5 444.4 440.6 446.0 438.1 446.4 435.6 445.7ZM426.3 453.1 430.6 451.4 436.9 451.4 438.3 451.9 439.3 453.1 439 454.4 441.9 455.7 449.5 456.9 450.5 458.1 448.7 459.4 444.4 460.2 428.5 459.4 426.6 458.1ZM391.8 468.1 392.5 466.9 395.6 466.2 398.1 466.6 401.1 468.1 399.7 469.4 395.6 469.9 392.7 469.4ZM421.7 495.6 424.4 495.0 427.9 495.6 426 496.9 424.4 496.9 422.8 496.9ZM551 506.9 554.3 506.9 551.9 507.5ZM372.5 515.6 374.1 514.4 376.9 513.6 383.1 513.1 385.8 514.4 387 516.9 385 518.1 380.6 518.2 374.4 517.2ZM482.3 514.4 488.1 513.2 493.8 514.4 493.3 515.6 488.1 516.2 483.3 515.6ZM375.7 571.9 376 573.1 373.1 574.6 372.4 573.1ZM371.4 576.9 373.1 575.9 376 578.1 376.2 579.4 373.8 579.4Z"/>
<path fill="#ff0000" d="M360.3 273.1 363.1 271.2 364.4 271.4 365 273.1 363.3 274.4 361.9 274.5ZM412.1 299.4 413.1 298.0 415.6 297.9 416.4 299.4 416.1 300.6 417.1 301.9 423.7 305.6 421.9 306.7 415.6 305.8 412.2 304.4 411.1 303.1ZM577.4 306.9 579.4 305.7 580.6 305.8 582.4 306.9 582.8 308.1 581.9 309.5 579.4 309.8 577.5 308.1ZM406.7 311.9 408.4 310.6 413.1 309.0 421.9 308.7 425.5 310.6 429.5 314.4 430.2 315.6 430.1 316.9 426.9 318.9 419.4 319.6 411.9 321.9 407.3 319.4 408.2 318.1 410.7 316.9 410.9 315.6 407.1 313.1ZM273.1 311.9 273.8 310.6 276.9 310.0 280 310.6 281 311.9 279.4 313.1 276.9 313.3ZM353.6 313.1 353.7 311.9 358.1 310.7 361.9 310.8 364.6 311.9 364.1 313.1 361.9 313.9 356.9 314.0ZM365.8 323.1 364.4 324.6 361.9 325.0 350.5 323.1 363.1 321.7 364.6 321.9ZM411.9 321.9 422.3 324.4 423.1 325.6 422.2 328.1 420.2 329.4 420.6 330.6 425.4 331.9 425.7 334.4 434.1 339.4 434.8 340.6 427 345.6 428.2 348.1 424 351.9 419.4 352.8 414.4 352.6 408 350.6 407.2 349.4 407.5 346.9 411 344.4 410 339.4 412.1 336.9 411.4 334.4 414.7 331.9 414.1 330.6 410.6 329.4 409.1 328.1 409.1 326.9ZM636.5 326.9 638.1 324.5 640.6 324.1 644.4 325.2 645.9 326.9 639.4 328.0ZM357.9 329.4 359.5 328.1 363.1 327.0 365.1 328.1 361.9 329.9ZM120.6 333.7 125.8 334.4 128.2 335.6 120.6 336.9ZM339.2 343.1 334.5 345.6 331.9 348.2 324.8 348.1 323.6 346.9 326.6 343.1 331.9 341.6 336.9 341.4 338.5 341.9ZM290.3 349.4 293.1 348.6 295.6 348.7 297.7 349.4 298.6 350.6 293.1 350.8ZM674.3 356.9 679.4 355.8 679.4 357.5ZM437.4 361.9 436 363.1 424.8 368.1 406.3 370.6 406.9 371.0 407.6 374.4 409.4 375.6 409.4 376.9 406.1 379.4 396.9 379.6 395 379.4 392.9 378.1 394.9 376.9 401.1 375.6 403 374.4 400.4 373.1 400.5 371.9 405.3 370.6 406.1 368.1 408.1 367.2 420.6 365.1 422.2 364.4 423.5 361.9 427 360.6 434.4 360.3 436.1 360.6ZM173.2 383.1 174.5 381.9 181.3 381.9 184.1 383.1 185.2 384.4 192.3 386.9 191.2 388.1 190.9 390.6 189.4 391.8 184.4 392.0 174.9 386.9 175 384.4ZM154.4 392.3 155.5 394.4 154.4 395.6 150.6 397.0 149.8 398.1 149.7 400.6 146.9 401.8 140.3 401.9 139.4 405.6 137.1 406.9 144.4 408.6 149.4 411.9 149.8 413.1 146.9 415.3 141.1 416.9 139.4 418.1 142.2 421.9 141.9 423.1 139.4 424.9 121.9 433.1 121.6 434.4 120.6 434.8 120.6 423.8 121.7 423.1 122.2 421.9 120.6 421.5 120.6 409.9 125.6 409.6 131.6 408.1 132.7 406.9 130.6 405.9 129.4 404.4 131.9 402.7 138.1 401.7 138.8 400.6 135.7 398.1 136.5 396.9 144.6 393.1 145.4 391.9 145.1 390.6 146.3 389.4 149.4 389.5ZM193.5 395.6 195.6 394.0 199.4 393.4 205.6 394.2 208.3 395.6 206.1 396.9 200.6 397.1 194.9 396.9ZM144.3 406.9 144.7 405.6 146.9 405.2 152.6 405.6 150.6 406.9 145.6 407.3Z"/>
<path fill="#cd0000" d="M419.6 341.9 421.9 339.1 425.4 339.4 426.2 340.6 425.7 341.9 423.1 342.7 420.6 342.5ZM416.2 346.9 418.1 345.1 419.4 344.9 421.7 346.9 421.8 348.1 420.6 349.5 418.1 349.9 416 348.1ZM120.6 416.7 125 416.9 129.5 418.1 128.1 418.7 120.6 418.9ZM129.6 423.1 129.8 421.9 131.9 420.2 135.6 420.6 138.5 421.9 138.4 423.1 134.4 424.5 131.5 424.4ZM120.6 430.9 120.6 427.0 125.6 427.2 127.3 428.1 125.6 429.8Z"/>
</g>
<g fill="none" stroke="#87ceeb" stroke-width="1.3" stroke-linejoin="round"><polyline points="392.0 384.0 400.0 380.0 408.0 376.0 414.0 366.0 420.0 356.0 432.0 353.5 446.0 353.0 456.0 360.0 458.0 374.0 454.0 388.0 453.0 405.0 462.0 404.0 472.0 401.0 486.0 398.0 500.0 394.0 514.0 387.0 528.0 379.5"/><polyline points="330.0 421.0 345.0 428.0 352.0 440.0 356.0 455.0 362.0 466.0 372.0 470.0 384.0 466.0 396.0 458.0 408.0 452.0 420.0 447.0 430.0 442.0 442.0 440.0 452.0 437.0 462.0 440.0 472.0 445.0 482.0 449.0 492.0 452.0 502.0 446.0 512.0 440.0 524.0 436.0 536.0 434.0 548.0 436.0 556.0 440.0"/></g>
<g fill="none" stroke="#b3b3b3" stroke-width="2.1" stroke-linejoin="round" stroke-linecap="round">
<polyline points="176.2 407.5 178.8 403.8 185.0 402.0 192.5 403.0 200.0 401.2 210.0 400.0 220.0 398.0 232.5 393.8 245.0 392.0 258.0 391.2 267.5 392.5"/>
<polyline points="267.5 392.5 275.0 390.0 280.0 386.2 277.5 377.5 275.0 373.8 285.0 370.0 295.0 366.2"/>
<polyline points="295.0 366.2 296.2 357.5 305.0 352.5 317.5 347.5 325.0 342.5 323.8 336.2 323.0 332.0"/>
<polyline points="267.5 392.5 268.8 402.5 272.5 412.5 282.5 420.0 300.0 425.0 315.0 426.2 325.0 430.0 336.2 427.5"/>
<polyline points="295.0 366.2 310.0 371.2 330.0 372.5 335.0 367.5 350.0 368.8 365.0 373.8 380.0 382.5 386.2 392.5 383.8 400.0 378.8 407.5 380.0 416.2 372.5 420.0"/>
<polyline points="336.2 427.5 338.8 418.8 343.8 412.5 352.5 416.2 360.0 422.5 367.5 418.8 372.5 420.0"/>
<polyline points="336.2 427.5 345.0 432.5 350.0 440.0 351.2 451.2 350.0 457.5 345.0 462.5 343.0 466.0"/>
<polyline points="351.0 458.0 355.0 460.0 360.0 462.5 362.5 467.5 370.0 472.5 375.0 480.0 378.8 483.8 385.0 482.5 387.5 475.0 390.0 470.0 395.0 465.0 400.0 462.5 405.0 465.0 407.5 461.2"/>
<polyline points="336.2 338.8 340.0 345.0 346.2 352.5 360.0 351.2 358.8 360.0 372.5 368.8 385.0 370.0 390.0 365.0 396.2 365.6 395.6 370.0 390.6 373.8 391.2 378.8 396.2 382.5 401.9 383.8"/>
<polyline points="401.9 383.8 409.4 382.5 413.1 377.5 411.9 372.5 413.8 367.5 417.5 365.6 420.6 367.5 420.0 371.2 417.5 375.0 422.5 376.9 427.5 380.0 435.0 378.1 441.2 375.0 445.0 370.0 451.2 366.2 458.8 364.4 466.2 361.2 470.0 357.5 476.2 356.2 485.0 355.0 483.8 348.8 488.8 341.2 497.5 342.5 510.0 341.2 515.0 337.5 520.0 340.0 522.5 343.8 531.2 340.0 533.8 338.8 538.8 341.2 551.2 336.2 561.2 333.8 569.4 329.4"/>
<polyline points="531.2 340.0 532.5 347.5 528.8 348.8 530.0 352.5 535.0 358.8"/>
<polyline points="401.9 383.8 406.2 388.8 408.8 395.0 412.5 398.1 417.5 401.2 418.8 405.0 417.5 411.2 416.2 416.2 411.2 418.8 412.5 422.5 421.2 425.0 430.0 428.8"/>
<polyline points="422.5 376.9 418.1 386.2 417.5 392.5 421.2 396.2 420.0 402.5 418.8 405.0"/>
<polyline points="420.0 402.5 430.0 403.8 436.2 400.6 435.0 393.8 430.0 390.0 422.5 388.1 418.1 386.2"/>
<polyline points="458.8 364.4 455.0 371.2 452.5 378.8 455.0 382.5 453.8 390.0 455.0 397.5 452.5 405.0 453.8 412.5 458.8 420.0 460.0 425.0 455.0 430.0"/>
<polyline points="455.0 404.0 460.0 405.0 466.2 402.5 472.5 401.2 481.2 400.0 485.0 393.8 496.2 395.0"/>
<polyline points="485.0 355.0 488.8 361.2 485.0 367.5 481.2 373.8 483.8 382.5 481.2 390.0 485.0 393.8"/>
<polyline points="498.8 356.2 505.0 351.9 512.5 353.8 515.0 358.8 510.0 361.2 501.2 363.8 497.5 360.0 498.8 356.2"/>
<polyline points="515.0 358.8 517.5 365.0 516.2 370.0"/>
<polyline points="510.0 361.2 511.2 368.8 516.0 371.0"/>
<polyline points="496.2 395.0 502.5 386.2 510.0 380.0 518.8 375.0 520.0 376.5"/>
<polyline points="496.2 395.0 492.5 403.8 498.8 407.5 507.5 405.0 515.0 406.5 522.0 404.0 530.0 405.0"/>
<polyline points="515.0 406.5 520.0 413.8 520.6 421.2 528.0 424.4 528.8 428.8 526.9 436.2 533.8 440.0 542.5 441.2 550.0 435.0 552.5 432.5"/>
<polyline points="526.9 436.2 530.0 445.0 526.2 450.0 518.8 453.8 521.2 460.0 525.0 463.8 528.8 470.0 536.2 472.5 541.2 475.0 547.0 475.0"/>
<polyline points="492.5 403.8 497.5 415.0 492.5 422.5 500.0 428.8 502.5 441.2 508.8 448.8 518.8 453.8"/>
<polyline points="518.8 453.8 516.2 465.0 511.2 470.0 507.5 477.5 503.8 487.5 502.5 492.5 507.5 497.5 511.2 505.0 513.8 507.5"/>
<polyline points="455.0 430.0 462.0 428.0 470.0 430.0 480.0 427.0 487.0 424.0 492.5 422.5"/>
<polyline points="430.0 428.8 432.5 427.5 445.0 427.5 450.0 423.8 455.0 430.0"/>
<polyline points="448.8 428.8 450.0 436.2 443.8 438.8 435.0 443.8 436.2 448.8 441.2 452.5 442.5 457.5 440.0 462.5 433.8 458.8 427.5 457.5 420.0 461.2 412.5 466.2 407.5 461.2 410.0 452.5 407.5 445.0 415.0 446.2 420.0 442.5 428.0 440.0 435.0 443.8"/>
<polyline points="441.2 452.5 453.8 448.8 463.8 450.0 473.8 451.2 480.0 450.0 482.5 456.2 485.0 461.2 482.5 470.0 485.0 478.8 483.8 487.5 475.0 491.2 467.5 492.5 463.8 497.5 461.2 505.0 462.5 512.5 456.2 518.8 453.0 524.0"/>
<polyline points="482.5 456.2 490.0 453.8 497.5 450.0 500.0 442.5 497.5 435.0 501.2 427.5"/>
<polyline points="497.5 450.0 507.5 450.0 512.0 451.0 518.8 453.8"/>
<polyline points="483.8 487.5 488.8 492.5 495.0 495.0 501.2 493.8 502.5 492.5"/>
<polyline points="440.0 462.5 442.5 470.0 441.2 475.0 445.0 481.2 455.0 481.2 458.8 486.2 457.5 492.5 462.5 495.0 467.5 492.5"/>
<polyline points="445.0 481.2 435.0 483.8 427.5 487.5 420.0 490.0 412.5 495.0 405.0 497.5"/>
<polyline points="392.5 472.5 395.0 478.8 400.0 487.5 400.0 495.0 405.0 497.5 412.5 506.2 411.0 509.5"/>
<polyline points="372.5 420.0 380.0 423.0 388.0 421.0 397.5 425.0 407.5 423.8 415.0 427.5 421.2 425.0"/>
<polyline points="421.2 425.0 424.0 432.0 420.0 442.5"/>
<polyline points="551.2 241.2 549.4 246.2 553.8 249.4 560.0 250.0 562.5 256.2 566.2 259.4 575.0 259.4 582.5 256.9 587.5 257.5 591.2 261.2 587.5 267.5 585.0 270.0 583.8 276.2 580.0 280.0 577.5 285.0 572.5 287.5 563.8 291.2 560.0 295.0 562.5 298.8 567.5 299.4"/>
<polyline points="567.5 299.4 563.8 303.1 553.8 306.9 556.2 311.2 556.9 318.8 561.2 321.9 565.0 320.0 568.1 325.0 569.4 329.4"/>
<polyline points="567.5 299.4 572.5 303.8 575.0 308.8 581.2 311.2 587.5 311.2 595.0 314.4 600.0 316.2 605.0 321.2 611.2 320.0 615.0 326.2 620.0 328.8 622.5 325.0 631.2 326.2 635.0 330.0 637.0 333.0"/>
<polyline points="569.4 329.4 578.8 331.2 582.5 336.2 585.0 342.5 588.8 350.0 590.0 352.0"/>
</g>
<polyline points="528.8 270.0 536.2 257.5 543.8 251.2 537.5 246.9 541.9 243.8 551.2 240.6 566.9 240.0 575.0 241.9 585.0 242.5 594.4 246.2 595.0 252.5 596.2 258.0 601.9 265.0 606.2 272.5 612.5 274.4 619.4 274.4 629.4 280.0 631.2 282.5 636.2 291.2 640.6 291.9 651.2 290.6 655.0 288.0 660.0 286.0" fill="none" stroke="#87ceeb" stroke-width="1"/>
<polyline points="575.6 361.9 570.0 361.2 562.5 363.1 556.2 365.0 550.0 369.4 551.2 363.8 557.5 356.2 555.0 351.2 548.8 351.9 542.5 356.2 536.2 360.0 530.0 363.8 520.0 368.1 517.5 368.5 517.0 372.0 518.5 375.0 520.0 376.9 527.5 376.2 530.0 380.0 528.8 383.8 533.8 385.0 540.0 381.2 543.8 378.1 550.0 381.2 560.0 382.5 560.6 385.0 557.5 388.1 551.2 388.1 545.0 391.9 538.8 395.0 533.8 401.2 530.0 405.0 536.2 408.8 541.2 413.8 543.8 420.0 545.0 422.5 550.0 428.8 553.8 432.5 557.0 440.5 551.0 443.5 546.0 445.3 553.0 447.3 558.5 449.5 553.5 456.0 550.0 462.5 546.2 467.5 541.2 473.8 536.2 477.5 533.8 485.0 528.8 491.2 521.2 497.5 515.0 503.0 507.5 508.8 500.0 512.5 490.0 514.4 485.0 518.8 480.0 518.1 472.5 521.9 461.2 523.8 453.8 525.6 451.2 528.8 454.4 533.1 450.0 534.4 446.2 531.2 446.9 526.2 445.0 523.1 435.0 521.5" fill="none" stroke="#00008b" stroke-width="1.5" stroke-linejoin="round"/>
<polyline points="559.4 450.4 554.4 456.9 550.9 463.4 547.1 468.4 542.1 474.6 537.1 478.4 534.6 485.9 529.6 492.1 522.1 498.4 515.9 503.9 508.4 509.6 500.9 513.4 490.9 515.3 485.9 519.6 480.9 519.0 473.4 522.8 462.1 524.6 454.6 526.5 452.1 529.6" fill="none" stroke="#00008b" stroke-width="2.4" stroke-dasharray="1.2 2.6 2 1.8 0.9 3 1.6 2.2"/>
<polygon points="436.2 545.0 439.0 540.5 445.0 538.0 456.2 537.5 457.5 541.2 453.8 548.8 445.0 553.1 437.5 551.2" fill="none" stroke="#00008b" stroke-width="1.1"/>
<polygon points="551.2 490.6 555.0 493.1 553.8 501.2 550.0 510.0 546.2 516.2 544.4 520.0 542.5 516.9 538.8 510.0 539.4 505.0 543.8 497.5 547.5 492.5" fill="none" stroke="#00008b" stroke-width="1.1"/>
<polyline points="435.0 521.5 432.0 523.5 425.0 522.5 420.0 518.8 417.5 513.5 412.5 510.0 406.2 508.1 401.2 512.5 395.0 514.4 387.5 515.6 381.2 514.4 375.0 516.2 375.6 521.2 376.2 526.9 370.6 526.2 370.0 521.2 365.0 523.1 360.0 521.2 353.8 517.5 355.0 511.2 351.2 508.8 348.8 501.9 340.0 501.2 337.5 497.5 340.0 491.2 347.5 485.0 349.4 477.5 348.1 471.2 343.1 468.8 341.9 463.1 337.5 461.9 332.5 466.2 320.0 466.9 310.0 470.0 306.2 473.8 300.0 475.6 290.0 476.2 289.4 471.9 286.2 470.6 283.8 466.2 275.0 464.4 267.5 465.0 264.4 468.8 263.1 473.1 260.0 471.9 260.6 466.9 257.5 465.6 245.0 467.5 235.0 466.9 227.5 461.2 221.2 458.8 218.8 455.0 214.4 455.6 209.4 451.9 202.5 446.9 196.9 445.6 193.1 448.8 191.2 446.2 185.0 443.1 180.0 440.0 173.8 439.4 171.9 435.0 169.4 431.2 168.8 425.6 175.0 424.4 173.8 420.0 170.6 415.0 171.9 409.4 166.9 406.9 163.8 401.2 152.5 397.5 146.9 395.0 145.0 390.6 138.8 386.9 133.1 385.0 138.1 381.9 136.9 376.2 133.8 372.5 126.9 372.5 126.9 369.4 124.4 365.6 126.9 363.1 128.1 359.4 133.8 357.5 136.2 355.0 141.9 354.4 144.4 356.9 150.0 356.2 153.8 350.6 162.5 350.0 175.0 345.0 184.4 341.2 183.8 335.6 188.1 331.2 186.2 325.0 185.0 320.0 182.0 317.5 181.5 316.0 197.5 312.5 203.0 313.5 202.5 310.0 209.5 295.5 220.0 297.5 225.6 298.1 230.6 295.6 232.5 295.0 231.2 288.1 233.8 285.0 240.6 283.8 244.4 278.5 251.9 278.5 253.1 282.5 260.0 287.5 267.5 289.0 273.8 291.9 276.9 296.2 279.8 299.4 279.4 306.2 276.9 309.4 278.8 313.1 287.5 314.4 300.0 315.0 307.5 316.9 313.8 320.0 320.0 323.8 323.8 330.6 328.8 335.0 345.0 335.6 357.5 336.9 367.5 335.6 375.0 337.5 378.8 340.0 390.0 342.5 400.0 343.8 403.8 345.0 411.2 341.9 420.0 339.4 432.5 337.5 445.0 336.2 452.5 333.8 457.5 329.4 465.0 326.2 462.5 320.5 463.1 315.6 467.5 314.4 473.8 316.2 481.2 316.9 489.4 311.9 497.5 311.0 502.5 308.8 506.2 304.0 512.5 301.9 520.0 300.0 532.5 301.2 537.5 300.0 535.0 295.0 527.5 289.4 520.0 288.6 513.8 291.9 507.5 290.0 501.2 291.5 498.1 288.5 508.8 271.9 520.0 273.4 525.0 270.0 528.8 270.0" fill="none" stroke="#000" stroke-width="3.6" stroke-linejoin="round" stroke-linecap="round"/>
<polyline points="660.0 284.4 671.9 284.4 671.9 286.2 668.0 288.0 669.4 291.2 665.6 295.0 662.5 302.5 658.8 307.5 653.8 315.0 643.8 312.5 636.2 315.6 634.4 317.5 638.0 323.8 638.8 330.0 636.2 335.0 630.0 333.8 625.0 334.4 621.2 339.5 612.5 343.1 611.9 346.9 607.5 345.0 598.8 343.8 595.0 347.5 587.5 353.1 577.5 357.5 575.6 361.9" fill="none" stroke="#000" stroke-width="3.6" stroke-linejoin="round" stroke-linecap="round"/>
<polyline points="552.5 241.9 566.9 240.0" fill="none" stroke="#000" stroke-width="3.6" stroke-linecap="round"/>
<polyline points="586.2 242.5 594.4 246.2" fill="none" stroke="#000" stroke-width="3.6" stroke-linecap="round"/>
<polyline points="596.2 258.0 601.9 265.0" fill="none" stroke="#000" stroke-width="3.6" stroke-linecap="round"/>
<polyline points="619.4 274.4 629.4 280.0" fill="none" stroke="#000" stroke-width="3.6" stroke-linecap="round"/>
<polyline points="640.6 291.9 651.2 290.6" fill="none" stroke="#000" stroke-width="3.6" stroke-linecap="round"/>
<polyline points="562.5 495.6 561.2 504.4" fill="none" stroke="#000" stroke-width="3.6" stroke-linecap="round"/>
<polyline points="555.0 522.5 549.4 528.8" fill="none" stroke="#000" stroke-width="3.6" stroke-linecap="round"/>
<polyline points="537.5 546.2 533.1 554.4" fill="none" stroke="#000" stroke-width="3.6" stroke-linecap="round"/>
<polyline points="441.9 570.6 446.9 579.4" fill="none" stroke="#000" stroke-width="3.6" stroke-linecap="round"/>
<polyline points="527.0 572.0 527.0 580.5" fill="none" stroke="#000" stroke-width="3.6" stroke-linecap="round"/>
<path d="M502.0 528.0h1.6v1.6h-1.6zM509.4 531.2h1.6v1.6h-1.6zM475.6 541.9h1.6v1.6h-1.6zM483.0 544.4h1.6v1.6h-1.6zM508.0 570.0h1.6v1.6h-1.6zM517.5 580.0h1.6v1.6h-1.6zM569.4 485.6h1.6v1.6h-1.6zM567.8 487.0h1.6v1.6h-1.6zM555.6 488.8h1.6v1.6h-1.6zM551.0 513.5h1.6v1.6h-1.6zM552.0 519.0h1.6v1.6h-1.6zM546.0 522.0h1.6v1.6h-1.6zM441.0 527.5h1.6v1.6h-1.6zM559.5 444.5h1.6v1.6h-1.6zM561.5 446.0h1.6v1.6h-1.6zM560.0 447.8h1.6v1.6h-1.6zM562.5 449.0h1.6v1.6h-1.6zM560.5 451.0h1.6v1.6h-1.6zM558.5 452.5h1.6v1.6h-1.6zM557.0 455.0h1.6v1.6h-1.6zM532.5 505.0h1.6v1.6h-1.6zM533.8 506.5h1.6v1.6h-1.6zM533.0 508.2h1.6v1.6h-1.6zM535.0 504.5h1.6v1.6h-1.6zM534.5 509.0h1.6v1.6h-1.6zM464.3 569.6h1.6v1.6h-1.6zM466.2 570.5h1.6v1.6h-1.6zM469.8 562.9h1.6v1.6h-1.6zM461.2 573.7h1.6v1.6h-1.6zM464.6 565.3h1.6v1.6h-1.6zM474.9 568.6h1.6v1.6h-1.6zM472.7 568.7h1.6v1.6h-1.6zM469.9 564.1h1.6v1.6h-1.6zM469.9 574.2h1.6v1.6h-1.6zM468.3 572.4h1.6v1.6h-1.6zM470.4 562.9h1.6v1.6h-1.6zM471.6 570.3h1.6v1.6h-1.6zM465.2 562.4h1.6v1.6h-1.6z" fill="#00008b"/>
<ellipse cx="487" cy="574.5" rx="5.6" ry="2.6" transform="rotate(-24 487 574.5)" fill="none" stroke="#00008b" stroke-width="1.1"/>
<rect x="573.3" y="452.5" width="104.0" height="127.8" fill="#fff"/>
<defs><clipPath id="ic"><rect x="573.3" y="452.5" width="104.0" height="127.8"/></clipPath></defs>
<g clip-path="url(#ic)">
<path d="M573 452 L626 452 L626 453 L620 455 L617 457.5 L612 458 L608 459.5 L603 459 L599.5 461 L598.5 464 L599.7 468 L597 470 L593.5 468 L592.5 464 L593 460.5 L588 459.8 L583 461 L578 460.5 L573 458 Z" fill="#00bfff" stroke="#00008b" stroke-width="1.6" stroke-linejoin="round"/>
<path d="M582 452.7 L593.6 452.7 L594.5 456 L592 459 L586 459.5 L582.5 457.5 Z" fill="#ffaa00"/>
<path d="M608.5 452.7 L613.7 452.7 L614 456 L611 457.6 L608.5 456.5 Z" fill="#ffaa00"/>
<path d="M619.5 452.7 L623 452.7 L622 454 L620 454 Z" fill="#ffaa00"/>
<path d="M573.5 453 L578 453.5 L577 457 L573.5 456.5 Z" fill="#d4f5ff"/>
<path d="M592.8 462 L598 457.5 L605 454" fill="none" stroke="#b4b4b4" stroke-width="2.2"/>
<path d="M594.5 469.8 L599.5 469" fill="none" stroke="#b4b4b4" stroke-width="2"/>
<path d="M619 456.5 L624 455.5" fill="none" stroke="#b4b4b4" stroke-width="2.4" stroke-linecap="round"/>
<path d="M578 453 L582 457 M607 453.5 L608 458" fill="none" stroke="#909090" stroke-width="1.2"/>
<path d="M574 457.8 Q577.5 461.8 583 461.4" fill="none" stroke="#000" stroke-width="3.4" stroke-linecap="round"/>
<path d="M660 452.7 L669 452.7 L668.5 457 L666 459.5 L663.5 457 Z" fill="#ffaa00" stroke="#00008b" stroke-width="0.9"/>
<path d="M586.2 477.5 Q586.5 473.5 591 471.8 L597 471.2 L601.5 471.6 Q601.8 475 598.5 478.8 Q595 482.5 591.5 483 Q586 482.6 586.2 477.5 Z" fill="#00bfff" stroke="#00008b" stroke-width="1.5"/>
<path d="M587 477.5 Q587.2 474 591.2 472.6 L595.5 472 L595 478 L593.5 482 L591.5 482.2 Q586.8 481.8 587 477.5 Z" fill="#d4f5ff"/>
<circle cx="590.3" cy="477.3" r="2.7" fill="#d4f5ff" stroke="#7fa8d8" stroke-width="0.5"/><circle cx="590.3" cy="477.3" r="1.5" fill="#ffffc8" stroke="#7fa8d8" stroke-width="0.4"/>
<ellipse cx="622.5" cy="497.8" rx="4.3" ry="2" transform="rotate(-22 622.5 497.8)" fill="#fff" stroke="#00008b" stroke-width="1"/>
<path d="M633.0 464.6h1.5v1.5h-1.5zM637.9 466.4h1.5v1.5h-1.5zM589.2 464.6h1.5v1.5h-1.5zM637.3 494.4h1.5v1.5h-1.5zM643.8 501.3h1.5v1.5h-1.5zM629.5 509.2h1.5v1.5h-1.5zM614.6 474.2h1.5v1.5h-1.5zM619.5 476.0h1.5v1.5h-1.5zM589.5 534.0h1.5v1.5h-1.5zM605.0 489.0h1.5v1.5h-1.5zM602.5 497.5h1.5v1.5h-1.5zM606.9 490.9h1.5v1.5h-1.5zM609.9 490.2h1.5v1.5h-1.5zM608.8 492.8h1.5v1.5h-1.5zM604.5 494.1h1.5v1.5h-1.5zM604.3 493.4h1.5v1.5h-1.5zM607.8 496.9h1.5v1.5h-1.5zM605.1 491.5h1.5v1.5h-1.5zM609.6 498.0h1.5v1.5h-1.5zM609.2 493.1h1.5v1.5h-1.5zM611.7 492.1h1.5v1.5h-1.5zM606.8 496.8h1.5v1.5h-1.5zM605.6 494.7h1.5v1.5h-1.5zM625.4 528.0h1.5v1.5h-1.5zM624.5 523.0h1.5v1.5h-1.5zM625.8 528.8h1.5v1.5h-1.5zM622.1 531.4h1.5v1.5h-1.5zM623.5 526.8h1.5v1.5h-1.5zM626.9 533.2h1.5v1.5h-1.5zM621.4 531.2h1.5v1.5h-1.5zM624.3 536.0h1.5v1.5h-1.5zM626.3 526.6h1.5v1.5h-1.5zM623.2 534.1h1.5v1.5h-1.5zM620.5 529.8h1.5v1.5h-1.5zM619.4 532.7h1.5v1.5h-1.5zM626.6 531.2h1.5v1.5h-1.5zM627.8 527.0h1.5v1.5h-1.5zM626.0 531.5h1.5v1.5h-1.5zM624.8 529.3h1.5v1.5h-1.5zM623.7 532.6h1.5v1.5h-1.5zM619.6 533.2h1.5v1.5h-1.5zM627.2 526.6h1.5v1.5h-1.5zM622.9 532.7h1.5v1.5h-1.5zM619.2 529.4h1.5v1.5h-1.5zM620.3 526.0h1.5v1.5h-1.5zM622.9 535.9h1.5v1.5h-1.5zM619.8 529.2h1.5v1.5h-1.5zM624.5 536.1h1.5v1.5h-1.5zM627.2 535.8h1.5v1.5h-1.5zM621.8 528.6h1.5v1.5h-1.5zM622.6 536.1h1.5v1.5h-1.5zM620.8 525.7h1.5v1.5h-1.5zM621.3 529.8h1.5v1.5h-1.5zM624.9 526.2h1.5v1.5h-1.5zM622.7 531.1h1.5v1.5h-1.5zM628.5 533.0h1.5v1.5h-1.5zM624.2 531.9h1.5v1.5h-1.5zM637.0 526.1h1.5v1.5h-1.5zM641.8 532.6h1.5v1.5h-1.5zM641.4 532.9h1.5v1.5h-1.5zM633.1 530.3h1.5v1.5h-1.5zM629.0 533.4h1.5v1.5h-1.5zM629.8 528.5h1.5v1.5h-1.5zM631.7 527.0h1.5v1.5h-1.5zM628.5 530.8h1.5v1.5h-1.5zM636.2 527.2h1.5v1.5h-1.5zM630.8 530.2h1.5v1.5h-1.5zM632.2 527.7h1.5v1.5h-1.5zM634.4 530.9h1.5v1.5h-1.5zM632.1 529.1h1.5v1.5h-1.5zM639.6 526.8h1.5v1.5h-1.5zM634.8 527.4h1.5v1.5h-1.5zM634.9 526.2h1.5v1.5h-1.5zM636.3 535.6h1.5v1.5h-1.5zM641.1 531.9h1.5v1.5h-1.5zM631.0 530.4h1.5v1.5h-1.5zM630.2 534.6h1.5v1.5h-1.5zM636.0 533.7h1.5v1.5h-1.5zM631.8 528.7h1.5v1.5h-1.5zM641.1 533.0h1.5v1.5h-1.5zM640.4 532.5h1.5v1.5h-1.5zM630.7 531.9h1.5v1.5h-1.5zM631.9 526.8h1.5v1.5h-1.5zM623.4 549.2h1.5v1.5h-1.5zM632.8 540.3h1.5v1.5h-1.5zM632.3 539.5h1.5v1.5h-1.5zM620.0 544.7h1.5v1.5h-1.5zM619.5 544.7h1.5v1.5h-1.5zM630.3 548.0h1.5v1.5h-1.5zM631.2 541.7h1.5v1.5h-1.5zM630.2 546.7h1.5v1.5h-1.5zM620.5 550.4h1.5v1.5h-1.5zM634.1 544.2h1.5v1.5h-1.5zM629.8 542.5h1.5v1.5h-1.5zM622.7 550.9h1.5v1.5h-1.5zM625.2 549.6h1.5v1.5h-1.5zM632.7 539.7h1.5v1.5h-1.5zM627.1 550.5h1.5v1.5h-1.5zM627.5 539.5h1.5v1.5h-1.5zM622.4 551.6h1.5v1.5h-1.5zM624.0 546.9h1.5v1.5h-1.5zM634.2 542.3h1.5v1.5h-1.5zM629.0 549.3h1.5v1.5h-1.5zM627.2 549.5h1.5v1.5h-1.5zM629.4 539.1h1.5v1.5h-1.5zM620.9 545.1h1.5v1.5h-1.5zM622.5 548.2h1.5v1.5h-1.5zM621.8 546.3h1.5v1.5h-1.5zM623.5 545.9h1.5v1.5h-1.5zM608.8 548.4h1.5v1.5h-1.5zM605.4 549.5h1.5v1.5h-1.5zM606.1 545.3h1.5v1.5h-1.5zM605.3 540.2h1.5v1.5h-1.5zM603.9 542.3h1.5v1.5h-1.5zM599.0 546.6h1.5v1.5h-1.5zM610.9 544.3h1.5v1.5h-1.5zM602.3 546.2h1.5v1.5h-1.5zM607.9 547.4h1.5v1.5h-1.5zM597.8 547.8h1.5v1.5h-1.5zM600.1 544.3h1.5v1.5h-1.5zM611.8 543.5h1.5v1.5h-1.5zM608.0 547.2h1.5v1.5h-1.5zM614.6 542.1h1.5v1.5h-1.5zM608.4 544.4h1.5v1.5h-1.5zM606.8 546.8h1.5v1.5h-1.5zM605.1 545.6h1.5v1.5h-1.5zM606.7 549.4h1.5v1.5h-1.5zM611.2 547.5h1.5v1.5h-1.5zM608.4 548.9h1.5v1.5h-1.5zM612.1 560.1h1.5v1.5h-1.5zM609.8 562.5h1.5v1.5h-1.5zM609.6 560.9h1.5v1.5h-1.5zM609.6 564.4h1.5v1.5h-1.5zM611.9 566.2h1.5v1.5h-1.5zM609.9 564.7h1.5v1.5h-1.5zM611.5 560.1h1.5v1.5h-1.5zM610.7 562.9h1.5v1.5h-1.5z" fill="#00008b"/>
<path d="M670.6 460.2L664.5 468.1" stroke="#000" stroke-width="3.2" stroke-linecap="round"/>
<path d="M658.3 476.9L653.6 485.6" stroke="#000" stroke-width="3.2" stroke-linecap="round"/>
<path d="M652.2 495.2L652.6 505.7" stroke="#000" stroke-width="3.2" stroke-linecap="round"/>
<path d="M651.9 521.5L648.7 529.3" stroke="#000" stroke-width="3.2" stroke-linecap="round"/>
<path d="M635.6 546.8L629.1 553.8" stroke="#000" stroke-width="3.2" stroke-linecap="round"/>
<path d="M613.7 573.1L605.9 575.3" stroke="#000" stroke-width="3.2" stroke-linecap="round"/>
<path d="M583.6 549.5L584.3 559.1" stroke="#000" stroke-width="3.2" stroke-linecap="round"/>
<path d="M597.1 518L595.9 525.8" stroke="#000" stroke-width="3.2" stroke-linecap="round"/>
<path d="M588.4 492.6L593.6 500.5" stroke="#000" stroke-width="3.2" stroke-linecap="round"/>
</g>
<rect x="573.3" y="452.5" width="104.0" height="127.8" fill="none" stroke="#000" stroke-width="1"/>
<text x="627.4" y="566.1" style="font-size:5.5px;font-weight:bold">South China</text>
<text x="627.4" y="572.0" style="font-size:5.5px;font-weight:bold">Sea Islands</text>
<text x="627.4" y="578.0" style="font-size:5.5px;font-weight:bold" textLength="47.6" lengthAdjust="spacingAndGlyphs">Scale 1:28 000 000</text>
<rect x="120.3" y="217.8" width="559.8" height="364.5" fill="none" stroke="#000" stroke-width="1.4"/>
<path d="M182.2 217.8 v-12.5 M182.2 582.3 v12.5 M271.1 217.8 v-12.5 M271.1 582.3 v12.5 M360.0 217.8 v-12.5 M360.0 582.3 v12.5 M448.9 217.8 v-12.5 M448.9 582.3 v12.5 M537.7 217.8 v-12.5 M537.7 582.3 v12.5 M626.6 217.8 v-12.5 M626.6 582.3 v12.5 M120.3 537.7 h-13 M680.1 537.7 h13 M120.3 448.8 h-13 M680.1 448.8 h13 M120.3 360.0 h-13 M680.1 360.0 h13 M120.3 271.1 h-13 M680.1 271.1 h13" stroke="#000" stroke-width="1.3" fill="none"/>
<path d="M120.3 582.1 h-6.5 M680.1 582.1 h6.5 M120.3 493.3 h-6.5 M680.1 493.3 h6.5 M120.3 404.4 h-6.5 M680.1 404.4 h6.5 M120.3 315.5 h-6.5 M680.1 315.5 h6.5 M120.3 226.7 h-6.5 M680.1 226.7 h6.5" stroke="#000" stroke-width="0.9" fill="none"/>
<text class="ax" x="182.2" y="618.5" text-anchor="middle">80E</text>
<text class="ax" x="271.1" y="618.5" text-anchor="middle">90E</text>
<text class="ax" x="360.0" y="618.5" text-anchor="middle">100E</text>
<text class="ax" x="448.9" y="618.5" text-anchor="middle">110E</text>
<text class="ax" x="537.7" y="618.5" text-anchor="middle">120E</text>
<text class="ax" x="626.6" y="618.5" text-anchor="middle">130E</text>
<text class="ax" x="96.6" y="543.6" text-anchor="end">20N</text>
<text class="ax" x="96.6" y="454.7" text-anchor="end">30N</text>
<text class="ax" x="96.6" y="365.9" text-anchor="end">40N</text>
<text class="ax" x="96.6" y="277.0" text-anchor="end">50N</text>
<text class="sm" x="125.7" y="576.6" textLength="76.3" lengthAdjust="spacingAndGlyphs">Scale 1:14 000 000</text>
<text x="337.2" y="636.4" textLength="125.6" lengthAdjust="spacingAndGlyphs" style="font-size:10.4px">Copyright © CEMC, CMA</text>
<path d="M230.7 645.5 L201.8 652.45 L230.7 659.4 Z" fill="#a52a2a" stroke="#000" stroke-width="0.6"/>
<rect x="230.70" y="645.5" width="28.22" height="13.9" fill="#cd0000" stroke="#000" stroke-width="0.6"/>
<rect x="258.92" y="645.5" width="28.22" height="13.9" fill="#ff0000" stroke="#000" stroke-width="0.6"/>
<rect x="287.14" y="645.5" width="28.22" height="13.9" fill="#ff7300" stroke="#000" stroke-width="0.6"/>
<rect x="315.36" y="645.5" width="28.22" height="13.9" fill="#ffaa00" stroke="#000" stroke-width="0.6"/>
<rect x="343.58" y="645.5" width="28.22" height="13.9" fill="#ffe63c" stroke="#000" stroke-width="0.6"/>
<rect x="371.80" y="645.5" width="28.22" height="13.9" fill="#ffffc8" stroke="#000" stroke-width="0.6"/>
<rect x="400.02" y="645.5" width="28.22" height="13.9" fill="#d4f5ff" stroke="#000" stroke-width="0.6"/>
<rect x="428.24" y="645.5" width="28.22" height="13.9" fill="#a0d2ff" stroke="#000" stroke-width="0.6"/>
<rect x="456.46" y="645.5" width="28.22" height="13.9" fill="#00bfff" stroke="#000" stroke-width="0.6"/>
<rect x="484.68" y="645.5" width="28.22" height="13.9" fill="#1e90ff" stroke="#000" stroke-width="0.6"/>
<rect x="512.90" y="645.5" width="28.22" height="13.9" fill="#4169e1" stroke="#000" stroke-width="0.6"/>
<rect x="541.12" y="645.5" width="28.22" height="13.9" fill="#0000cd" stroke="#000" stroke-width="0.6"/>
<path d="M569.34 645.5 L597.5 652.45 L569.34 659.4 Z" fill="#00008b" stroke="#000" stroke-width="0.6"/>
<text class="cb" x="230.7" y="670.6" text-anchor="middle">-200</text>
<text class="cb" x="258.9" y="670.6" text-anchor="middle">-100</text>
<text class="cb" x="287.1" y="670.6" text-anchor="middle">-80</text>
<text class="cb" x="315.4" y="670.6" text-anchor="middle">-50</text>
<text class="cb" x="343.6" y="670.6" text-anchor="middle">-20</text>
<text class="cb" x="371.8" y="670.6" text-anchor="middle">-10</text>
<text class="cb" x="400.0" y="670.6" text-anchor="middle">0</text>
<text class="cb" x="428.2" y="670.6" text-anchor="middle">10</text>
<text class="cb" x="456.5" y="670.6" text-anchor="middle">20</text>
<text class="cb" x="484.7" y="670.6" text-anchor="middle">50</text>
<text class="cb" x="512.9" y="670.6" text-anchor="middle">80</text>
<text class="cb" x="541.1" y="670.6" text-anchor="middle">100</text>
<text class="cb" x="569.3" y="670.6" text-anchor="middle">200</text>
</svg>
</body></html>
